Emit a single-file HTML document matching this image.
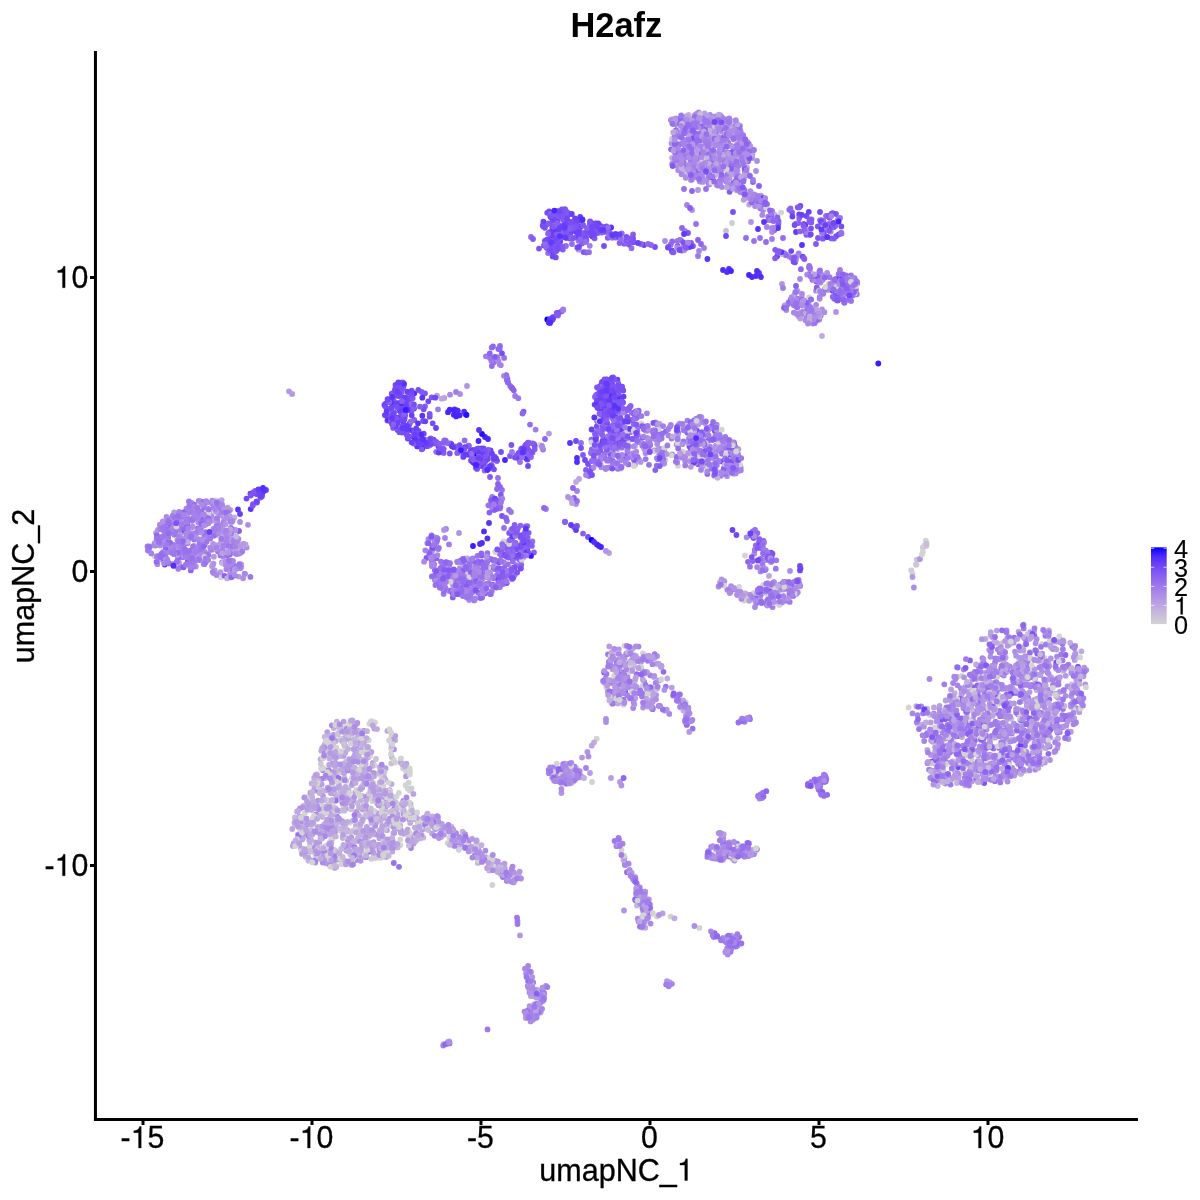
<!DOCTYPE html>
<html><head><meta charset="utf-8"><title>H2afz</title>
<style>
html,body{margin:0;padding:0;background:#fff;}
body{width:1200px;height:1200px;overflow:hidden;font-family:"Liberation Sans",sans-serif;}
svg{display:block;will-change:transform}
text{font-family:"Liberation Sans",sans-serif;fill:#000}
.t text,.t path{stroke:#000;stroke-width:0.3px}
.t path{stroke-width:10px}
.l text{stroke-width:0.12px}
.l path{stroke-width:4px}
</style></head><body>
<svg width="1200" height="1200" viewBox="0 0 1200 1200">
<defs><linearGradient id="cb" x1="0" y1="1" x2="0" y2="0">
<stop offset="0" stop-color="#d3d3d3"/><stop offset="0.125" stop-color="#c8bcda"/><stop offset="0.25" stop-color="#bba5e0"/><stop offset="0.375" stop-color="#ad8ee6"/><stop offset="0.5" stop-color="#9d77ec"/><stop offset="0.625" stop-color="#8a60f1"/><stop offset="0.75" stop-color="#7248f6"/><stop offset="0.875" stop-color="#522dfb"/><stop offset="1" stop-color="#0000ff"/>
</linearGradient></defs>
<rect width="1200" height="1200" fill="#fff"/>
<g fill="none" stroke-width="5.8" stroke-linecap="round">
<path stroke="#d3d3d3" d="M381.2 817.4h0M1049.6 679.9h0M334.7 752.4h0M512.0 559.2h0M327.3 800.1h0M1063.2 671.3h0M1022.6 701.2h0M974.9 724.9h0M628.1 442.6h0M391.8 749.4h0M345.5 727.3h0M574.9 769.7h0M952.2 730.3h0M722.7 135.9h0M966.5 721.4h0M717.3 464.2h0M540.0 445.0h0M343.5 836.4h0M985.7 727.9h0M713.9 427.5h0M395.1 762.5h0M994.6 765.6h0M405.3 831.6h0M452.2 576.7h0M712.3 456.5h0M1036.5 701.9h0M625.2 659.2h0M939.2 721.6h0M760.8 202.0h0M708.0 465.3h0M1080.1 657.4h0M1041.8 644.2h0M1075.2 707.5h0M327.0 830.3h0M626.4 678.4h0M723.4 461.9h0M917.7 724.0h0M534.1 1011.1h0M1008.0 745.9h0M747.7 847.9h0M1029.9 651.8h0M646.4 673.5h0M953.8 777.7h0M778.3 593.9h0M384.4 845.1h0M331.1 834.7h0M366.7 842.4h0M729.1 589.2h0M719.9 583.6h0M606.3 687.2h0M716.2 428.6h0M407.7 770.1h0M665.4 459.9h0M756.8 594.7h0M380.3 858.1h0M333.0 805.6h0M362.4 832.7h0M467.8 572.0h0M308.3 796.9h0M383.8 801.7h0M183.4 555.6h0M1044.4 657.9h0M382.6 789.7h0M391.2 742.6h0M734.7 165.8h0M748.6 594.6h0M703.0 159.6h0M1032.3 700.9h0M318.2 857.8h0M621.0 413.5h0M703.2 160.6h0M686.9 723.0h0M310.8 822.1h0M315.6 856.5h0M1048.9 721.2h0M1027.1 704.1h0M624.4 645.8h0M376.0 791.6h0M341.1 864.2h0M426.6 815.1h0M504.8 867.1h0M371.2 798.4h0M400.7 761.2h0M316.9 801.6h0M312.9 818.2h0M310.9 822.6h0M405.8 770.9h0M680.8 703.6h0M444.3 827.8h0M299.8 828.6h0M382.6 807.8h0"/>
<path stroke="#d0cdd5" d="M369.0 829.4h0M925.2 545.8h0M345.3 729.1h0M371.9 721.3h0M373.9 834.7h0M430.1 826.2h0"/>
<path stroke="#cec7d7" d="M985.3 680.6h0M1079.0 682.3h0M623.9 686.9h0M339.7 779.3h0M407.0 801.3h0"/>
<path stroke="#cbc2d8" d="M391.2 763.4h0M974.5 731.9h0M1001.4 643.3h0M365.0 837.6h0M1005.0 697.5h0M500.9 874.5h0M312.0 783.3h0M302.4 827.7h0M958.4 756.2h0M959.6 721.0h0"/>
<path stroke="#c8bcda" d="M366.2 757.9h0M726.0 231.0h0M365.4 815.9h0M421.8 823.5h0M964.9 702.2h0M934.6 751.9h0M362.4 772.1h0M345.9 761.9h0M737.6 160.3h0"/>
<path stroke="#c5b6dc" d="M417.0 836.6h0M383.5 805.7h0M637.0 905.5h0M414.2 842.3h0M362.4 736.1h0M460.4 566.3h0M733.1 171.1h0M996.9 676.4h0M1025.4 656.2h0M391.7 757.0h0M366.7 797.3h0"/>
<path stroke="#c2b0dd" d="M706.5 138.7h0M338.1 787.4h0M735.9 158.5h0M646.1 908.2h0M1036.1 707.5h0M330.4 777.5h0M328.5 826.7h0M316.0 851.5h0M932.6 774.1h0M329.9 834.7h0M698.8 126.3h0M315.5 842.4h0M409.4 819.2h0M300.0 825.6h0M243.0 545.5h0M711.7 177.8h0M333.7 728.0h0M762.0 593.7h0M1041.1 735.7h0M1060.8 727.1h0M1035.9 732.1h0M312.7 800.7h0M316.8 816.3h0M990.2 701.0h0M954.7 693.1h0M342.7 838.0h0M462.6 831.6h0"/>
<path stroke="#bfabdf" d="M343.3 738.4h0M337.7 820.9h0M1056.8 721.5h0M329.9 741.2h0M392.3 851.7h0M335.5 766.9h0M350.4 845.0h0M324.9 778.1h0M400.1 825.5h0M366.5 754.1h0M1045.7 748.2h0M632.0 697.3h0M966.9 717.0h0M729.6 166.3h0M414.9 813.1h0M989.1 708.3h0M489.2 870.4h0M332.2 781.1h0M391.6 784.1h0M310.6 860.2h0M976.8 780.3h0M1018.8 658.0h0M303.0 838.2h0M381.4 852.2h0M343.5 859.6h0M366.6 810.9h0M354.6 767.6h0M317.7 827.2h0M648.6 912.5h0M324.9 749.0h0M715.1 453.9h0M732.7 858.8h0M796.8 300.1h0M314.0 783.3h0M367.7 740.4h0M1014.8 670.6h0M379.5 789.1h0M332.7 859.3h0M331.4 789.9h0M1024.8 737.5h0M643.3 904.7h0M318.2 856.6h0M385.9 844.8h0M321.3 750.7h0M1049.9 711.9h0M381.8 773.3h0M730.7 126.3h0M921.6 724.7h0M972.5 701.3h0M432.4 816.4h0M402.9 810.2h0M230.6 509.8h0M354.6 854.5h0M302.8 827.7h0M373.0 846.9h0M632.9 648.6h0M530.1 983.9h0M349.2 769.8h0"/>
<path stroke="#bba5e0" d="M747.0 144.3h0M983.5 690.6h0M643.7 658.1h0M377.3 803.4h0M1009.7 740.0h0M411.0 819.8h0M315.4 808.1h0M706.8 172.0h0M343.6 808.2h0M812.0 315.9h0M302.3 839.4h0M635.0 446.0h0M730.8 137.1h0M1030.2 729.7h0M229.1 542.3h0M319.5 851.1h0M989.8 739.2h0M735.0 164.9h0M1076.7 669.7h0M419.1 819.4h0M711.4 151.0h0M342.0 791.8h0M700.0 163.0h0M393.7 846.8h0M1046.8 714.9h0M703.9 154.1h0M644.8 896.6h0M237.7 545.9h0M1018.5 709.1h0M415.8 815.9h0M957.9 777.3h0M412.0 814.4h0M1022.9 752.5h0M342.4 772.2h0M401.0 762.7h0M659.4 423.7h0M966.3 744.6h0M703.1 152.9h0M727.3 168.6h0M365.3 835.3h0M227.5 545.9h0M611.2 683.1h0M1009.4 644.5h0M356.1 841.1h0M1026.5 716.4h0M982.1 663.4h0M347.9 848.9h0M472.0 846.9h0M329.2 832.8h0M941.4 749.6h0M970.2 724.2h0M336.3 828.0h0M334.8 867.9h0"/>
<path stroke="#b89fe2" d="M305.4 827.8h0M329.4 802.0h0M729.6 159.0h0M799.2 584.3h0M716.4 427.3h0M377.3 845.8h0M1021.8 667.5h0M328.6 848.0h0M534.3 1011.8h0M984.8 765.2h0M327.0 832.3h0M377.9 855.6h0M738.5 449.1h0M727.0 170.1h0M1014.4 739.5h0M989.3 756.9h0M967.7 781.4h0M971.2 707.9h0M1041.5 746.2h0M958.8 775.5h0M416.6 819.9h0M958.3 778.9h0M504.0 864.1h0M611.0 682.8h0M410.5 803.8h0M542.5 1001.2h0M935.1 777.6h0M327.7 809.2h0M1041.2 764.0h0M413.9 818.9h0M396.9 817.3h0M611.0 778.0h0M326.2 863.3h0M342.6 794.5h0M994.6 704.0h0M310.4 792.7h0M1002.8 742.9h0M970.3 699.4h0M1042.3 693.4h0M319.5 847.4h0M315.1 804.2h0M302.4 850.6h0M683.9 702.3h0M397.6 804.1h0M956.8 667.1h0M678.2 425.1h0M678.9 123.3h0M693.2 119.8h0M305.8 856.7h0M723.0 836.6h0M738.5 457.4h0M745.2 139.1h0M760.0 197.7h0M609.0 553.0h0M717.5 121.2h0M368.5 757.1h0M952.2 779.0h0M355.9 740.4h0M1005.5 706.9h0M1050.2 737.6h0M356.2 813.5h0M735.9 450.0h0M736.0 849.1h0M1004.7 734.5h0M702.6 149.1h0M747.2 595.7h0"/>
<path stroke="#b599e3" d="M936.9 768.5h0M618.1 690.2h0M368.3 833.1h0M732.7 186.0h0M359.3 850.6h0M700.7 133.5h0M682.2 133.7h0M1009.2 770.6h0M704.5 118.9h0M327.8 800.7h0M174.2 512.3h0M532.1 1013.4h0M696.6 149.8h0M478.1 849.0h0M1009.9 753.3h0M371.3 844.8h0M1039.9 705.4h0M693.9 147.4h0M155.6 545.4h0M241.2 564.5h0M209.3 513.3h0M936.1 752.0h0M955.9 764.8h0M604.6 682.7h0M968.9 776.9h0M1027.4 703.8h0M941.2 728.3h0M313.3 851.7h0M1014.0 703.4h0M681.2 124.0h0M736.2 940.2h0M573.4 767.5h0M722.9 160.6h0M730.4 450.5h0M984.9 711.8h0M609.3 646.4h0M971.8 781.5h0M639.2 659.1h0M461.8 843.9h0M1028.1 638.9h0M737.2 164.9h0M332.9 760.8h0M620.6 468.4h0M728.5 160.4h0M652.7 692.9h0M984.9 714.7h0M736.2 176.4h0M983.1 664.6h0M644.7 922.3h0M992.8 694.0h0M1034.9 718.6h0M645.5 453.3h0M1007.4 637.8h0M956.9 677.0h0M366.7 833.2h0M1018.1 763.4h0M783.4 589.5h0M729.0 166.1h0M177.3 539.8h0M982.8 773.9h0M645.4 671.8h0M762.0 197.5h0M1030.2 632.1h0M217.6 574.5h0M994.9 737.5h0M394.2 832.9h0M1012.8 688.7h0"/>
<path stroke="#b194e5" d="M391.8 847.3h0M1068.1 731.3h0M989.6 779.3h0M544.1 993.1h0M443.4 826.6h0M1019.2 757.3h0M435.4 829.0h0M933.6 729.5h0M728.1 856.3h0M388.2 841.2h0M236.7 544.2h0M224.1 519.1h0M951.9 713.3h0M1023.6 624.6h0M1048.8 732.1h0M735.8 130.7h0M563.7 777.8h0M198.1 522.4h0M1007.1 696.8h0M776.6 589.7h0M635.7 900.4h0M794.2 295.1h0M383.3 812.1h0M705.1 141.4h0M541.8 989.9h0M954.4 750.9h0M712.4 133.9h0M641.3 668.6h0M561.4 793.0h0M667.0 981.1h0M1053.4 727.6h0M960.0 703.5h0M607.4 427.7h0M940.5 721.9h0M992.7 756.4h0M221.9 504.3h0M347.6 830.5h0M705.5 458.0h0M687.4 154.7h0M815.7 313.3h0M735.9 183.9h0M962.2 693.2h0M633.2 665.6h0M446.5 566.9h0M673.4 138.7h0M651.6 702.2h0M304.4 833.7h0M728.2 160.1h0M726.8 165.6h0M306.4 824.5h0M535.7 1007.6h0M1031.8 676.9h0M932.7 741.7h0M686.2 128.9h0M981.7 750.4h0M1083.5 676.3h0M967.5 698.8h0M727.0 476.2h0M240.0 568.3h0M972.6 745.5h0M989.2 649.8h0M1018.5 762.6h0M683.2 428.6h0M626.2 653.6h0M676.6 444.4h0M671.5 143.3h0M394.0 749.3h0M385.6 807.1h0M971.4 751.6h0M1085.3 684.4h0M684.4 166.7h0M731.8 172.4h0M997.8 776.4h0M940.6 726.3h0M941.4 717.1h0M971.3 769.9h0M678.4 162.5h0M345.4 787.6h0M693.0 134.3h0"/>
<path stroke="#ad8ee6" d="M767.8 589.5h0M204.9 552.0h0M1007.0 707.8h0M1080.9 698.1h0M1003.5 716.2h0M1065.6 695.8h0M1033.6 710.2h0M992.0 666.0h0M346.7 863.5h0M990.4 656.8h0M747.5 597.9h0M751.5 533.3h0M793.8 590.5h0M1058.2 707.6h0M323.0 832.1h0M316.3 816.4h0M357.4 852.6h0M947.7 735.2h0M605.6 469.1h0M946.5 736.4h0M967.1 720.3h0M1076.7 708.5h0M979.7 746.4h0M1040.0 741.3h0M779.7 584.7h0M990.8 652.3h0M721.0 131.0h0M968.9 747.2h0M647.6 430.7h0M469.1 600.0h0M750.6 198.4h0M984.7 749.7h0M942.5 736.1h0M637.8 918.6h0M665.0 241.0h0M159.8 524.7h0M688.7 426.3h0M315.3 862.6h0M986.6 729.5h0M827.6 289.9h0M675.7 118.3h0M751.1 597.1h0M996.8 723.2h0M687.0 143.9h0M836.4 291.0h0M707.9 169.3h0M720.2 138.8h0M185.3 552.3h0M822.0 309.4h0M984.9 708.8h0M718.8 859.1h0M476.7 566.1h0M980.0 708.0h0M175.4 519.2h0M1008.9 763.8h0M735.6 133.4h0M768.4 589.6h0M986.2 724.4h0M633.7 446.3h0M701.3 162.2h0M181.3 518.7h0M819.6 298.8h0M689.6 461.1h0M324.8 769.8h0M726.7 127.6h0M683.1 442.6h0M366.2 797.0h0M737.0 149.6h0M680.7 162.1h0M203.7 544.6h0M696.4 437.9h0M502.0 577.1h0M734.5 860.5h0M210.3 521.2h0M789.1 256.6h0M616.4 650.2h0M1075.2 645.8h0M460.0 394.0h0M620.7 663.3h0M311.6 824.0h0M576.0 504.0h0M319.2 815.3h0M718.4 137.0h0M694.3 151.2h0M157.4 564.2h0M643.8 899.4h0M951.5 705.6h0M606.0 719.0h0M1032.3 747.2h0"/>
<path stroke="#a988e8" d="M658.7 706.0h0M701.5 176.6h0M976.1 765.3h0M1003.8 675.5h0M218.2 524.5h0M736.6 165.5h0M995.4 685.8h0M238.4 538.9h0M698.8 112.4h0M695.1 446.4h0M239.4 553.5h0M1031.3 706.8h0M694.8 167.3h0M962.5 688.7h0M747.4 160.1h0M709.3 145.0h0M764.6 560.2h0M798.1 302.8h0M710.8 165.9h0M1082.1 704.4h0M1002.8 778.8h0M204.5 563.8h0M1026.3 752.0h0M444.9 829.6h0M714.1 151.5h0M174.4 534.7h0M681.5 159.3h0M819.4 319.5h0M730.8 855.5h0M565.3 763.6h0M506.8 880.9h0M709.9 449.1h0M314.0 783.8h0M530.9 980.8h0M806.3 311.0h0M715.4 858.7h0M1033.1 724.1h0M979.9 719.5h0M534.2 1014.2h0M712.3 132.8h0M746.7 151.7h0M957.0 723.3h0M474.9 585.3h0M733.8 139.4h0M597.0 420.9h0M739.2 181.2h0M816.1 290.7h0M217.5 501.3h0M208.2 519.6h0M681.0 131.7h0M229.1 510.4h0M529.5 992.4h0M534.1 1008.2h0M685.1 460.8h0M752.0 158.0h0M215.3 529.8h0M531.2 1014.9h0M494.9 866.1h0M181.9 550.1h0M945.5 762.8h0M816.1 304.8h0M609.2 664.9h0M540.8 998.4h0M700.1 453.9h0M216.1 545.7h0M744.7 850.4h0M963.4 708.2h0M1038.8 742.1h0M954.2 676.7h0M1051.5 726.7h0M1001.8 666.1h0M643.0 922.1h0M675.5 152.5h0M939.7 712.8h0M200.3 501.5h0M1028.8 738.5h0M771.0 562.0h0M800.0 279.0h0M727.8 851.1h0M356.0 860.0h0M723.8 849.1h0M677.8 126.6h0M976.1 766.7h0M849.4 290.0h0M994.3 674.6h0M771.9 228.2h0"/>
<path stroke="#a583e9" d="M962.8 704.8h0M638.5 646.6h0M989.9 697.6h0M728.2 142.5h0M206.3 518.4h0M613.1 696.8h0M511.8 547.4h0M930.3 777.9h0M608.8 661.9h0M1003.5 761.8h0M428.5 539.1h0M696.5 144.1h0M477.3 564.2h0M221.9 541.2h0M493.2 584.6h0M460.9 587.6h0M687.4 176.2h0M443.0 573.4h0M724.8 437.9h0M854.9 292.6h0M403.3 801.0h0M960.9 688.5h0M1068.6 732.7h0M996.3 682.0h0M164.3 561.2h0M622.6 411.7h0M334.2 761.5h0M1029.4 721.2h0M730.7 591.8h0M1012.5 678.7h0M713.3 122.8h0M577.0 491.0h0M950.8 741.3h0M570.6 769.5h0M198.2 515.4h0M720.3 438.0h0M308.7 804.5h0M644.7 655.7h0M917.6 715.2h0M703.2 148.7h0M648.9 655.9h0M217.3 520.4h0M981.3 698.9h0M179.6 528.0h0M354.8 778.6h0M216.5 527.0h0M335.2 762.8h0M234.7 536.2h0M738.1 143.4h0M921.2 706.5h0M743.4 158.9h0M977.0 750.8h0M648.4 440.9h0M701.2 153.8h0M707.6 139.5h0M578.9 772.6h0M623.6 673.6h0M470.5 598.8h0M533.2 982.5h0M597.1 460.0h0M692.5 440.8h0M678.3 432.8h0M744.2 849.2h0M165.7 537.8h0M1005.5 747.7h0M952.9 745.5h0M622.6 843.7h0M949.0 751.6h0M315.4 860.4h0M1018.8 772.2h0M700.3 146.1h0M702.5 178.6h0M655.6 682.8h0M689.3 169.2h0M434.3 564.5h0M446.0 529.0h0M747.2 197.5h0M997.8 649.3h0M164.8 550.8h0M312.2 849.1h0M683.6 158.4h0M693.0 441.5h0M801.2 298.8h0M927.1 733.1h0M616.5 846.2h0M639.8 887.4h0M849.6 283.7h0M1047.6 672.5h0M696.8 456.2h0M707.9 125.9h0M1021.2 684.8h0M572.5 777.3h0M731.0 146.1h0M1035.0 703.0h0M935.1 716.3h0M229.8 518.2h0M387.1 843.9h0M230.3 520.0h0M734.1 442.5h0M438.9 823.5h0M196.6 517.2h0M652.6 438.3h0M726.3 138.6h0M734.2 589.0h0M457.2 591.5h0M166.9 558.8h0M1041.4 666.5h0M699.6 180.7h0M729.6 855.0h0M1020.4 770.7h0M622.7 679.6h0M394.1 809.0h0M727.5 458.5h0M446.1 574.6h0M346.6 850.5h0M226.5 553.8h0M957.5 685.3h0M993.6 773.1h0M194.9 518.1h0M808.9 307.6h0M724.5 842.6h0M207.7 533.9h0M671.9 983.8h0M538.1 1012.8h0"/>
<path stroke="#a17dea" d="M1062.5 660.4h0M1026.1 697.8h0M1068.4 664.6h0M710.0 162.1h0M529.6 1017.3h0M681.6 120.7h0M230.6 520.9h0M726.8 165.4h0M1055.8 693.9h0M726.0 181.3h0M446.9 569.7h0M610.2 661.8h0M1028.1 678.5h0M324.3 745.7h0M485.7 571.3h0M199.8 531.0h0M464.6 586.8h0M707.4 856.9h0M172.7 515.9h0M716.5 145.0h0M739.3 937.1h0M785.3 255.0h0M704.0 248.0h0M165.4 523.8h0M1010.2 638.4h0M718.9 125.9h0M1022.8 692.0h0M1051.3 708.6h0M1048.7 737.9h0M655.6 422.5h0M974.8 729.1h0M988.8 698.1h0M173.5 544.9h0M668.7 986.3h0M466.8 597.6h0M589.8 245.8h0M995.3 658.4h0M818.7 779.5h0M974.7 672.0h0M733.8 471.9h0M984.0 731.9h0M485.9 356.3h0M738.7 850.6h0M618.4 440.2h0M721.7 442.9h0M714.8 431.0h0M682.9 143.4h0M845.9 284.3h0M1050.8 728.4h0M217.9 551.4h0M1047.0 720.4h0M474.6 586.8h0M497.0 561.7h0M585.6 242.1h0M196.3 533.3h0M477.8 570.2h0M951.4 740.7h0M629.8 687.1h0M772.0 239.0h0M678.7 694.6h0M1041.1 691.9h0M610.2 442.3h0M633.4 438.7h0M196.8 516.1h0M647.8 660.8h0M795.1 587.8h0M1027.4 694.2h0M623.4 672.2h0M1000.0 723.8h0M625.3 864.9h0M469.6 580.6h0M711.2 157.4h0M991.8 763.3h0M747.5 849.2h0M726.8 122.3h0M1013.6 674.0h0M955.0 702.1h0M1019.8 673.9h0M1011.8 733.6h0M1053.0 684.9h0"/>
<path stroke="#9d77ec" d="M194.3 515.6h0M692.1 429.3h0M182.5 557.2h0M775.8 568.7h0M616.0 670.5h0M1049.8 715.3h0M757.8 560.7h0M463.1 584.5h0M623.7 699.6h0M1000.3 782.4h0M714.1 475.5h0M788.2 304.0h0M591.5 468.8h0M199.5 541.9h0M470.8 571.5h0M835.9 297.3h0M608.0 654.3h0M1059.4 719.0h0M473.3 584.6h0M669.4 984.3h0M965.4 721.6h0M1037.3 757.1h0M808.5 317.3h0M198.2 550.8h0M696.7 158.3h0M1036.6 684.3h0M727.2 175.0h0M715.4 936.3h0M436.5 542.4h0M737.1 855.9h0M701.0 421.6h0M502.9 877.0h0M851.0 275.3h0M184.7 548.8h0M1003.4 730.6h0M763.0 553.1h0M729.6 856.6h0M733.6 473.5h0M512.4 567.9h0M737.0 843.7h0M693.2 436.6h0M967.0 748.1h0M724.4 161.5h0M797.0 313.9h0M1009.0 637.2h0M981.3 702.1h0M678.9 169.3h0M640.1 441.4h0M615.9 237.7h0M981.4 761.8h0M722.1 940.0h0M466.0 580.4h0M564.2 229.2h0M807.2 305.8h0M644.6 914.2h0M674.2 133.1h0M748.8 144.0h0M206.7 541.5h0M712.4 856.9h0M701.2 133.3h0M722.8 938.1h0M441.7 581.0h0M707.9 852.2h0M534.9 1009.9h0M749.6 153.3h0M563.2 764.2h0M1045.4 635.8h0M489.9 357.9h0M187.9 558.8h0M170.2 524.9h0M174.1 534.1h0M758.2 597.6h0M219.1 533.3h0M1062.9 727.0h0M497.0 577.6h0M943.2 729.4h0M510.3 570.0h0"/>
<path stroke="#9871ed" d="M494.6 569.1h0M694.3 145.2h0M973.6 700.6h0M707.0 432.7h0M809.5 318.7h0M657.5 433.6h0M502.0 490.0h0M492.4 585.6h0M946.2 762.1h0M719.9 833.2h0M617.8 235.6h0M731.8 135.2h0M760.0 238.0h0M703.6 438.5h0M166.1 561.4h0M955.3 771.1h0M707.3 463.0h0M513.4 550.9h0M470.6 573.6h0M750.0 566.7h0M992.2 768.2h0M483.5 567.5h0M617.8 468.8h0M174.8 522.1h0M707.1 457.4h0M737.4 153.4h0M191.1 555.0h0M578.5 240.8h0M729.1 170.7h0M621.8 447.7h0M507.9 382.2h0M1027.5 668.9h0M1009.4 706.7h0M201.6 511.4h0M955.4 774.7h0M976.1 765.3h0M690.9 423.4h0M624.7 862.1h0M836.2 222.3h0M179.1 553.1h0M464.7 558.6h0M652.8 707.8h0M435.4 585.1h0M813.7 315.4h0M1027.8 697.5h0M186.8 535.1h0M996.6 712.8h0M627.0 409.5h0M507.9 564.3h0M695.4 150.3h0M627.0 430.8h0M631.7 412.8h0M723.4 138.1h0M767.1 600.7h0M198.4 516.8h0M699.6 124.8h0M733.2 458.2h0M644.5 893.9h0M731.2 121.2h0M856.1 294.4h0M982.5 726.3h0M638.6 693.0h0M1022.5 681.9h0M482.2 597.6h0M479.6 570.1h0M399.0 866.8h0M711.8 426.4h0M433.2 563.2h0M192.4 549.3h0M1030.2 686.3h0M675.3 164.2h0M984.7 693.0h0M807.9 785.6h0"/>
<path stroke="#946cee" d="M760.5 797.5h0M774.3 230.2h0M690.5 447.0h0M497.1 575.0h0M1034.8 679.1h0M691.3 444.7h0M721.4 440.8h0M736.9 452.7h0M621.2 429.4h0M612.2 417.7h0M624.4 411.8h0M493.5 362.5h0M437.5 581.0h0M644.3 905.0h0M663.4 459.7h0M616.8 435.4h0M474.2 598.9h0M753.0 534.3h0M942.5 727.6h0M1029.9 652.8h0M737.7 156.1h0M1062.4 643.8h0M841.8 296.4h0M613.4 703.2h0M603.2 438.8h0M491.7 347.6h0M748.9 195.2h0M691.7 455.3h0M636.7 674.1h0M1048.4 753.8h0M202.2 545.5h0M621.8 233.4h0M530.0 424.6h0M842.7 287.6h0M566.0 246.0h0M820.7 315.6h0M442.1 573.5h0M976.2 778.1h0M690.8 143.7h0M605.7 231.6h0M501.3 500.0h0M762.0 542.0h0M204.4 534.8h0M460.3 587.0h0M1020.4 695.2h0M1002.6 674.4h0M823.5 221.0h0M687.8 711.8h0M190.5 550.7h0M581.0 443.0h0M464.6 440.4h0M727.4 939.8h0M993.5 748.4h0M469.4 563.1h0M657.9 459.2h0M751.3 854.7h0M812.4 279.8h0M436.2 451.8h0M728.2 851.6h0M604.9 458.4h0M723.0 844.5h0M193.8 560.9h0M698.4 136.3h0M953.5 743.8h0M736.0 946.6h0"/>
<path stroke="#8f66f0" d="M500.5 568.6h0M632.4 438.9h0M521.0 554.3h0M504.5 576.1h0M591.5 439.7h0M844.0 292.9h0M475.0 460.7h0M620.5 430.3h0M671.1 149.3h0M500.6 499.7h0M729.2 133.2h0M499.6 349.0h0M821.6 778.4h0M710.0 126.2h0M713.2 134.5h0M561.6 311.4h0M723.8 439.8h0M553.7 255.1h0M551.2 233.1h0M739.3 188.4h0M478.1 592.6h0M504.2 567.9h0M1023.2 673.5h0M708.4 154.5h0M952.2 747.8h0M186.3 542.5h0M978.3 665.9h0M753.0 182.0h0M774.4 216.9h0M492.5 507.8h0M611.8 432.8h0M782.7 253.4h0M654.9 437.1h0M595.0 449.1h0M748.2 161.3h0M793.2 595.9h0M1066.2 666.4h0M594.0 453.7h0M737.9 937.8h0M854.2 290.4h0M501.5 555.7h0M692.0 191.0h0M186.7 542.8h0M755.0 530.0h0M758.4 203.4h0M530.2 451.9h0M573.0 488.0h0M531.0 237.0h0M686.4 116.9h0M621.0 420.0h0"/>
<path stroke="#8a60f1" d="M610.3 431.7h0M394.0 401.5h0M555.9 242.9h0M555.2 221.7h0M617.5 429.6h0M560.6 215.8h0M519.2 459.5h0M588.9 234.9h0M686.9 431.0h0M623.7 422.1h0M600.5 413.0h0M601.5 394.8h0M630.2 406.6h0M519.1 557.6h0M712.7 428.1h0M494.2 510.1h0M337.0 817.0h0M612.8 425.3h0M434.8 569.9h0M644.5 426.4h0M181.0 546.7h0M610.3 441.7h0M619.6 243.0h0M489.3 567.7h0M527.1 549.6h0M604.8 381.6h0M825.6 777.2h0M768.4 219.9h0M492.1 584.7h0M523.1 548.8h0M689.2 128.4h0M995.9 730.9h0M512.1 578.9h0M526.0 535.1h0"/>
<path stroke="#845af2" d="M642.9 437.6h0M386.6 408.3h0M589.4 227.7h0M515.3 543.3h0M798.3 223.1h0M803.7 223.9h0M403.7 385.8h0M755.1 595.4h0M509.9 541.7h0M413.6 442.7h0M939.6 758.4h0M696.2 420.7h0M481.7 555.6h0M1044.6 739.4h0M485.2 593.3h0M566.4 228.8h0M605.7 396.9h0M595.0 397.0h0M750.9 535.5h0M506.2 375.1h0M515.6 542.8h0M500.0 573.4h0M610.0 404.8h0M611.7 402.0h0M766.9 204.2h0M604.3 401.6h0M648.6 445.7h0M607.8 237.8h0M522.8 536.4h0M760.3 541.7h0M534.7 446.3h0M711.3 172.3h0M816.0 244.0h0M1056.5 724.1h0M977.0 726.7h0M698.3 464.3h0M572.5 225.4h0M510.0 456.0h0M729.6 191.8h0M444.3 563.5h0M624.3 243.7h0M599.7 229.3h0"/>
<path stroke="#7e54f3" d="M836.0 214.0h0M697.0 430.7h0M984.2 783.0h0M838.0 300.3h0M555.2 242.4h0M653.4 422.9h0M609.9 396.9h0M640.3 891.5h0M587.8 232.7h0M580.7 226.9h0M607.5 443.7h0M611.7 412.1h0M401.9 418.1h0M1063.8 719.0h0M386.3 415.0h0M618.5 405.2h0M539.0 248.6h0M469.6 455.1h0M728.0 851.5h0M598.3 404.6h0M425.0 393.3h0M561.8 209.4h0M583.6 252.1h0M493.6 578.1h0M406.3 427.8h0M544.0 245.5h0M509.2 532.9h0M542.7 225.4h0M715.0 430.7h0M558.1 232.7h0M617.0 410.6h0"/>
<path stroke="#784ef5" d="M702.4 153.8h0M562.6 218.0h0M423.0 421.0h0M410.2 402.6h0M832.7 213.2h0M612.8 387.4h0M611.7 412.8h0M569.0 235.0h0M434.8 548.1h0M407.0 431.7h0M576.8 236.6h0M564.6 220.3h0M415.6 434.5h0M407.8 428.2h0M526.2 444.3h0M478.6 450.8h0M478.3 452.2h0M496.9 460.7h0M590.2 229.6h0M1038.1 684.5h0M940.6 719.2h0M603.0 227.2h0M811.0 228.5h0M387.4 420.6h0M434.8 443.4h0M958.0 736.0h0M619.4 408.3h0M771.0 552.7h0M836.1 236.2h0M820.0 212.0h0M613.0 378.7h0M597.6 225.7h0M522.7 451.1h0M515.0 457.6h0M606.4 226.5h0M390.2 420.9h0M391.3 408.9h0M581.0 448.0h0M597.0 394.5h0"/>
<path stroke="#7248f6" d="M414.0 432.6h0M597.9 421.2h0M567.7 229.4h0M726.9 162.7h0M565.3 236.3h0M613.9 389.1h0M554.5 228.7h0M400.5 426.9h0M600.2 414.5h0M719.5 120.2h0M433.6 439.7h0M600.9 410.0h0M607.9 387.4h0M606.9 399.8h0M560.3 241.2h0M468.6 445.7h0M624.2 438.9h0M398.4 389.0h0M477.2 449.0h0M686.2 245.4h0M418.6 430.8h0M573.1 229.2h0M613.3 393.3h0M389.6 416.2h0M576.0 441.0h0M647.6 907.6h0M1078.0 667.0h0M553.3 221.9h0M471.0 460.6h0M616.9 389.2h0M627.6 437.5h0M558.4 224.9h0"/>
<path stroke="#6b41f7" d="M403.5 400.9h0M611.0 381.4h0M600.0 409.4h0M568.6 229.7h0M609.1 383.9h0M553.7 250.5h0M487.2 470.0h0M602.5 441.5h0M397.7 430.0h0M618.3 388.9h0M250.4 493.7h0M583.0 235.3h0M799.2 214.4h0M613.3 409.8h0M845.1 293.4h0M615.9 405.6h0M732.5 530.0h0M436.0 428.0h0M603.5 383.3h0M644.0 245.0h0M403.2 422.3h0"/>
<path stroke="#633bf8" d="M809.9 234.8h0M550.0 323.0h0M401.4 413.2h0M479.6 464.5h0M701.1 421.4h0M605.8 398.3h0M613.2 394.9h0M409.5 423.7h0M472.4 451.3h0"/>
<path stroke="#5b34f9" d="M606.8 395.2h0M522.6 543.0h0M397.4 417.6h0M758.0 229.0h0M668.0 247.6h0M601.3 444.7h0M591.0 225.7h0M487.1 455.9h0M422.3 415.7h0M556.3 230.0h0"/>
<path stroke="#522dfb" d="M595.8 231.0h0M480.0 544.0h0M752.0 277.0h0M625.0 691.5h0M454.6 409.5h0M549.8 320.7h0M600.4 391.1h0M579.0 219.9h0"/>
<path stroke="#4725fc" d="M594.3 234.0h0M505.0 460.0h0M601.0 547.0h0M597.0 544.4h0M551.4 320.3h0"/>
<path stroke="#3a1cfd" d="M422.4 448.6h0"/>
<path stroke="#d3d3d3" d="M340.9 739.0h0M677.9 120.7h0M939.9 751.8h0M704.2 440.1h0M739.0 587.0h0M730.8 458.6h0M742.9 593.9h0M979.2 675.5h0M768.1 595.7h0M779.1 222.2h0M789.4 591.9h0M357.0 811.5h0M349.9 822.5h0M417.9 823.2h0M369.3 723.8h0M609.9 696.9h0M740.9 458.5h0M1004.9 778.9h0M966.4 687.3h0M421.9 820.3h0M964.5 766.3h0M1073.6 709.6h0M351.9 865.2h0M738.2 846.4h0M628.2 674.0h0M643.0 653.5h0M391.3 736.9h0M523.6 556.9h0M195.1 538.8h0M739.6 154.3h0M394.0 760.2h0M184.5 514.7h0M818.8 282.6h0M343.4 756.4h0M689.7 124.7h0M616.3 681.0h0M387.3 823.3h0M400.1 807.9h0M375.7 857.8h0M636.4 686.4h0M1044.2 659.4h0M1036.8 638.6h0M642.4 915.9h0M154.6 556.2h0M685.8 702.3h0M1046.4 662.7h0M652.5 913.8h0M447.7 843.1h0M329.8 842.1h0M726.9 847.8h0M990.5 774.6h0M536.8 1008.5h0M679.6 127.9h0M366.6 776.3h0M690.6 160.9h0M225.5 562.4h0M938.5 762.4h0M411.2 807.5h0M596.7 738.7h0M995.4 693.9h0M1026.0 738.1h0M307.4 857.9h0M705.3 456.9h0M390.7 797.2h0M646.3 692.9h0M976.8 685.7h0M370.0 755.7h0M400.3 839.4h0M330.4 753.0h0M991.9 712.7h0M676.9 434.8h0M350.4 809.1h0M735.2 859.1h0M560.2 782.9h0M351.8 854.0h0M973.6 723.9h0M959.8 699.6h0M700.6 438.5h0M535.0 1018.4h0M339.4 793.8h0M215.7 500.4h0M362.7 841.3h0M781.1 212.6h0M1059.9 726.6h0M828.7 283.8h0M736.7 856.9h0M977.9 690.9h0M641.5 423.3h0M356.6 732.1h0M396.5 796.5h0M770.2 598.1h0M371.0 795.9h0M220.6 577.4h0"/>
<path stroke="#d0cdd5" d="M340.4 857.1h0M347.0 848.7h0"/>
<path stroke="#cec7d7" d="M512.5 875.4h0M332.6 738.5h0M329.6 818.8h0M353.5 739.6h0M922.9 547.5h0"/>
<path stroke="#cbc2d8" d="M329.4 819.7h0M384.0 802.2h0M379.2 799.6h0M346.3 780.8h0M949.1 753.2h0M690.4 179.8h0M339.7 811.0h0M694.2 153.6h0"/>
<path stroke="#c8bcda" d="M329.7 774.3h0M338.4 732.9h0M323.9 825.9h0M329.3 825.9h0M408.4 818.0h0M635.0 680.8h0M360.7 737.2h0M364.8 777.2h0M381.7 807.7h0M351.1 740.4h0M1028.0 634.0h0M331.7 850.0h0M355.5 752.4h0M383.9 851.3h0M412.9 815.8h0"/>
<path stroke="#c5b6dc" d="M1018.4 746.7h0M656.9 688.9h0M340.1 859.1h0M338.6 770.8h0M1011.1 718.8h0M345.3 733.3h0M365.6 751.0h0M360.8 849.0h0M362.0 759.7h0M308.6 860.7h0M1016.7 730.5h0M312.4 807.3h0M969.1 749.1h0M947.3 737.7h0M350.4 854.6h0M336.7 775.1h0M718.1 173.9h0M395.2 740.3h0M359.7 826.1h0M322.1 832.4h0M352.8 781.2h0"/>
<path stroke="#c2b0dd" d="M228.0 551.9h0M346.0 768.1h0M338.0 779.7h0M336.0 740.9h0M371.5 722.3h0M347.0 800.6h0M412.2 836.0h0M370.5 788.7h0M334.6 816.4h0M694.5 432.3h0M418.8 834.2h0M624.1 665.4h0M997.3 758.2h0M352.9 820.7h0M358.7 854.0h0M672.0 158.0h0M309.9 845.2h0M539.1 1008.8h0M326.0 776.9h0M357.9 837.8h0M362.2 751.9h0M774.7 214.6h0M394.8 828.5h0M322.1 814.5h0M234.4 517.5h0M336.4 796.1h0M955.6 770.5h0M706.8 124.2h0M347.3 862.1h0"/>
<path stroke="#bfabdf" d="M345.5 848.9h0M369.0 849.4h0M371.0 779.0h0M355.9 825.9h0M1039.8 660.7h0M325.8 846.5h0M747.0 167.4h0M365.6 815.2h0M977.2 751.3h0M1034.5 759.2h0M356.3 724.0h0M237.4 541.6h0M993.0 714.9h0M359.6 774.4h0M417.2 828.3h0M1023.0 648.0h0M458.9 848.9h0M930.7 731.2h0M615.6 678.9h0M594.0 742.4h0M443.6 1044.2h0M1053.2 717.7h0M395.3 824.2h0M996.8 642.8h0M421.8 826.3h0M822.0 336.0h0M999.3 759.5h0M332.1 838.7h0M1032.1 673.3h0M617.5 653.0h0M561.2 773.8h0M368.0 842.0h0M320.6 759.2h0M346.7 795.9h0M976.1 664.5h0M488.4 862.4h0"/>
<path stroke="#bba5e0" d="M308.3 857.2h0M431.8 820.5h0M359.6 773.7h0M646.7 698.6h0M703.4 161.2h0M345.0 740.2h0M307.6 855.1h0M691.8 144.6h0M816.3 309.5h0M368.2 816.5h0M1026.4 694.2h0M343.3 772.0h0M380.3 773.2h0M1063.9 669.9h0M1037.5 708.9h0M1008.5 711.6h0M1048.9 630.3h0M309.3 840.3h0M654.9 658.1h0M1025.6 644.3h0M396.2 810.6h0M345.1 746.2h0M319.2 787.5h0M724.3 126.7h0M1007.2 771.7h0M342.1 740.9h0M635.7 879.6h0M404.0 833.8h0M332.5 771.8h0M1023.4 679.7h0M362.5 854.0h0M320.4 855.6h0M369.4 836.0h0M331.0 746.2h0M931.7 731.9h0M295.4 820.3h0M933.9 707.4h0M989.4 670.5h0M1051.4 677.4h0M348.0 738.7h0M352.6 725.2h0M741.5 178.7h0M927.3 749.8h0M223.8 537.3h0M540.5 1012.5h0M350.4 831.8h0M713.2 136.0h0M987.6 772.6h0M1012.4 732.1h0M961.0 696.7h0M432.1 833.4h0M372.9 762.8h0M332.0 779.2h0M1052.2 720.2h0M1077.2 683.3h0M334.5 852.6h0M403.6 813.2h0M579.0 479.0h0M374.3 728.6h0M700.9 181.6h0"/>
<path stroke="#b89fe2" d="M734.6 135.6h0M331.9 753.4h0M378.3 814.4h0M412.9 838.1h0M1002.5 724.9h0M951.1 689.4h0M345.5 808.7h0M986.1 715.3h0M925.0 712.5h0M1002.2 777.6h0M1014.4 724.9h0M292.9 845.9h0M444.3 398.0h0M637.5 898.6h0M237.9 542.2h0M461.2 570.7h0M968.7 728.2h0M437.0 395.7h0M500.3 872.8h0M363.6 774.7h0M980.2 763.8h0M398.1 827.2h0M959.9 726.0h0M218.6 529.9h0M651.8 708.4h0M978.6 685.8h0M403.2 819.3h0M656.4 663.8h0M364.1 856.6h0M352.3 799.3h0M945.7 700.5h0M368.4 794.8h0M697.7 162.2h0M393.5 832.9h0M942.4 745.8h0M372.5 849.4h0M494.5 868.5h0M688.0 150.9h0M318.7 827.4h0M1021.7 677.0h0M1002.2 752.5h0M765.3 591.0h0M395.3 736.0h0M989.6 737.8h0M717.6 157.3h0M301.0 848.2h0M691.1 180.1h0M1079.3 712.2h0M676.3 165.3h0M184.3 555.4h0M387.1 856.2h0M362.8 819.5h0M212.9 565.0h0M422.1 829.7h0"/>
<path stroke="#b599e3" d="M461.7 838.1h0M680.7 121.9h0M985.6 765.9h0M731.2 935.7h0M610.0 683.2h0M363.7 743.5h0M203.1 523.9h0M692.6 120.5h0M681.6 136.7h0M690.6 426.3h0M384.7 802.8h0M736.8 157.6h0M489.6 866.5h0M676.9 427.3h0M729.7 178.8h0M669.8 982.5h0M1003.9 772.3h0M540.6 1012.0h0M713.3 142.3h0M328.9 854.1h0M963.9 762.9h0M1042.8 722.8h0M558.0 778.1h0M982.8 697.0h0M222.2 554.5h0M525.8 1018.1h0M351.6 844.5h0M220.5 572.1h0M743.7 154.0h0M362.6 809.5h0M1033.2 736.4h0M1005.9 767.4h0M373.6 842.2h0M709.7 169.7h0M298.4 834.4h0M654.4 676.0h0M621.7 701.7h0M1065.7 675.8h0M333.8 772.4h0M607.3 685.5h0M383.6 842.4h0M985.5 721.5h0M1051.3 705.6h0M992.8 688.8h0M960.4 722.4h0M362.6 731.6h0M735.7 459.0h0M681.3 700.7h0M685.6 143.2h0M1019.5 751.7h0M1046.2 727.7h0M971.6 687.6h0M353.5 856.4h0M800.4 314.3h0M351.3 837.4h0M385.6 768.2h0M690.9 149.3h0M688.5 123.3h0M528.2 1013.6h0M515.0 873.8h0M693.2 121.3h0M191.2 518.9h0M339.3 818.6h0M324.3 829.1h0M652.5 694.5h0M520.0 935.4h0M999.6 685.7h0M729.3 591.3h0M996.2 690.7h0M730.2 441.1h0M1037.1 674.4h0M798.8 316.4h0M635.3 678.8h0M227.5 541.0h0M160.6 559.4h0M533.7 996.3h0M413.5 843.6h0M748.7 597.5h0"/>
<path stroke="#b194e5" d="M235.4 548.9h0M1040.6 691.9h0M1044.5 704.1h0M746.8 150.7h0M960.8 761.2h0M459.0 533.0h0M1075.5 653.6h0M643.1 707.5h0M1084.2 667.7h0M738.8 143.9h0M223.4 510.0h0M395.6 826.7h0M1003.7 674.3h0M972.2 747.5h0M427.8 821.7h0M202.5 515.0h0M317.1 777.6h0M729.3 842.3h0M532.5 992.8h0M1007.0 772.5h0M731.9 158.0h0M618.5 675.0h0M936.1 736.5h0M799.5 314.1h0M389.4 824.6h0M770.4 589.5h0M695.2 145.3h0M580.5 775.7h0M817.1 281.6h0M990.9 746.5h0M557.5 773.8h0M1002.4 654.1h0M1033.1 718.1h0M682.2 171.1h0M989.1 743.7h0M578.7 249.7h0M227.1 538.9h0M656.2 695.1h0M208.8 511.1h0M690.6 129.7h0M469.2 579.5h0M990.4 667.6h0M974.1 729.6h0M980.4 781.7h0M380.4 770.6h0M989.7 764.5h0M716.7 430.1h0M720.6 115.5h0M630.1 649.0h0M504.5 870.4h0M478.9 573.5h0M717.8 143.1h0M989.3 772.7h0M684.1 144.6h0M644.4 898.0h0M618.8 649.3h0M1023.9 740.3h0M1006.9 718.7h0M677.1 143.9h0M632.9 659.1h0M360.0 855.3h0M207.3 502.3h0M698.0 190.0h0M686.1 711.7h0M985.9 774.8h0M344.7 790.5h0M1078.6 671.6h0M759.1 544.7h0M232.4 535.6h0M945.6 738.5h0M953.6 717.1h0M991.4 645.6h0M190.9 556.0h0M691.7 170.1h0M677.7 436.5h0M697.0 123.3h0M992.1 683.3h0M724.4 581.2h0M562.7 767.4h0M686.2 152.9h0M171.8 526.6h0M332.7 755.5h0M167.8 539.5h0M681.1 452.4h0M459.8 841.8h0M1030.1 723.8h0M685.0 705.1h0M647.2 915.6h0M1049.1 679.1h0M634.7 685.7h0M366.5 811.0h0M373.9 822.0h0M691.2 118.8h0M403.4 805.1h0M304.3 797.5h0"/>
<path stroke="#ad8ee6" d="M804.7 312.8h0M786.5 588.7h0M389.7 790.1h0M967.4 723.2h0M364.1 730.8h0M366.1 776.0h0M698.4 171.8h0M705.9 132.8h0M771.2 593.1h0M701.4 417.1h0M215.8 534.9h0M331.8 725.3h0M1074.6 656.1h0M616.0 691.7h0M477.3 570.2h0M737.3 124.1h0M1035.2 769.7h0M950.3 733.4h0M688.4 707.6h0M939.4 744.9h0M954.9 764.3h0M360.4 841.5h0M631.5 876.5h0M1086.3 670.1h0M210.9 549.8h0M357.3 738.2h0M987.8 718.8h0M925.7 735.3h0M983.0 740.5h0M570.0 773.8h0M506.9 542.5h0M545.9 986.0h0M695.5 462.7h0M502.1 865.5h0M362.1 787.8h0M628.9 446.8h0M1041.5 685.4h0M341.5 770.5h0M946.9 749.2h0M1028.3 704.9h0M182.1 550.3h0M679.5 132.7h0M689.6 713.3h0M657.1 656.1h0M843.1 295.4h0M328.0 812.4h0M1071.2 696.1h0M154.9 545.6h0M682.5 172.3h0M176.1 519.8h0M353.3 800.8h0M845.8 298.2h0M974.0 773.6h0M1017.4 683.1h0M473.1 850.6h0M191.8 502.9h0M1041.4 726.8h0M1070.9 706.5h0M297.6 819.5h0M1048.8 733.9h0M635.9 646.3h0M718.4 853.7h0M737.8 591.7h0M704.0 445.0h0M334.4 789.5h0M374.0 817.3h0M740.6 591.9h0M935.5 735.9h0M617.7 660.0h0M648.2 917.4h0M661.5 666.0h0M728.0 184.2h0M1041.6 700.9h0M710.0 151.0h0M686.7 176.8h0M827.2 272.9h0M982.3 685.5h0M707.5 441.2h0M1024.6 677.8h0M366.2 782.4h0M853.1 292.6h0M1021.5 671.0h0M706.1 129.9h0M790.0 570.9h0M160.4 545.5h0"/>
<path stroke="#a988e8" d="M705.4 117.3h0M772.0 232.0h0M212.3 549.7h0M1057.0 656.6h0M805.5 320.3h0M434.4 575.8h0M624.8 864.8h0M725.6 166.5h0M624.4 664.2h0M645.9 430.7h0M739.9 133.7h0M801.3 312.4h0M725.4 952.3h0M189.6 556.4h0M449.3 591.0h0M158.0 544.3h0M718.3 161.8h0M733.1 122.2h0M744.6 850.9h0M952.4 719.0h0M942.8 778.3h0M534.6 1017.4h0M1033.0 737.4h0M938.2 769.2h0M932.6 778.6h0M498.5 361.5h0M1007.6 688.1h0M941.5 757.3h0M170.8 551.9h0M563.2 775.2h0M234.4 547.3h0M988.3 757.3h0M998.7 659.4h0M1017.8 693.2h0M642.8 899.7h0M664.7 710.5h0M1068.0 720.0h0M556.9 781.0h0M748.7 175.1h0M640.8 903.9h0M526.1 973.6h0M710.0 114.8h0M510.8 871.5h0M754.7 851.9h0M1040.6 691.7h0M688.5 153.4h0M458.7 842.5h0M635.2 877.1h0M1044.8 683.8h0M745.0 171.6h0M810.2 272.3h0M177.5 527.9h0M711.0 123.5h0M639.7 889.7h0M800.1 317.3h0M532.8 1019.7h0M684.9 705.1h0M302.3 821.3h0M319.2 806.9h0M404.0 814.2h0M772.6 607.2h0M616.7 661.8h0M316.0 814.5h0M503.9 375.8h0M605.5 680.3h0M328.7 770.2h0M691.7 720.7h0M441.9 566.5h0M985.3 775.8h0M493.8 565.9h0M188.4 519.4h0M738.2 454.4h0M213.9 506.6h0M680.0 707.0h0M734.2 163.1h0M701.8 158.1h0M1054.7 648.4h0M691.4 429.4h0M727.4 589.7h0M459.9 568.4h0M824.2 782.0h0M708.5 127.7h0M1005.7 739.8h0M1073.4 712.9h0M747.6 849.7h0M736.4 936.4h0M534.6 1011.5h0M660.1 448.9h0M842.0 281.4h0M462.6 593.5h0M1032.3 728.9h0M725.7 156.2h0M985.6 779.1h0M191.9 533.2h0M734.9 169.8h0M451.4 826.9h0M733.9 454.1h0M810.7 313.8h0"/>
<path stroke="#a583e9" d="M411.0 848.0h0M685.0 231.0h0M740.1 855.1h0M1026.5 741.1h0M1037.2 734.9h0M942.1 731.0h0M528.7 1009.7h0M474.5 852.4h0M1039.4 667.5h0M530.2 1019.3h0M716.7 424.7h0M642.3 445.7h0M679.8 423.6h0M612.8 449.7h0M677.6 439.3h0M737.8 853.8h0M847.4 280.8h0M702.3 160.3h0M332.3 782.7h0M445.8 574.9h0M637.3 427.9h0M613.4 691.9h0M703.4 123.3h0M186.4 508.7h0M544.1 993.3h0M223.2 556.3h0M746.7 160.5h0M1045.2 691.0h0M1006.5 630.3h0M748.5 856.0h0M713.0 137.9h0M941.0 725.4h0M982.0 765.1h0M633.5 688.0h0M202.0 546.5h0M790.8 591.6h0M180.2 532.9h0M700.3 460.3h0M991.8 644.1h0M754.5 531.4h0M642.5 908.6h0M575.5 778.9h0M323.1 770.2h0M432.5 820.1h0M713.0 858.3h0M746.2 848.9h0M1008.3 729.2h0M204.8 516.8h0M1047.5 716.8h0M443.2 1045.6h0M1047.0 702.1h0M960.0 703.3h0M557.6 776.5h0M203.6 563.7h0M627.1 654.2h0M749.5 147.7h0M990.9 651.3h0M643.8 897.6h0M822.7 293.5h0M988.7 693.1h0M712.8 457.9h0M1056.8 725.6h0M1001.0 736.0h0M696.9 113.6h0M1021.0 687.0h0M632.9 453.5h0M734.7 147.2h0M933.9 713.7h0M177.6 552.6h0M691.2 155.2h0M535.8 1009.0h0M740.4 850.8h0M755.9 601.1h0M972.0 674.1h0M765.6 205.2h0M445.0 538.0h0M704.9 145.5h0M982.4 658.1h0M158.9 556.7h0M722.1 154.3h0M812.8 323.5h0M457.0 584.3h0M1047.5 742.4h0M445.6 571.8h0M826.0 237.3h0M187.7 511.9h0M160.7 537.6h0M1008.6 761.3h0M485.8 575.0h0M1025.6 759.4h0"/>
<path stroke="#a17dea" d="M1028.0 668.1h0M211.9 503.2h0M699.4 417.0h0M686.4 166.7h0M164.0 535.9h0M650.3 675.3h0M478.7 586.6h0M939.6 715.8h0M1080.5 671.0h0M660.2 436.8h0M983.8 662.8h0M618.9 671.7h0M743.5 597.9h0M999.4 778.4h0M448.1 1041.8h0M677.6 246.4h0M1018.1 714.4h0M685.8 123.4h0M642.0 696.6h0M640.6 926.5h0M720.8 475.8h0M559.6 769.8h0M995.0 662.5h0M693.2 174.6h0M789.7 601.9h0M996.1 765.7h0M487.4 577.2h0M480.4 584.1h0M1021.7 757.6h0M721.9 130.2h0M171.9 544.5h0M230.5 552.2h0M486.5 576.3h0M1054.8 708.7h0M991.7 736.0h0M697.9 160.5h0M182.8 551.3h0M627.0 645.9h0M798.7 253.3h0M687.4 150.7h0M746.0 149.6h0M760.3 595.8h0M710.7 130.5h0M174.1 521.0h0M682.9 704.0h0M686.8 247.1h0M730.1 589.2h0M517.5 921.0h0M945.2 746.2h0M158.4 540.3h0M186.3 555.3h0M437.6 538.5h0M536.6 1017.5h0M684.3 142.9h0M661.0 666.7h0M721.8 148.2h0M621.9 411.8h0M445.2 562.6h0M740.4 192.0h0M225.2 564.2h0M638.9 459.7h0M196.6 532.4h0M441.4 568.5h0M714.8 449.4h0M609.5 447.7h0M432.6 564.6h0M199.6 546.4h0M997.8 687.8h0M656.8 437.7h0M500.7 560.5h0M613.1 441.0h0M497.6 357.2h0M498.3 871.4h0M472.3 581.2h0M354.6 847.1h0M960.7 757.2h0M1043.3 760.7h0M189.2 534.1h0M185.2 549.6h0M192.9 562.1h0"/>
<path stroke="#9d77ec" d="M923.1 713.3h0M994.6 692.8h0M499.9 508.4h0M702.3 126.2h0M678.5 120.5h0M631.0 873.4h0M686.8 724.9h0M217.9 507.5h0M558.1 315.6h0M500.0 587.1h0M1028.2 698.4h0M740.6 467.2h0M702.1 170.8h0M688.8 157.4h0M616.5 451.0h0M197.6 516.2h0M180.7 524.9h0M843.3 279.1h0M735.2 181.5h0M165.5 544.1h0M1062.3 715.1h0M701.3 174.2h0M706.5 456.2h0M735.6 464.1h0M542.7 989.7h0M1033.8 759.2h0M678.6 136.4h0M739.9 125.9h0M721.2 451.8h0M552.9 767.3h0M436.6 577.5h0M186.8 542.9h0M732.9 945.2h0M480.0 593.7h0M543.8 994.8h0M711.3 846.9h0M744.9 854.4h0M758.8 590.2h0M745.9 174.9h0M183.7 530.1h0M699.7 436.0h0M694.0 420.3h0M754.9 200.5h0M788.4 586.4h0M494.9 499.6h0M192.7 550.7h0M683.8 703.3h0M516.3 565.1h0M199.6 544.5h0M825.0 775.5h0M762.4 564.3h0M731.3 446.3h0M1005.0 766.5h0M159.9 528.8h0M455.0 579.3h0M768.2 216.6h0M695.2 155.6h0M163.8 527.3h0M837.2 298.8h0M792.2 300.4h0M1084.3 671.9h0M508.3 875.5h0M809.8 299.1h0M1046.0 644.5h0M612.3 237.8h0M814.8 323.0h0M725.2 120.6h0M1001.7 776.2h0M730.6 951.8h0M174.0 548.7h0M1067.6 666.4h0M797.6 302.9h0M944.6 757.2h0M1021.8 753.3h0M434.9 580.1h0M752.0 201.0h0M608.9 467.6h0M1027.5 661.6h0M787.7 586.2h0M722.4 118.1h0"/>
<path stroke="#9871ed" d="M1074.7 692.0h0M690.2 126.2h0M168.0 537.6h0M972.3 693.9h0M625.6 241.7h0M701.9 432.1h0M677.5 240.9h0M495.0 861.0h0M643.8 429.3h0M713.2 125.2h0M981.9 700.9h0M671.0 120.1h0M506.8 380.2h0M204.0 509.3h0M842.1 287.9h0M754.0 241.0h0M1074.6 723.1h0M957.3 717.5h0M512.8 542.1h0M988.4 683.4h0M182.8 545.3h0M456.2 588.5h0M855.9 289.7h0M563.0 768.9h0M841.2 293.9h0M731.8 188.7h0M941.9 736.7h0M604.3 454.0h0M487.4 553.1h0M498.0 478.0h0M336.0 800.5h0M640.0 926.6h0M825.0 289.1h0M856.4 281.9h0M467.8 584.9h0M1027.6 702.0h0M696.0 224.0h0M971.2 756.7h0M706.5 449.4h0M618.7 692.8h0M679.2 144.5h0M999.2 747.9h0M993.6 683.3h0M515.9 557.9h0M981.6 737.7h0M616.6 663.5h0M170.3 551.0h0M613.2 444.9h0M745.6 719.2h0M207.1 554.4h0M457.5 562.1h0M194.3 504.7h0M630.5 432.0h0M789.5 594.1h0M477.5 555.9h0M820.5 792.4h0M735.6 459.2h0M679.8 239.8h0M933.8 780.2h0M717.4 440.1h0M1002.3 699.9h0"/>
<path stroke="#946cee" d="M460.5 560.6h0M835.7 293.5h0M974.9 740.5h0M506.4 548.4h0M633.6 412.9h0M623.6 412.0h0M149.7 546.9h0M713.6 117.4h0M450.2 573.6h0M760.5 558.9h0M508.6 575.7h0M187.3 539.7h0M459.8 588.7h0M657.1 424.5h0M826.0 216.0h0M695.7 116.5h0M222.7 544.8h0M686.6 724.4h0M452.4 582.7h0M700.1 140.4h0M163.0 530.0h0M747.2 844.8h0M507.0 521.0h0M450.9 590.5h0M457.6 448.0h0M710.8 139.1h0M670.8 244.4h0M725.9 123.8h0M1006.1 732.1h0M596.1 463.6h0M814.6 779.4h0M673.2 695.6h0M715.9 446.0h0M952.3 721.8h0M736.4 188.5h0M433.1 546.8h0M507.5 549.0h0M506.6 555.5h0M957.7 667.5h0M715.1 118.6h0M992.5 701.8h0M706.3 121.3h0"/>
<path stroke="#8f66f0" d="M612.9 460.8h0M754.3 534.7h0M839.6 299.2h0M183.1 512.5h0M807.9 784.0h0M980.5 766.4h0M1034.3 635.3h0M616.9 422.1h0M624.2 444.5h0M1014.6 692.9h0M441.8 568.0h0M486.4 584.0h0M789.3 209.8h0M829.7 216.7h0M170.6 525.2h0M368.8 851.7h0M816.3 281.4h0M500.0 487.0h0M507.6 550.9h0M493.0 346.5h0M561.7 217.8h0M835.6 225.6h0M468.6 596.4h0M515.4 548.9h0M687.9 243.5h0M820.4 783.3h0M603.5 231.0h0M733.2 151.4h0M521.3 564.6h0M635.2 417.3h0M730.5 941.3h0M520.5 525.6h0M676.7 456.9h0M407.7 397.6h0M968.3 706.8h0M829.0 224.0h0M834.0 226.7h0M529.6 542.7h0M627.0 872.2h0M188.9 538.4h0M969.4 699.0h0M571.1 228.9h0M757.4 533.1h0M700.5 124.5h0M470.1 569.3h0M178.0 558.5h0M465.9 590.5h0M403.1 427.5h0M680.7 118.1h0M723.5 129.5h0M485.1 569.4h0M469.4 589.5h0M679.4 123.4h0M482.0 591.9h0M956.6 754.0h0"/>
<path stroke="#8a60f1" d="M400.0 404.1h0M430.8 438.4h0M400.8 392.6h0M842.5 294.0h0M713.1 163.2h0M725.6 471.1h0M1021.7 733.3h0M522.0 450.8h0M445.8 440.7h0M468.8 446.0h0M525.0 532.0h0M165.5 542.3h0M733.2 183.3h0M734.4 445.1h0M570.6 232.0h0M526.1 541.4h0M414.3 420.0h0M409.3 392.4h0M774.9 228.7h0M462.8 570.8h0M400.5 412.0h0M178.6 534.6h0M187.8 561.4h0M847.0 284.4h0M730.5 172.3h0M842.9 287.0h0M586.1 252.5h0M391.9 397.6h0M165.9 548.2h0M501.7 553.9h0M454.1 569.9h0M411.5 411.2h0M583.0 533.6h0M655.3 470.1h0M443.7 442.9h0M487.9 455.9h0M821.5 222.3h0M749.4 195.0h0M452.8 597.4h0M857.0 283.5h0M799.2 218.2h0M760.6 208.3h0M608.8 231.5h0M612.1 407.3h0M708.7 183.4h0M534.0 552.4h0M396.6 428.0h0M436.4 558.2h0M1003.9 663.6h0M618.2 446.4h0M717.8 183.0h0M476.1 463.8h0"/>
<path stroke="#845af2" d="M828.4 215.8h0M969.4 734.7h0M691.2 244.6h0M570.3 238.7h0M508.9 573.0h0M474.7 569.9h0M972.4 687.2h0M806.4 234.8h0M551.9 235.3h0M239.0 531.0h0M675.0 152.4h0M523.6 411.6h0M426.5 558.0h0M556.7 312.9h0M581.6 236.9h0M558.5 227.0h0M693.0 246.0h0M392.5 412.5h0M770.0 218.8h0M740.4 469.7h0M551.8 249.2h0M520.7 545.1h0M391.4 408.6h0M562.9 230.9h0M438.6 444.3h0M452.6 593.3h0M497.9 569.8h0M752.1 534.9h0M431.0 551.1h0M1009.0 749.0h0M836.4 292.4h0M685.9 244.4h0M443.6 452.9h0M406.9 404.9h0M496.8 460.8h0M627.8 239.3h0M610.1 454.1h0M562.8 249.6h0M262.1 489.9h0"/>
<path stroke="#7e54f3" d="M842.2 295.5h0M261.9 496.4h0M772.5 553.7h0M418.6 436.2h0M548.6 233.0h0M731.1 462.0h0M259.4 490.7h0M481.5 466.1h0M521.5 548.8h0M818.0 238.0h0M511.4 576.8h0M603.3 415.5h0M584.0 234.8h0M969.0 724.1h0M480.8 456.1h0M574.0 527.0h0M407.7 403.7h0M255.2 490.9h0M529.0 554.2h0M395.2 426.2h0M502.0 516.0h0M626.8 240.8h0M613.1 377.5h0M611.5 449.8h0M395.5 394.4h0M483.8 448.3h0M823.9 232.7h0M677.6 246.2h0M516.7 455.4h0M485.7 458.4h0M809.1 267.6h0M817.8 226.4h0M477.1 468.9h0M396.6 395.9h0"/>
<path stroke="#784ef5" d="M613.4 402.2h0M579.8 226.2h0M681.9 250.6h0M597.8 232.9h0M698.8 159.4h0M491.1 465.2h0M408.7 425.4h0M485.9 460.5h0M405.6 431.7h0M622.1 386.6h0M601.4 226.4h0M598.2 407.8h0M394.3 422.9h0M621.7 389.7h0M429.7 416.7h0M733.0 212.0h0M401.9 405.5h0M480.6 452.2h0M620.1 406.1h0M610.3 379.6h0M804.8 231.1h0M593.2 224.3h0M699.6 433.1h0M436.2 441.8h0M494.0 469.3h0M838.8 234.3h0M604.0 246.0h0M558.8 245.5h0M400.3 396.4h0M401.9 414.5h0M612.1 409.3h0M546.9 224.3h0M534.2 444.4h0M547.2 212.8h0M429.5 443.9h0M845.7 290.3h0M490.9 466.4h0M599.1 402.7h0M560.9 214.4h0M689.5 446.5h0M793.2 259.0h0M552.3 223.6h0M262.1 494.5h0M432.7 423.3h0M588.0 464.0h0M603.5 232.0h0M501.0 452.0h0M555.9 244.8h0M588.0 537.0h0"/>
<path stroke="#7248f6" d="M687.1 247.6h0M800.0 570.4h0M407.2 398.6h0M404.7 417.8h0M507.3 555.1h0M414.7 441.1h0M397.3 420.7h0M474.5 458.2h0M554.9 250.9h0M474.0 451.8h0M408.5 399.5h0M405.1 415.5h0M406.0 406.0h0M549.2 211.3h0M566.0 221.8h0M395.5 385.0h0M602.6 423.6h0M606.7 380.3h0M620.5 440.5h0M557.6 235.4h0M549.8 244.5h0M958.5 767.0h0M602.2 392.1h0M806.5 216.0h0M616.6 390.1h0M606.6 439.0h0M261.8 494.8h0M800.3 206.0h0M606.1 393.9h0M614.3 430.2h0M839.0 274.3h0M613.3 403.5h0M419.7 440.5h0M398.1 389.9h0M590.2 221.8h0M226.0 513.0h0M602.9 420.1h0M631.7 241.5h0M604.2 672.4h0M476.4 462.0h0M570.5 233.5h0"/>
<path stroke="#6b41f7" d="M575.0 218.3h0M602.3 390.0h0M578.0 220.4h0M404.9 397.5h0M620.4 429.7h0M620.9 401.9h0M438.5 446.5h0M483.0 450.1h0M490.6 450.5h0M402.8 427.7h0M384.4 404.9h0M560.4 230.5h0M614.9 411.0h0M607.1 379.7h0M620.4 397.5h0M800.5 568.5h0M523.3 552.1h0M552.6 219.8h0M399.0 391.2h0M617.6 236.6h0"/>
<path stroke="#633bf8" d="M529.9 542.8h0M391.2 418.7h0M266.0 490.0h0M438.8 452.5h0M558.3 242.8h0M575.9 231.5h0M568.7 222.8h0M592.4 236.5h0M603.4 412.4h0M580.2 216.8h0"/>
<path stroke="#5b34f9" d="M250.7 509.1h0M417.2 446.4h0M633.5 242.1h0M582.5 219.5h0M611.1 227.5h0M601.2 397.6h0M238.0 509.5h0M618.4 411.2h0"/>
<path stroke="#522dfb" d="M756.0 276.0h0M457.2 410.5h0M723.0 270.0h0M567.7 214.4h0M388.1 419.5h0M482.0 543.0h0M632.0 239.2h0M453.8 414.8h0M508.5 555.4h0M164.8 564.5h0M600.8 412.7h0M558.6 236.8h0"/>
<path stroke="#4725fc" d="M478.5 441.0h0M749.0 275.0h0M485.0 437.0h0M599.0 546.0h0"/>
<path stroke="#3a1cfd" d="M473.0 546.0h0"/>
<path stroke="#d3d3d3" d="M658.8 429.0h0M487.9 868.7h0M1024.7 771.2h0M339.9 781.5h0M348.2 729.5h0M825.5 287.0h0M514.6 874.5h0M692.3 428.3h0M550.5 772.1h0M373.7 854.4h0M390.8 796.9h0M446.3 827.8h0M354.2 857.3h0M415.9 836.8h0M724.0 855.9h0M309.1 852.2h0M736.5 182.9h0M458.7 849.8h0M529.8 976.4h0M331.2 839.4h0M683.9 125.5h0M531.3 984.6h0M577.0 768.4h0M753.6 593.2h0M763.1 585.1h0M688.6 437.4h0M918.5 559.5h0M731.0 855.5h0M759.5 602.5h0M345.2 830.7h0M713.2 151.1h0M721.7 429.7h0M384.8 812.0h0M741.4 845.9h0M706.0 460.3h0M1034.4 715.5h0M1055.6 739.9h0M961.6 676.0h0M790.6 591.7h0M487.0 859.8h0M375.7 797.4h0M965.3 748.8h0M376.7 787.4h0M614.2 676.0h0M985.3 708.4h0M963.5 772.0h0M181.3 533.0h0M707.5 468.3h0M1085.9 687.2h0M610.5 656.2h0M968.0 686.2h0M390.9 754.0h0M972.6 736.7h0M986.1 734.8h0M177.7 528.4h0M618.7 653.4h0M331.2 805.8h0M375.0 722.5h0M940.5 737.7h0M560.5 775.7h0M403.0 768.5h0M334.6 849.8h0M314.0 815.9h0M358.0 776.9h0M986.7 759.3h0M363.1 783.9h0M322.3 806.0h0M938.6 748.5h0M345.8 749.3h0M744.3 847.2h0M599.7 457.9h0M468.7 577.4h0M1015.9 710.7h0M677.9 465.8h0M488.2 567.8h0M1019.8 719.9h0M697.9 459.8h0M360.6 737.8h0M623.5 704.7h0M739.0 135.7h0M312.3 862.3h0M1006.3 744.1h0M449.4 837.7h0M386.3 853.4h0M422.3 826.5h0M1037.5 763.5h0M400.4 845.1h0M391.1 748.6h0M617.1 453.9h0M1058.0 718.5h0M926.5 543.9h0M649.1 693.4h0M744.3 600.5h0"/>
<path stroke="#d0cdd5" d="M472.2 850.5h0M1007.8 690.8h0"/>
<path stroke="#cec7d7" d="M375.6 857.8h0M332.4 758.5h0M322.9 828.1h0M369.1 794.1h0"/>
<path stroke="#cbc2d8" d="M1021.8 733.9h0M381.4 770.1h0M704.4 136.7h0M321.0 809.6h0M421.8 834.9h0"/>
<path stroke="#c8bcda" d="M396.5 809.6h0M295.3 824.8h0M311.4 829.8h0M672.1 138.9h0M383.4 856.6h0M633.8 664.3h0M450.7 826.6h0M390.5 800.5h0M1071.9 684.5h0M340.8 791.0h0M506.8 873.1h0M340.8 822.0h0M993.0 701.4h0M364.3 834.4h0M344.6 745.1h0"/>
<path stroke="#c5b6dc" d="M706.6 157.2h0M410.2 819.2h0M423.3 837.7h0M1070.9 669.2h0M1016.4 760.6h0M973.8 774.9h0M404.9 766.2h0M360.2 762.5h0M927.2 708.7h0M627.8 652.0h0M1025.4 713.0h0M344.3 777.3h0M346.3 731.8h0M526.3 969.1h0M378.1 818.0h0M353.4 830.7h0"/>
<path stroke="#c2b0dd" d="M1011.4 642.2h0M495.9 868.8h0M709.4 130.6h0M362.3 844.0h0M305.7 850.3h0M1044.6 740.0h0M351.6 785.4h0M371.9 790.9h0M554.8 778.4h0M360.6 800.6h0M1013.6 724.0h0M409.5 813.1h0M713.3 173.1h0M336.3 866.9h0M526.5 969.1h0M344.0 822.6h0M352.0 733.8h0M359.0 754.3h0M965.3 776.8h0M331.5 785.3h0M353.2 743.0h0M336.1 830.5h0M345.7 846.8h0M354.5 768.3h0M976.8 679.1h0M379.6 854.8h0M329.3 852.7h0M945.1 754.7h0M324.6 824.2h0M675.3 147.9h0M330.9 817.3h0M353.2 798.0h0M384.0 776.4h0M416.2 840.0h0M332.2 800.0h0M642.9 901.1h0M477.9 862.9h0M299.2 816.4h0M317.5 787.1h0"/>
<path stroke="#bfabdf" d="M731.0 121.8h0M1021.4 671.6h0M698.7 117.7h0M623.5 859.9h0M386.3 857.0h0M311.6 810.1h0M675.9 146.4h0M362.3 844.0h0M652.1 687.9h0M738.9 140.7h0M782.7 601.1h0M347.4 821.8h0M1014.4 771.2h0M631.9 668.3h0M326.4 823.0h0M331.9 823.1h0M611.6 652.4h0M311.0 840.1h0M975.6 697.1h0M623.7 691.2h0M693.4 150.8h0M297.1 811.4h0M372.8 844.4h0M297.9 835.2h0M414.9 827.7h0M990.7 755.6h0M374.4 811.4h0M1073.1 647.1h0M977.9 782.0h0M965.8 685.9h0M562.4 776.0h0M306.3 820.9h0M618.2 679.1h0M995.1 737.4h0M302.5 830.5h0M977.2 752.4h0M390.0 846.8h0M453.9 837.3h0M310.3 838.8h0M567.1 764.2h0"/>
<path stroke="#bba5e0" d="M756.8 593.2h0M477.4 849.5h0M376.0 823.1h0M382.5 803.0h0M819.5 312.2h0M518.5 874.7h0M338.3 829.7h0M1021.2 751.9h0M390.5 818.3h0M328.7 834.0h0M333.8 829.7h0M952.5 761.3h0M412.3 812.1h0M647.6 706.5h0M649.3 688.9h0M749.2 204.5h0M992.3 715.9h0M367.1 751.5h0M1026.7 683.2h0M335.6 762.9h0M348.6 764.2h0M330.7 846.3h0M536.6 989.6h0M373.6 817.9h0M630.6 650.7h0M326.3 822.2h0M194.3 545.9h0M571.4 783.0h0M363.3 809.2h0M975.7 763.9h0M1058.0 738.5h0M780.3 603.6h0M322.2 838.3h0M537.1 1009.9h0M308.9 835.3h0M1005.4 707.4h0M1026.1 736.8h0M426.3 828.7h0M358.2 732.6h0M387.0 830.2h0M990.8 632.2h0M329.1 811.8h0M1048.6 661.1h0M230.9 564.7h0M1006.2 777.2h0M441.7 398.7h0M371.9 848.4h0M352.4 720.5h0M680.2 156.5h0M329.9 764.8h0M1005.6 657.7h0M1023.0 676.1h0M352.2 784.4h0M467.4 558.3h0M337.0 859.6h0M314.7 790.5h0M342.8 798.0h0M364.6 844.4h0M381.5 781.2h0M409.2 838.3h0M533.5 990.7h0M393.9 820.3h0M387.4 730.8h0M638.3 891.8h0M990.6 634.7h0M397.5 828.7h0M1034.6 699.7h0M503.0 874.9h0M1037.2 698.7h0M355.3 792.4h0M332.7 857.7h0"/>
<path stroke="#b89fe2" d="M977.2 776.6h0M614.3 683.9h0M992.7 746.9h0M697.2 452.3h0M1022.6 668.1h0M231.5 529.2h0M329.3 824.2h0M343.6 755.7h0M457.8 584.8h0M459.5 840.9h0M627.3 685.0h0M371.3 751.9h0M686.4 131.5h0M156.0 532.8h0M674.3 144.9h0M312.2 834.5h0M714.8 143.7h0M407.7 829.7h0M331.9 815.4h0M343.7 721.6h0M720.9 149.3h0M379.4 838.2h0M984.2 678.5h0M455.5 840.6h0M1018.5 631.8h0M1074.2 718.1h0M658.6 663.6h0M1015.7 691.2h0M373.6 852.7h0M409.4 819.5h0M334.1 739.9h0M333.3 820.1h0M356.0 724.0h0M378.6 813.4h0M333.4 861.0h0M774.3 586.9h0M784.7 305.3h0M1010.1 703.2h0M327.3 732.1h0M166.6 528.8h0M1034.1 631.5h0M335.6 851.4h0M310.2 805.3h0M978.3 699.0h0M1025.0 673.9h0M704.6 113.5h0M709.9 139.0h0M365.5 761.2h0M618.7 669.6h0M971.7 762.7h0"/>
<path stroke="#b599e3" d="M658.0 424.2h0M356.4 811.9h0M558.6 779.0h0M735.4 855.2h0M493.1 866.7h0M320.6 833.0h0M156.5 543.0h0M1078.2 668.7h0M1059.3 642.0h0M236.2 540.0h0M477.8 850.6h0M647.8 428.1h0M465.3 848.2h0M333.3 735.0h0M180.3 533.7h0M539.5 1009.5h0M986.1 716.3h0M432.2 825.3h0M992.7 769.9h0M451.9 840.2h0M307.7 851.3h0M647.1 672.1h0M227.6 507.6h0M479.3 851.4h0M714.6 856.8h0M709.8 137.0h0M1058.1 697.8h0M727.7 143.5h0M1030.0 763.1h0M511.1 544.3h0M289.0 391.3h0M992.2 637.1h0M729.6 850.6h0M640.9 662.3h0M971.9 703.5h0M641.1 443.1h0M293.8 843.4h0M1029.6 692.1h0M721.3 835.8h0M1034.1 702.9h0M397.8 816.8h0M319.3 843.0h0M332.8 793.3h0M954.0 777.1h0M792.2 297.5h0M943.4 778.6h0M1070.8 731.7h0M1073.4 700.5h0M986.4 672.3h0M216.2 531.6h0M415.4 840.0h0M672.1 119.4h0"/>
<path stroke="#b194e5" d="M318.1 800.7h0M468.4 843.8h0M1026.7 705.5h0M508.1 879.2h0M1077.2 689.5h0M465.0 834.1h0M791.8 303.3h0M728.2 168.5h0M304.1 851.8h0M738.7 471.1h0M628.7 454.2h0M479.8 857.5h0M760.9 195.6h0M360.6 860.8h0M654.0 676.9h0M1042.1 712.8h0M392.8 826.2h0M195.9 566.5h0M1067.6 721.4h0M391.8 800.1h0M447.4 829.5h0M1022.3 691.2h0M528.6 988.0h0M1003.2 761.8h0M635.1 452.9h0M965.6 762.6h0M325.0 748.2h0M744.2 160.7h0M677.2 153.4h0M958.5 761.9h0M718.9 849.3h0M654.4 450.3h0M190.5 536.6h0M631.0 661.0h0M336.8 817.8h0M744.7 198.5h0M1055.8 662.6h0M389.8 839.8h0M736.5 186.3h0M364.7 830.8h0M340.9 755.6h0M447.6 1043.5h0M388.4 795.8h0M982.3 702.0h0M345.0 787.9h0M334.7 831.7h0M220.6 515.4h0M377.0 834.6h0M410.7 813.9h0M1044.8 762.4h0M624.0 910.5h0M947.3 725.3h0M157.9 529.8h0M347.8 840.0h0M640.7 461.9h0M931.0 754.9h0M307.7 834.1h0M587.4 752.0h0M614.9 463.1h0M645.1 912.8h0M375.1 825.9h0M994.4 666.0h0M1044.0 734.1h0M648.9 899.4h0M454.2 839.4h0M400.7 830.0h0M946.2 708.0h0M738.0 458.0h0M1055.5 704.3h0M716.6 169.4h0M702.9 181.9h0M663.3 463.5h0M432.2 550.8h0M931.1 740.3h0M443.8 832.8h0M342.2 829.6h0M972.4 679.6h0M409.8 817.4h0M467.0 386.0h0M727.7 153.2h0M742.3 139.5h0M632.7 878.4h0M644.4 895.0h0M243.2 544.4h0M443.8 834.7h0"/>
<path stroke="#ad8ee6" d="M333.8 861.2h0M435.1 578.5h0M826.6 275.3h0M767.8 555.7h0M977.1 764.5h0M715.1 450.7h0M760.5 571.6h0M990.3 725.3h0M1036.1 651.0h0M722.9 856.6h0M1012.2 767.9h0M984.4 776.9h0M205.7 524.6h0M708.9 850.8h0M1004.9 770.5h0M743.9 146.1h0M727.8 159.3h0M651.3 659.1h0M567.6 773.7h0M790.0 302.2h0M983.4 659.1h0M647.4 438.0h0M633.7 878.3h0M211.5 516.0h0M431.2 821.9h0M714.3 144.2h0M754.3 553.7h0M466.1 580.9h0M482.7 578.8h0M246.7 547.6h0M633.4 879.8h0M731.1 586.1h0M742.4 143.2h0M966.9 699.1h0M459.5 836.9h0M984.0 767.6h0M1071.5 719.1h0M1011.1 741.2h0M691.7 121.6h0M438.4 825.6h0M1039.0 740.4h0M565.7 783.5h0M529.7 1006.2h0M720.5 150.5h0M664.2 463.5h0M735.5 129.5h0M191.9 559.9h0M721.0 852.3h0M300.1 808.5h0M605.3 678.7h0M314.5 788.4h0M188.0 517.7h0M991.5 694.4h0M451.7 844.4h0M939.3 708.6h0M984.2 756.4h0M766.2 603.2h0M699.4 120.6h0M712.7 846.2h0M379.4 850.1h0M513.5 882.4h0M700.0 459.7h0M610.4 449.7h0M629.7 869.8h0M730.2 443.8h0M955.3 763.9h0M365.3 837.1h0M379.3 854.8h0M709.4 184.5h0M741.4 598.9h0M704.8 423.1h0M357.4 749.0h0M664.4 449.4h0M225.4 561.6h0M736.2 848.8h0M700.2 434.2h0M841.1 281.0h0M698.2 164.6h0M1071.4 673.0h0M230.1 573.8h0M182.8 544.6h0M962.2 728.9h0M1005.8 737.7h0M727.3 124.9h0M721.8 130.0h0M715.9 132.1h0M178.0 546.4h0"/>
<path stroke="#a988e8" d="M154.4 543.7h0M1005.3 688.2h0M456.1 833.2h0M1003.7 651.1h0M626.3 669.3h0M431.1 551.8h0M711.7 457.7h0M708.4 162.5h0M1042.1 653.7h0M1068.8 715.2h0M723.2 838.1h0M696.7 161.6h0M726.7 167.9h0M206.8 536.3h0M472.0 569.0h0M808.6 307.3h0M560.6 769.0h0M709.9 446.6h0M1002.9 702.2h0M436.7 537.9h0M669.3 713.9h0M1007.4 767.3h0M570.9 767.6h0M927.5 763.2h0M489.0 576.2h0M822.5 280.0h0M627.3 677.5h0M605.8 468.0h0M779.4 604.4h0M753.9 854.2h0M318.5 809.1h0M739.3 136.4h0M693.2 437.1h0M655.7 439.5h0M722.4 127.1h0M821.3 794.3h0M430.0 554.7h0M1018.9 752.4h0M601.4 467.2h0M147.4 546.5h0M733.4 443.8h0M759.5 798.6h0M728.7 165.5h0M719.0 145.4h0M233.7 564.8h0M685.3 140.3h0M740.9 136.8h0M640.1 691.5h0M945.4 783.5h0M720.6 127.4h0M642.7 927.4h0M321.6 815.4h0M355.0 820.0h0M512.6 866.6h0M844.0 301.8h0M744.9 171.9h0M160.4 541.9h0M978.2 691.6h0M700.3 422.2h0M357.0 758.6h0M308.7 822.9h0M963.4 733.3h0M718.5 450.7h0M634.8 687.1h0M820.5 282.6h0M693.3 139.3h0M814.4 279.8h0M765.8 569.3h0M212.3 500.7h0M639.8 897.2h0M221.9 526.3h0M732.7 942.0h0M1048.7 690.0h0M686.3 146.1h0M704.1 149.4h0M570.5 766.4h0M717.5 142.3h0M727.4 852.1h0M786.3 310.1h0M394.0 847.6h0M949.2 709.7h0M490.1 573.0h0M650.6 923.6h0M501.3 870.9h0M744.8 153.5h0M837.8 219.6h0M1064.6 668.1h0M364.8 845.4h0M721.9 187.1h0"/>
<path stroke="#a583e9" d="M206.8 558.0h0M500.5 573.5h0M1050.4 725.5h0M842.2 277.6h0M806.8 300.7h0M763.1 210.1h0M480.4 583.7h0M986.6 674.5h0M168.2 518.9h0M453.6 569.9h0M632.5 877.1h0M645.2 704.8h0M987.8 744.9h0M622.8 459.3h0M803.0 311.8h0M981.0 671.8h0M728.7 844.5h0M977.3 704.9h0M929.0 769.6h0M713.4 180.4h0M147.8 550.5h0M574.7 766.7h0M201.4 556.1h0M179.2 537.1h0M1048.3 644.4h0M217.9 527.8h0M334.5 856.6h0M1057.5 678.3h0M968.6 763.8h0M454.6 845.9h0M983.9 714.2h0M223.4 522.6h0M676.7 153.6h0M708.0 178.5h0M638.0 442.1h0M953.1 683.1h0M1009.7 693.8h0M781.2 602.5h0M637.8 661.1h0M954.0 746.9h0M1026.5 717.0h0M702.6 462.6h0M734.7 173.4h0M1022.5 661.4h0M683.0 122.7h0M718.7 442.4h0M1034.4 752.1h0M623.6 693.0h0M819.9 787.5h0M638.7 892.2h0M644.3 682.0h0M308.6 836.1h0M163.1 551.8h0M643.3 911.2h0M528.1 966.0h0M933.7 771.1h0M686.3 120.1h0M563.1 309.3h0M643.6 656.8h0M618.6 677.7h0M586.0 768.0h0M1046.3 661.3h0M796.2 581.2h0M1075.9 685.2h0M606.8 450.4h0M701.2 451.1h0M975.4 674.2h0M616.7 845.5h0M927.9 752.4h0M347.0 728.9h0M980.3 724.8h0M686.3 132.4h0M1072.2 693.2h0M694.5 461.1h0M682.4 249.7h0M952.7 719.6h0M1077.6 701.2h0M820.3 273.6h0M999.6 652.6h0M199.4 539.4h0M321.8 778.8h0M652.5 664.2h0M998.8 684.3h0M650.3 912.1h0M1018.3 763.5h0M720.6 158.5h0M582.1 777.2h0M735.3 183.8h0"/>
<path stroke="#a17dea" d="M950.2 752.2h0M543.1 998.1h0M220.4 503.6h0M672.0 252.0h0M1062.8 666.9h0M695.4 134.8h0M942.0 761.2h0M781.4 585.3h0M474.2 600.4h0M1048.9 632.7h0M218.3 512.5h0M452.8 829.5h0M944.3 684.3h0M753.0 180.0h0M222.8 554.1h0M968.9 785.6h0M811.2 781.9h0M566.2 778.3h0M456.0 392.0h0M337.4 778.0h0M797.4 298.7h0M982.4 747.9h0M706.5 434.4h0M180.6 529.6h0M934.4 760.5h0M663.1 426.1h0M199.4 560.1h0M979.6 730.7h0M729.5 163.2h0M973.7 710.9h0M600.8 458.0h0M958.0 763.7h0M623.9 658.4h0M548.7 770.0h0M425.1 824.6h0M1007.4 727.2h0M453.2 835.4h0M969.5 771.5h0M453.0 590.6h0M818.0 314.3h0M612.3 703.8h0M221.9 504.7h0M705.3 137.9h0M714.1 117.7h0M164.1 558.4h0M714.8 467.3h0M770.8 591.6h0M672.2 164.0h0M164.7 531.2h0M763.0 792.7h0M724.4 178.8h0M477.7 564.1h0M501.6 572.2h0M1005.0 766.7h0M702.6 151.8h0M671.6 438.6h0M627.4 449.7h0M224.5 512.3h0M1025.2 639.1h0M731.4 948.5h0M692.7 425.6h0M179.8 524.6h0M524.6 1011.6h0M459.3 582.5h0M730.8 945.1h0M543.6 999.9h0M699.4 172.0h0M220.4 511.3h0M506.5 556.4h0M819.3 271.7h0M773.3 600.0h0M556.8 769.1h0M482.4 586.5h0M633.7 438.7h0M977.7 761.3h0M682.7 424.0h0M485.8 572.4h0M477.9 576.6h0M174.2 525.5h0M748.5 853.6h0M689.7 172.3h0M738.2 182.6h0M643.7 902.1h0M627.4 451.8h0M679.7 160.0h0M953.2 702.6h0"/>
<path stroke="#9d77ec" d="M618.5 442.0h0M829.6 277.2h0M665.8 686.6h0M725.5 447.9h0M685.0 710.4h0M830.4 284.5h0M727.4 848.5h0M209.1 519.3h0M461.3 593.9h0M787.8 585.4h0M767.6 605.0h0M703.9 119.4h0M987.7 713.7h0M1049.6 746.5h0M999.4 728.9h0M851.1 301.0h0M698.0 256.0h0M235.9 566.7h0M454.2 593.5h0M648.6 449.1h0M735.6 447.5h0M691.7 149.9h0M432.8 558.1h0M1018.2 759.4h0M819.6 781.2h0M468.0 590.5h0M789.4 586.1h0M492.2 496.8h0M652.7 709.2h0M435.7 570.9h0M854.6 278.1h0M744.5 721.8h0M834.3 298.7h0M614.6 840.9h0M718.7 850.4h0M786.1 600.7h0M182.4 516.3h0M443.6 593.9h0M188.9 551.3h0M1012.9 757.7h0M707.8 460.4h0M595.2 432.7h0M637.9 435.0h0M836.7 282.1h0M683.8 161.9h0M854.9 281.8h0M849.6 299.1h0M1017.1 668.0h0M684.8 157.3h0M372.6 811.9h0M984.0 665.7h0M216.6 525.7h0M622.2 424.1h0M763.7 591.1h0M766.9 604.7h0M1062.9 709.1h0M856.8 294.2h0M1028.0 762.4h0M193.5 518.7h0M193.6 566.6h0M999.8 710.8h0M515.1 396.0h0M194.1 539.5h0M681.1 240.5h0M180.5 566.7h0M537.2 1007.5h0M445.5 588.0h0M727.3 936.7h0M758.5 197.8h0M736.6 851.5h0M1024.7 743.1h0M491.8 591.2h0M440.9 574.7h0M683.7 247.4h0M836.1 298.4h0M926.5 735.0h0M231.9 568.9h0M470.5 596.3h0M665.0 454.0h0M167.9 543.7h0M964.7 728.7h0M204.7 544.9h0M725.3 436.9h0M798.6 579.9h0M692.0 131.4h0M461.9 575.6h0M230.2 560.4h0M693.7 462.5h0M700.3 441.8h0M201.1 509.0h0M964.4 754.6h0M643.9 443.8h0M683.5 441.3h0M448.9 577.9h0M725.0 153.6h0M595.8 440.8h0M675.6 120.5h0M473.8 570.4h0"/>
<path stroke="#9871ed" d="M840.3 298.2h0M577.0 501.0h0M1024.9 745.8h0M787.3 588.4h0M512.1 537.8h0M1079.3 679.8h0M543.0 449.5h0M496.6 505.0h0M706.0 189.0h0M735.3 165.4h0M1039.3 685.2h0M752.1 194.3h0M1040.2 713.0h0M453.3 584.7h0M996.7 691.5h0M607.7 436.3h0M298.5 835.5h0M560.4 772.2h0M755.6 534.9h0M453.8 569.4h0M649.0 464.8h0M771.0 220.1h0M985.9 735.6h0M681.8 154.1h0M565.5 215.0h0M848.1 289.1h0M692.6 728.7h0M722.0 453.7h0M610.1 458.6h0M187.6 542.9h0M185.4 555.0h0M738.5 135.6h0M475.9 576.1h0M767.8 601.4h0M837.1 283.5h0M611.1 447.0h0M637.6 456.8h0M741.4 133.7h0M699.4 116.4h0M1007.1 707.2h0M724.1 130.9h0M820.2 786.1h0M791.6 257.7h0M681.6 160.8h0M788.7 302.3h0M713.1 422.0h0M431.6 560.9h0M730.3 165.8h0M729.0 937.7h0M756.5 603.0h0M431.6 535.3h0M449.6 1043.4h0M801.4 305.3h0M736.7 150.3h0M1006.3 671.9h0M687.6 177.1h0M814.0 318.9h0M738.8 175.8h0M842.8 294.8h0M730.4 937.8h0M649.8 912.5h0M393.8 863.0h0M567.5 767.0h0"/>
<path stroke="#946cee" d="M485.4 568.9h0M726.4 854.1h0M818.6 789.4h0M480.7 562.9h0M1000.3 688.6h0M460.9 562.0h0M1049.3 699.3h0M947.7 730.7h0M728.6 942.6h0M499.7 553.7h0M567.0 783.6h0M1045.6 720.8h0M663.5 671.8h0M766.0 242.0h0M620.9 238.6h0M609.1 412.5h0M166.7 529.2h0M491.8 366.1h0M752.9 531.4h0M737.9 127.6h0M644.8 891.6h0M701.1 117.5h0M755.8 545.5h0M510.2 385.9h0M963.8 750.5h0M847.1 292.7h0M636.7 440.3h0M844.4 302.8h0M650.2 445.1h0M701.0 133.1h0M674.5 124.0h0M675.9 130.5h0M473.5 575.1h0M750.4 597.1h0M683.0 143.1h0M930.9 770.4h0M690.3 451.7h0M772.9 596.6h0M1000.1 716.2h0M658.6 452.5h0M749.3 717.5h0M959.7 752.0h0M788.8 581.9h0M964.7 778.3h0M500.0 346.0h0M496.5 587.6h0M746.0 238.0h0M203.0 502.0h0"/>
<path stroke="#8f66f0" d="M824.9 781.7h0M633.6 424.1h0M665.8 431.3h0M844.7 277.0h0M463.2 587.8h0M507.3 548.2h0M840.5 292.0h0M654.9 430.4h0M472.4 449.9h0M480.5 598.1h0M748.0 561.8h0M617.6 426.9h0M398.7 427.2h0M516.9 531.4h0M627.6 433.6h0M725.9 854.5h0M622.0 439.7h0M567.5 230.6h0M684.1 133.3h0M961.6 718.5h0M450.5 443.4h0M474.3 563.0h0M599.2 431.5h0M190.8 570.4h0M608.8 429.2h0M709.3 173.2h0M493.7 459.9h0M508.9 547.3h0M609.1 234.4h0M849.0 283.8h0M556.2 242.5h0M708.6 440.2h0M615.1 408.0h0M816.6 782.7h0M960.5 698.8h0M567.5 212.9h0M800.9 269.2h0M960.9 752.1h0M847.4 293.7h0M507.5 378.8h0M525.3 450.1h0M1033.6 719.6h0M591.6 461.1h0M189.6 536.3h0M715.5 132.6h0M766.3 791.2h0M676.8 431.0h0M600.5 406.1h0M156.9 535.4h0M435.3 574.9h0M600.2 422.4h0M849.2 295.4h0M763.6 540.9h0M714.6 933.1h0M445.3 1044.3h0M791.3 584.5h0M591.8 449.4h0M711.8 426.1h0M707.4 473.9h0M672.2 241.4h0M491.1 504.2h0"/>
<path stroke="#8a60f1" d="M826.1 227.3h0M519.7 559.8h0M846.2 294.2h0M677.0 152.2h0M558.5 229.4h0M224.5 575.8h0M945.0 717.7h0M673.7 693.5h0M851.9 278.3h0M972.1 749.7h0M446.2 562.1h0M483.9 573.2h0M569.6 227.8h0M711.4 150.8h0M1021.0 685.1h0M613.3 426.1h0M754.6 535.6h0M758.5 592.2h0M841.5 233.6h0M838.5 281.8h0M595.0 233.9h0M636.5 436.6h0M165.3 542.6h0M532.5 452.5h0M682.5 157.6h0M841.1 281.5h0M506.0 518.0h0M574.0 498.0h0M627.9 428.8h0M472.2 572.0h0M686.8 718.4h0M732.9 456.5h0M724.1 136.7h0M765.6 207.0h0M691.1 243.0h0M981.0 700.6h0M1037.4 653.7h0M474.1 456.3h0M442.3 576.8h0M967.0 776.8h0M625.8 445.3h0M698.0 240.0h0M521.6 535.2h0M449.9 563.1h0M511.9 545.9h0M702.2 432.7h0"/>
<path stroke="#845af2" d="M500.8 494.7h0M464.2 454.8h0M494.8 357.0h0M983.7 723.4h0M568.9 213.3h0M543.9 222.6h0M421.7 392.0h0M565.1 209.1h0M600.4 450.3h0M992.0 647.0h0M615.4 402.6h0M642.1 426.2h0M520.9 568.1h0M600.8 431.0h0M486.0 571.4h0M404.4 406.5h0M760.6 591.1h0M841.1 275.2h0M690.9 450.3h0M547.4 248.4h0M681.0 250.2h0M729.3 447.4h0M516.4 557.3h0M520.6 537.2h0M222.1 562.4h0M603.6 429.1h0M557.1 216.4h0M412.7 398.2h0M606.8 449.5h0M475.8 563.5h0M491.0 500.2h0M614.1 387.1h0M615.9 442.4h0M966.1 711.8h0M231.0 528.7h0M524.1 539.2h0M504.9 547.0h0M614.2 417.8h0M845.4 285.5h0M736.8 188.1h0"/>
<path stroke="#7e54f3" d="M402.7 402.4h0M429.1 440.5h0M550.3 240.2h0M689.6 247.1h0M410.6 403.8h0M831.6 213.7h0M577.3 231.6h0M390.5 409.0h0M612.4 402.1h0M550.0 247.9h0M618.5 424.6h0M440.0 448.0h0M399.2 402.8h0M583.7 239.2h0M708.6 136.5h0M594.0 224.1h0M621.2 400.0h0M601.8 382.2h0M629.1 408.2h0M565.6 215.8h0M554.0 220.5h0M524.9 534.7h0M1032.4 634.0h0M550.6 249.0h0M592.0 468.0h0M555.2 215.2h0M514.8 567.4h0M565.0 522.0h0M496.8 508.8h0M810.9 222.4h0M566.6 237.9h0M558.9 312.6h0M527.0 446.4h0M562.2 236.6h0M778.2 224.6h0"/>
<path stroke="#784ef5" d="M519.8 535.7h0M609.4 390.9h0M608.3 460.3h0M599.6 445.6h0M505.3 554.5h0M485.1 461.4h0M581.4 235.2h0M494.7 456.6h0M638.1 414.1h0M599.0 224.6h0M608.6 415.0h0M401.1 390.1h0M618.0 390.9h0M614.1 406.4h0M414.4 443.2h0M520.9 548.5h0M577.3 247.5h0M611.8 390.7h0M609.9 385.7h0M613.5 446.2h0M623.8 439.4h0M525.1 547.5h0M570.6 213.8h0M613.1 413.1h0M398.3 420.3h0M601.1 385.2h0M429.0 444.6h0M604.6 390.9h0M621.3 402.9h0M841.4 226.4h0M568.3 237.6h0M464.8 447.5h0M401.6 389.0h0"/>
<path stroke="#7248f6" d="M810.7 274.9h0M671.9 250.4h0M475.1 456.6h0M598.3 400.0h0M605.2 382.8h0M612.1 383.4h0M932.0 761.7h0M486.4 458.3h0M394.2 404.1h0M260.1 489.9h0M416.5 433.6h0M427.3 442.6h0M553.3 317.7h0M577.0 226.3h0M410.5 407.7h0M575.9 227.6h0M611.6 405.6h0M184.7 530.8h0M576.3 222.4h0M528.7 454.4h0M554.8 218.3h0M802.8 256.7h0M568.7 233.1h0M406.1 410.9h0M605.2 403.8h0M528.0 466.0h0M423.8 433.7h0M800.0 566.0h0M554.0 241.2h0M477.1 455.0h0M578.6 226.5h0M617.8 403.4h0M791.2 251.1h0M795.0 262.3h0M400.5 430.5h0M475.9 467.8h0M429.1 442.9h0M692.0 450.7h0M613.2 402.1h0M613.3 403.5h0M427.3 446.2h0"/>
<path stroke="#6b41f7" d="M451.4 444.2h0M620.5 404.4h0M571.8 214.0h0M590.0 224.3h0M569.2 237.3h0M617.4 379.7h0M495.1 498.7h0M595.7 223.5h0M832.7 290.7h0M393.1 424.6h0M463.3 456.9h0M1020.4 745.3h0M552.7 319.5h0M610.9 405.5h0M592.6 223.5h0M420.5 443.8h0M513.5 556.0h0M481.3 448.4h0M564.3 224.1h0M614.2 389.4h0M405.9 404.5h0M519.2 459.0h0M423.6 443.3h0M603.7 404.0h0M559.7 227.6h0M769.2 589.1h0M556.1 250.4h0M777.1 256.3h0M578.9 237.1h0M527.3 459.6h0M801.8 215.0h0"/>
<path stroke="#633bf8" d="M576.0 530.0h0M603.0 227.8h0M399.0 388.8h0M627.9 421.7h0M483.8 466.3h0M830.9 227.7h0M597.2 226.1h0M805.3 224.9h0M407.4 391.7h0M616.3 413.3h0M475.8 458.4h0M478.2 462.0h0M385.9 415.6h0M566.8 229.1h0M564.4 233.7h0M551.3 214.8h0"/>
<path stroke="#5b34f9" d="M411.9 430.3h0M407.5 409.9h0M615.5 395.8h0M422.3 397.7h0M606.3 389.2h0M523.8 544.3h0M465.3 414.0h0M592.5 225.1h0"/>
<path stroke="#522dfb" d="M464.1 411.6h0M617.6 398.1h0M729.0 269.0h0M557.0 211.1h0M399.4 407.9h0M414.3 393.3h0M549.5 252.4h0M727.0 272.0h0"/>
<path stroke="#4725fc" d="M449.8 409.7h0M448.0 412.2h0M456.1 411.7h0M731.0 271.0h0"/>
<path stroke="#2811fe" d="M466.5 415.0h0"/>
<path stroke="#0000ff" d="M547.3 319.5h0M474.1 453.3h0"/>
<path stroke="#d3d3d3" d="M409.8 812.0h0M740.2 464.8h0M492.9 860.0h0M705.8 443.2h0M398.9 792.9h0M657.0 916.6h0M964.7 754.5h0M989.1 705.7h0M389.4 729.4h0M1004.0 755.7h0M995.1 700.5h0M301.5 851.0h0M916.5 564.7h0M756.2 848.4h0M684.3 452.8h0M1019.4 752.7h0M776.8 218.3h0M856.1 286.1h0M368.7 740.1h0M208.5 513.4h0M438.6 825.4h0M963.9 751.9h0M372.5 801.2h0M757.0 849.8h0M336.3 747.6h0M185.9 528.5h0M495.2 552.0h0M1009.1 764.9h0M792.4 297.2h0M1000.2 754.6h0M942.7 782.3h0M380.0 774.9h0M321.5 814.5h0M327.3 772.2h0M718.2 444.2h0M566.9 768.5h0M943.7 748.6h0M366.9 842.1h0M467.1 843.8h0M366.1 814.1h0M642.6 685.7h0M404.9 767.9h0M354.3 741.4h0M478.3 860.7h0M998.5 703.9h0M631.9 691.5h0M739.0 848.6h0M697.0 457.4h0M329.8 774.7h0M997.7 746.2h0M732.7 445.3h0M216.2 548.3h0M343.0 805.0h0M409.7 790.6h0M942.9 770.1h0M207.0 511.8h0M383.1 854.7h0M948.3 737.2h0M939.0 728.8h0M364.8 854.9h0M1035.8 701.9h0M396.6 802.8h0M486.7 857.2h0M1018.8 714.1h0M373.9 811.5h0M670.6 916.6h0M952.3 762.3h0M682.4 451.6h0M934.3 763.5h0M341.4 771.7h0M746.4 843.5h0M974.3 723.7h0M316.4 848.0h0M748.0 595.8h0M957.2 699.1h0M379.8 845.1h0M460.5 563.3h0M1023.6 751.1h0M655.4 451.4h0M352.4 861.6h0M167.0 536.8h0M321.1 846.9h0M382.3 808.2h0M349.5 729.0h0M854.8 293.5h0M351.8 778.0h0M386.7 796.5h0M700.3 162.0h0M503.6 541.4h0M924.6 545.4h0M686.6 456.0h0M388.9 812.2h0M384.2 848.6h0M1028.1 758.6h0M492.4 885.0h0M304.9 813.0h0"/>
<path stroke="#d0cdd5" d="M911.2 570.3h0M732.0 223.0h0"/>
<path stroke="#cec7d7" d="M334.2 850.3h0M383.2 840.3h0M355.8 739.1h0M915.9 564.5h0"/>
<path stroke="#cbc2d8" d="M376.0 759.0h0M932.0 763.2h0M337.7 734.6h0M940.6 749.7h0M333.7 742.8h0M916.8 559.6h0M384.5 829.6h0M302.0 817.9h0M384.6 828.5h0M444.6 830.7h0M926.4 545.8h0"/>
<path stroke="#c8bcda" d="M1009.9 739.4h0M328.8 804.4h0M324.9 853.3h0M378.7 773.1h0"/>
<path stroke="#c5b6dc" d="M388.3 802.2h0M647.0 703.8h0M334.5 791.7h0M688.7 115.0h0M294.9 817.5h0M348.0 793.8h0M683.2 171.3h0M300.8 816.8h0M394.8 845.5h0M222.3 562.9h0M366.1 815.3h0M739.1 159.8h0M406.1 800.0h0M1064.5 705.9h0M681.2 161.3h0M357.5 803.1h0M323.9 790.5h0M388.6 793.1h0M397.7 847.6h0M303.5 818.8h0M340.4 726.8h0M1036.1 766.1h0M327.1 846.6h0M743.5 159.5h0M386.0 812.2h0"/>
<path stroke="#c2b0dd" d="M688.2 176.6h0M957.0 783.1h0M359.3 749.9h0M1007.7 670.8h0M1023.0 730.9h0M984.4 773.4h0M353.2 740.7h0M700.5 121.1h0M717.5 477.8h0M323.8 860.1h0M1056.2 696.3h0M971.0 703.7h0M336.8 721.7h0M345.3 804.9h0M373.5 831.8h0M363.3 805.8h0M368.2 751.9h0M365.7 763.8h0M395.4 811.8h0M313.9 831.9h0M324.9 744.2h0M318.6 783.1h0M973.4 719.3h0M309.6 850.6h0M725.2 133.1h0M476.4 842.2h0M343.3 740.7h0M953.9 749.5h0M335.8 836.4h0M698.4 163.2h0M412.2 810.6h0M402.4 764.3h0M349.6 802.6h0"/>
<path stroke="#bfabdf" d="M314.2 778.0h0M985.6 639.0h0M342.3 793.4h0M1036.5 743.7h0M351.9 725.6h0M326.8 790.3h0M379.5 830.7h0M334.1 810.2h0M352.2 762.5h0M341.5 769.7h0M320.7 826.9h0M187.4 541.9h0M716.3 426.7h0M348.5 790.3h0M1039.8 749.9h0M737.6 595.3h0M933.2 740.9h0M222.6 534.2h0M419.3 827.1h0M645.4 927.7h0M736.9 190.4h0M358.1 733.8h0M1036.7 690.1h0M742.5 155.8h0M695.6 160.7h0M415.8 839.8h0M377.6 844.8h0M674.5 918.3h0M340.9 754.8h0M935.9 776.1h0M215.1 510.8h0M727.3 122.4h0M306.9 820.8h0M361.6 834.4h0M366.1 800.7h0M1044.7 665.0h0M743.2 135.1h0M313.7 802.3h0M364.8 807.9h0M339.4 853.1h0M345.4 752.8h0M954.3 743.9h0"/>
<path stroke="#bba5e0" d="M406.4 763.7h0M936.5 721.5h0M397.6 814.1h0M476.5 857.4h0M297.6 821.6h0M683.2 700.4h0M752.4 154.5h0M1038.3 767.9h0M715.6 469.6h0M745.2 593.5h0M358.6 730.9h0M950.3 700.2h0M944.5 781.4h0M1003.5 743.6h0M612.0 658.6h0M608.1 691.0h0M321.6 833.3h0M294.5 822.8h0M739.4 136.1h0M329.1 764.8h0M317.2 818.8h0M952.7 717.3h0M292.2 829.0h0M1038.5 713.3h0M737.1 450.3h0M220.4 505.8h0M226.8 512.2h0M979.6 761.1h0M642.9 671.6h0M1023.7 754.2h0M1047.2 710.3h0M1037.9 686.8h0M419.1 826.9h0M344.0 773.0h0M1004.6 755.9h0M716.5 184.7h0M335.4 751.9h0M380.8 829.9h0M314.7 786.6h0M591.7 745.7h0M346.7 846.0h0M350.3 727.4h0M1016.0 725.9h0M949.6 715.2h0"/>
<path stroke="#b89fe2" d="M1034.5 723.7h0M302.0 853.9h0M485.3 857.3h0M1034.7 728.9h0M635.8 677.5h0M487.1 867.9h0M971.6 696.0h0M504.6 863.6h0M800.3 318.6h0M1026.5 699.6h0M621.8 684.9h0M646.7 910.8h0M346.4 830.7h0M226.9 541.5h0M636.2 894.4h0M797.6 291.0h0M1050.9 707.7h0M403.0 803.9h0M392.6 840.4h0M635.3 698.3h0M404.4 804.5h0M1001.1 698.2h0M939.5 715.6h0M723.7 834.2h0M235.0 569.4h0M476.7 840.5h0M177.3 555.0h0M365.8 830.6h0M630.1 682.0h0M368.2 747.2h0M939.6 705.8h0M970.4 767.3h0M964.7 722.2h0M307.6 809.7h0M195.0 512.2h0M931.4 736.8h0M996.8 630.6h0M393.5 739.4h0M794.3 300.2h0M504.8 869.1h0M662.6 913.4h0M946.9 752.7h0M362.0 750.2h0M383.7 813.1h0M434.5 827.6h0M1032.4 752.8h0M358.8 778.5h0M378.9 789.9h0M530.4 980.4h0M215.9 545.3h0M495.9 864.1h0M625.7 664.9h0M1027.0 706.0h0M345.8 864.4h0M1044.5 730.9h0M744.4 158.2h0M423.6 818.0h0M196.8 559.8h0M955.6 725.8h0M1020.8 749.8h0M749.2 600.8h0M1028.1 658.6h0M362.2 844.9h0M375.6 795.9h0M1003.7 733.3h0M400.8 832.8h0M468.7 847.6h0M688.8 136.0h0M930.7 722.4h0M381.7 799.2h0M323.0 758.1h0M344.6 766.4h0M713.6 468.4h0M530.8 980.0h0M390.7 794.7h0M337.0 725.9h0"/>
<path stroke="#b599e3" d="M634.8 880.9h0M623.6 660.3h0M632.3 670.9h0M716.0 136.6h0M698.3 424.6h0M449.3 1041.5h0M1035.2 674.3h0M292.1 394.0h0M232.7 537.5h0M707.9 151.2h0M156.7 539.1h0M702.3 466.8h0M795.4 305.9h0M610.4 660.0h0M744.9 850.9h0M742.7 595.7h0M384.1 793.6h0M744.5 162.1h0M425.4 817.5h0M651.1 707.3h0M983.1 705.2h0M1024.5 723.0h0M1005.0 641.1h0M933.4 771.2h0M1079.0 669.9h0M844.9 282.4h0M722.9 859.8h0M240.3 547.5h0M213.9 556.7h0M940.5 748.3h0M430.6 819.9h0M750.6 854.6h0M682.7 155.3h0M985.7 727.8h0M534.3 1004.5h0M323.0 795.8h0M701.8 136.2h0M812.7 310.2h0M322.5 826.4h0M225.1 532.0h0M482.5 593.2h0M1004.1 731.6h0M571.0 499.0h0M174.8 517.2h0M317.4 842.6h0M1070.8 704.3h0M612.5 669.3h0M378.7 805.4h0M767.9 583.1h0M359.6 743.3h0M737.5 170.5h0M322.7 856.8h0M345.7 803.3h0M426.2 821.4h0M620.0 782.0h0M1011.1 775.5h0M1074.7 659.9h0M853.3 291.4h0M1058.3 707.6h0M928.0 761.9h0M994.2 693.1h0M438.9 835.1h0M1015.9 665.5h0M722.8 124.2h0M215.1 520.7h0M1031.6 636.6h0M941.7 741.6h0M298.0 826.4h0M406.0 776.3h0M324.7 859.9h0M609.1 680.5h0M1063.4 726.4h0"/>
<path stroke="#b194e5" d="M735.8 125.9h0M722.8 147.6h0M226.1 514.3h0M1075.3 722.9h0M225.6 554.5h0M680.4 453.3h0M978.5 712.3h0M352.9 783.1h0M745.3 156.0h0M366.2 805.8h0M657.4 449.9h0M799.7 584.7h0M954.9 728.5h0M968.6 752.5h0M370.7 850.0h0M644.1 448.5h0M751.0 222.0h0M1052.2 717.1h0M362.3 796.1h0M554.0 780.4h0M351.8 864.7h0M735.8 169.9h0M342.1 821.2h0M967.2 689.8h0M715.1 446.6h0M1036.6 759.8h0M721.3 839.7h0M213.7 502.0h0M369.5 776.5h0M1049.0 665.4h0M617.7 689.5h0M571.4 778.2h0M1066.3 725.4h0M814.0 317.8h0M355.3 754.0h0M1025.0 656.5h0M481.8 854.5h0M213.4 563.6h0M1024.1 664.4h0M695.0 114.8h0M225.4 561.9h0M444.0 530.0h0M394.1 845.7h0M155.9 542.1h0M780.2 589.7h0M982.5 689.8h0M619.6 694.9h0M1042.3 656.4h0M923.9 726.7h0M532.3 977.2h0M672.5 119.9h0M789.0 586.3h0M948.7 745.0h0M195.6 557.9h0M726.8 179.3h0M720.1 180.1h0M920.0 559.0h0M737.8 145.8h0M732.8 154.0h0M658.9 680.5h0M950.6 707.0h0M721.6 579.3h0M427.3 543.2h0M513.8 872.5h0M331.3 823.7h0M529.9 1014.7h0M746.4 846.4h0M1012.8 771.4h0M570.4 764.1h0M836.0 312.0h0M983.3 765.7h0M675.5 131.8h0M979.0 765.3h0M998.1 723.0h0M222.7 529.3h0M606.0 551.0h0M343.9 824.1h0M1020.2 650.6h0M621.4 785.5h0M571.4 762.9h0M1016.1 655.7h0M982.8 700.7h0M1044.4 688.0h0M1023.6 698.6h0M354.5 797.0h0M719.6 120.0h0M972.6 720.0h0M320.2 834.6h0M666.8 709.7h0M622.3 656.9h0M776.1 587.0h0M222.9 507.3h0M808.0 307.6h0"/>
<path stroke="#ad8ee6" d="M980.9 698.2h0M747.9 845.4h0M700.8 174.7h0M342.3 802.8h0M1048.7 673.8h0M706.7 431.5h0M678.2 170.2h0M791.5 297.5h0M756.0 171.0h0M737.0 594.6h0M1005.8 714.4h0M978.1 750.7h0M715.1 116.4h0M999.2 696.2h0M636.5 890.8h0M1040.1 689.5h0M989.8 704.1h0M711.6 858.1h0M713.7 153.4h0M717.5 140.3h0M711.7 137.1h0M957.7 773.1h0M641.2 897.3h0M329.8 864.9h0M1027.5 675.6h0M1017.5 674.6h0M995.3 778.1h0M240.0 522.0h0M729.0 947.9h0M753.2 195.6h0M712.9 178.5h0M1018.6 771.7h0M236.8 541.4h0M692.0 210.0h0M331.6 826.6h0M629.9 698.4h0M325.7 827.8h0M983.6 720.5h0M687.7 150.6h0M614.2 648.8h0M698.9 153.7h0M571.0 769.5h0M733.9 842.0h0M938.2 780.8h0M808.5 304.1h0M996.9 673.8h0M617.6 466.7h0M937.2 720.7h0M1052.6 649.0h0M234.0 549.9h0M202.2 560.1h0M627.2 687.4h0M324.1 747.7h0M389.8 818.7h0M674.4 124.0h0M1067.5 686.3h0M936.2 754.7h0M172.8 520.3h0M678.5 167.6h0M703.5 441.7h0M621.8 680.1h0M1010.1 731.5h0M718.7 833.1h0M704.9 445.6h0M1025.4 695.7h0M671.9 120.4h0M693.5 160.2h0M724.5 939.6h0M734.8 939.0h0M657.2 444.0h0M1022.4 692.5h0M554.5 770.4h0M989.4 754.7h0M738.4 154.4h0M989.3 669.1h0M1010.2 716.6h0M996.3 687.6h0M1027.8 678.1h0M572.1 779.6h0M1048.8 666.6h0M682.9 128.2h0M750.1 594.8h0M327.8 754.9h0M166.5 516.8h0M956.9 701.6h0M345.9 846.5h0M913.9 587.5h0M248.0 524.8h0M690.8 721.0h0M983.5 778.4h0M481.1 580.8h0M1041.8 728.8h0M708.0 427.6h0M530.6 1021.4h0M608.1 691.9h0M234.2 530.5h0M448.9 1042.4h0M1043.6 728.1h0M948.9 749.9h0M796.5 593.8h0M315.7 831.9h0"/>
<path stroke="#a988e8" d="M755.0 607.0h0M961.7 726.4h0M756.5 195.6h0M633.2 708.0h0M973.2 737.3h0M793.8 312.6h0M798.2 314.3h0M1010.2 689.1h0M826.1 227.1h0M1018.0 663.9h0M740.2 852.8h0M530.4 1017.8h0M344.6 780.2h0M940.9 742.9h0M708.6 139.1h0M992.4 696.8h0M488.8 582.8h0M945.6 780.0h0M449.2 566.9h0M233.0 560.8h0M347.9 770.4h0M1037.4 713.3h0M1006.0 736.9h0M797.8 592.2h0M172.5 528.1h0M469.2 840.3h0M741.3 847.2h0M177.1 516.9h0M695.1 135.0h0M720.7 447.1h0M485.9 575.9h0M491.1 577.7h0M511.8 868.8h0M724.1 857.6h0M722.6 473.8h0M957.1 745.4h0M744.7 856.7h0M732.9 852.0h0M213.5 573.0h0M746.6 537.3h0M566.2 772.6h0M802.0 294.0h0M329.4 829.0h0M406.5 797.4h0M1021.7 740.9h0M626.9 430.4h0M366.3 857.2h0M416.1 833.3h0M1009.4 733.2h0M628.8 871.6h0M735.7 473.4h0M192.3 555.1h0M734.3 470.5h0M527.2 1011.9h0M755.0 206.1h0M830.4 288.0h0M734.4 941.5h0M791.4 596.1h0M807.5 313.4h0M223.2 556.2h0M315.3 847.4h0M675.3 144.8h0M822.2 275.1h0M554.7 779.1h0M329.4 845.1h0M612.8 656.4h0M593.6 467.5h0M677.4 247.5h0M171.4 545.9h0M719.0 165.2h0M472.4 857.6h0M454.6 572.2h0M437.4 555.2h0M230.8 548.3h0M1050.4 691.3h0M744.3 166.3h0M450.0 394.7h0M984.4 712.8h0M1035.6 731.6h0M446.2 580.5h0M1007.3 703.5h0M1037.0 717.9h0"/>
<path stroke="#a583e9" d="M454.2 594.5h0M983.5 716.2h0M183.7 515.0h0M776.3 227.7h0M1077.8 693.2h0M624.1 674.3h0M325.6 775.7h0M773.3 591.8h0M985.5 744.8h0M924.2 741.0h0M668.4 435.4h0M699.0 251.0h0M324.1 850.9h0M627.3 678.2h0M1009.1 747.8h0M245.0 573.8h0M606.4 468.3h0M962.5 745.8h0M646.1 452.1h0M452.6 571.0h0M805.9 315.5h0M817.4 786.6h0M680.6 161.2h0M203.0 552.2h0M856.9 281.8h0M707.5 134.5h0M710.6 137.2h0M715.5 167.5h0M728.3 441.3h0M595.0 446.9h0M1057.1 710.0h0M195.9 547.9h0M695.6 435.8h0M686.2 124.5h0M993.9 763.4h0M166.4 553.1h0M569.0 768.0h0M1055.1 742.3h0M758.5 599.8h0M1046.5 722.6h0M318.4 790.9h0M180.2 547.6h0M833.5 282.3h0M662.2 461.5h0M953.3 705.7h0M531.6 987.5h0M731.4 186.1h0M194.9 550.7h0M696.0 172.6h0M940.2 738.6h0M485.7 565.4h0M819.7 296.8h0M646.9 413.3h0M994.6 695.7h0M737.2 132.7h0M794.9 304.3h0M1058.7 727.0h0M353.0 864.3h0M632.3 431.3h0M226.4 569.2h0M330.7 848.0h0M474.7 569.8h0M809.7 308.7h0M991.6 779.9h0M471.3 590.0h0M1004.7 763.9h0M491.8 506.9h0M459.0 572.3h0M721.8 117.4h0M674.4 134.0h0M656.8 458.1h0M696.5 457.6h0M192.6 526.6h0M160.1 528.8h0M1007.8 775.7h0M193.9 510.6h0M730.5 469.7h0M740.8 470.3h0M685.9 139.8h0M434.6 835.8h0M1056.0 684.7h0M634.9 464.4h0M324.8 753.3h0M1000.8 647.3h0M856.6 282.0h0M474.7 576.5h0M193.3 512.1h0M464.2 592.1h0M1058.5 680.8h0M579.0 777.4h0M1019.4 682.1h0M431.9 563.1h0M199.7 557.5h0M1017.9 772.4h0M738.6 851.2h0M627.2 695.2h0"/>
<path stroke="#a17dea" d="M197.2 509.7h0M193.2 564.9h0M183.0 540.0h0M210.7 549.3h0M502.2 498.6h0M540.3 1002.9h0M649.7 443.1h0M1061.1 654.5h0M472.3 566.6h0M719.3 181.5h0M691.1 429.6h0M675.1 136.7h0M743.9 179.3h0M738.2 165.9h0M688.9 439.2h0M730.1 941.0h0M823.9 774.7h0M602.2 456.3h0M708.2 167.5h0M722.1 852.8h0M806.8 232.2h0M968.5 741.3h0M433.5 556.4h0M839.4 281.1h0M723.8 178.3h0M528.2 1017.3h0M498.2 581.3h0M965.9 762.3h0M701.5 435.5h0M647.2 901.3h0M668.5 429.0h0M732.0 853.4h0M190.7 558.8h0M1037.3 741.9h0M189.9 512.2h0M204.3 504.1h0M923.9 710.4h0M989.5 684.0h0M670.0 426.6h0M685.3 721.9h0M800.1 586.1h0M930.4 729.9h0M618.7 684.1h0M696.5 418.6h0M449.0 544.4h0M942.1 771.9h0M702.5 131.3h0M847.3 287.2h0M1023.7 628.4h0M997.2 725.3h0M995.4 689.7h0M208.2 508.9h0M618.9 457.2h0M734.2 850.5h0M738.7 855.0h0M472.9 558.3h0M1028.7 666.3h0M461.5 562.4h0M193.5 536.1h0M654.6 654.2h0M795.9 259.8h0M687.4 420.6h0M729.1 118.8h0M840.0 270.0h0M690.9 160.6h0M978.0 730.3h0M162.3 541.3h0M393.2 813.7h0M773.4 582.4h0M680.6 152.7h0M737.8 941.0h0M507.1 875.2h0M713.7 937.1h0M484.5 860.2h0M618.9 843.3h0M717.2 935.9h0M688.2 710.0h0M642.7 926.3h0M546.0 509.0h0M159.5 540.1h0M1006.9 669.6h0M842.9 298.3h0M983.0 710.2h0M490.9 594.2h0M463.9 576.2h0M457.3 561.7h0M493.6 577.0h0M1000.6 715.4h0M711.4 134.8h0M499.0 569.8h0"/>
<path stroke="#9d77ec" d="M511.0 512.0h0M990.3 683.8h0M757.7 589.8h0M493.7 585.8h0M465.6 836.7h0M165.1 556.5h0M1028.2 763.0h0M222.6 539.0h0M487.5 1029.4h0M984.3 744.5h0M765.0 570.1h0M216.3 529.5h0M461.9 574.8h0M771.3 214.3h0M518.3 398.2h0M1036.1 718.0h0M728.0 121.4h0M793.7 305.1h0M799.2 583.3h0M606.5 674.0h0M843.0 298.2h0M814.1 319.6h0M754.5 537.2h0M189.6 563.1h0M206.5 521.6h0M725.7 474.1h0M1059.8 731.9h0M821.0 779.9h0M148.7 550.1h0M201.9 525.4h0M737.5 944.7h0M727.8 142.6h0M1001.8 672.6h0M738.4 459.4h0M837.0 288.0h0M1044.8 664.8h0M492.6 585.9h0M970.8 675.2h0M491.5 360.9h0M220.4 555.4h0M969.8 674.6h0M750.0 719.2h0M190.6 566.6h0M158.4 556.1h0M696.7 159.0h0M711.5 134.4h0M182.3 543.1h0M675.4 160.0h0M1072.2 646.1h0M1023.0 761.1h0M517.5 924.0h0M161.4 554.5h0M661.7 438.3h0M636.8 883.3h0M728.9 445.2h0M645.7 685.1h0M841.7 296.7h0M227.5 545.4h0M634.8 878.8h0M764.5 198.9h0M971.8 737.3h0M1006.4 632.3h0M649.9 904.3h0M680.1 454.4h0"/>
<path stroke="#9871ed" d="M609.8 691.4h0M797.2 307.6h0M1013.5 753.1h0M1058.3 704.1h0M964.5 699.8h0M949.1 718.6h0M200.6 522.3h0M846.0 275.3h0M440.9 561.6h0M756.8 849.1h0M715.9 463.0h0M963.1 702.4h0M506.6 376.1h0M936.8 740.8h0M741.4 943.5h0M764.7 551.9h0M1028.6 755.9h0M610.1 236.0h0M759.4 588.3h0M591.8 226.8h0M436.4 822.2h0M227.2 555.3h0M735.7 469.6h0M185.5 553.8h0M732.1 849.3h0M852.5 295.4h0M969.3 779.6h0M623.8 421.2h0M809.2 265.9h0M617.1 463.1h0M994.9 781.2h0M1016.2 712.5h0M488.4 505.3h0M729.4 852.7h0M675.7 151.6h0M835.6 285.1h0M626.5 437.5h0M662.8 709.4h0M629.6 663.4h0M1032.7 762.7h0M512.6 531.2h0M449.5 563.5h0M1034.1 685.6h0M752.6 534.2h0M169.4 563.4h0M504.1 357.9h0M1044.8 735.8h0M504.0 528.0h0M509.0 510.0h0M849.2 290.7h0M619.0 442.2h0M768.3 599.5h0M983.6 738.5h0M460.6 578.3h0M205.6 532.2h0M695.6 124.8h0M441.4 581.8h0M1033.9 732.8h0M677.7 699.0h0M974.6 678.4h0M499.0 561.2h0M695.0 116.7h0M784.3 253.2h0M482.0 576.8h0"/>
<path stroke="#946cee" d="M790.3 583.1h0M636.7 418.0h0M967.1 711.9h0M596.2 438.1h0M467.2 568.9h0M768.8 560.0h0M444.1 590.9h0M1006.5 694.7h0M485.5 570.7h0M226.2 512.6h0M528.2 981.2h0M934.7 782.3h0M434.0 545.5h0M761.0 589.0h0M200.2 507.6h0M170.1 542.6h0M455.4 446.4h0M715.7 471.9h0M609.3 459.1h0M541.1 1009.1h0M1002.0 630.3h0M790.7 593.1h0M411.7 404.2h0M202.8 504.1h0M721.9 150.0h0M589.0 252.2h0M726.5 134.2h0M653.9 436.1h0M721.6 472.1h0M1001.2 667.9h0M795.9 223.6h0M750.0 150.5h0M650.5 687.1h0M684.5 132.4h0M681.2 137.6h0M849.2 285.6h0M557.1 220.1h0M1008.0 710.1h0M765.6 590.0h0M593.3 459.5h0M189.4 520.4h0M783.0 238.0h0M715.6 464.2h0M845.2 290.1h0M606.1 424.3h0M492.4 560.0h0M230.0 554.2h0M648.0 244.0h0M678.2 448.4h0M769.0 219.2h0M572.0 244.0h0M203.3 522.2h0M817.1 320.1h0M708.3 172.4h0"/>
<path stroke="#8f66f0" d="M752.6 561.0h0M759.4 203.0h0M849.0 276.9h0M977.5 685.5h0M796.8 580.4h0M593.1 451.6h0M708.1 149.8h0M432.6 548.1h0M609.8 411.7h0M690.8 422.2h0M824.8 277.6h0M777.8 252.5h0M847.3 286.2h0M609.2 399.9h0M990.1 684.0h0M1017.0 730.4h0M1033.7 713.0h0M986.8 747.7h0M1023.0 625.3h0M1065.5 655.0h0M527.3 526.1h0M429.3 445.4h0M1003.4 701.3h0M804.8 228.8h0M741.0 721.0h0M751.6 202.2h0M685.0 128.3h0M733.5 944.6h0M682.0 228.0h0M1026.1 644.0h0M970.3 731.7h0M558.6 771.2h0M808.8 785.6h0M491.1 559.2h0M391.1 420.4h0M695.7 133.4h0M500.4 506.9h0M510.4 573.8h0M184.4 528.7h0M758.8 547.5h0M201.8 517.8h0M736.5 145.7h0M761.1 548.1h0M544.0 508.0h0M512.0 572.6h0M675.1 144.1h0M1021.3 720.6h0M460.0 588.9h0"/>
<path stroke="#8a60f1" d="M970.0 660.4h0M489.4 512.6h0M943.6 750.8h0M602.9 427.7h0M401.0 382.6h0M595.8 395.5h0M936.0 760.2h0M501.6 550.2h0M571.1 237.7h0M582.0 243.4h0M627.4 239.2h0M981.2 710.1h0M507.5 557.1h0M777.5 217.5h0M509.4 573.7h0M565.5 234.9h0M409.2 436.4h0M821.3 220.1h0M514.6 524.9h0M835.8 278.8h0M968.0 733.7h0M790.9 299.6h0M759.0 186.0h0M778.3 221.0h0M410.5 422.1h0M937.5 776.1h0M516.9 530.5h0M633.1 234.3h0M613.5 447.4h0M991.7 747.2h0M473.2 564.6h0M601.8 232.6h0M437.2 539.9h0M404.2 415.4h0M981.0 739.7h0M817.7 276.7h0M832.8 225.1h0M759.0 541.9h0M957.0 714.3h0M687.3 432.5h0M439.9 586.5h0M759.5 539.1h0M1029.7 718.5h0M512.8 546.6h0M767.4 557.7h0M733.3 450.8h0M601.8 393.4h0M522.9 557.5h0M806.7 302.9h0M822.4 791.8h0"/>
<path stroke="#845af2" d="M784.0 307.8h0M835.7 298.9h0M572.1 777.0h0M495.8 508.4h0M633.9 459.8h0M632.6 439.0h0M490.0 477.0h0M552.1 249.0h0M704.2 451.4h0M803.4 225.7h0M698.0 153.4h0M601.9 228.7h0M614.1 236.8h0M753.6 538.1h0M611.8 401.6h0M704.9 129.9h0M744.6 168.6h0M771.6 556.7h0M498.3 568.1h0M812.2 275.7h0M413.6 443.6h0M550.3 216.3h0M401.8 392.1h0M611.5 437.7h0M636.3 424.5h0M532.9 443.3h0M557.5 314.4h0M260.5 497.5h0M601.1 413.3h0M672.7 166.0h0M625.1 456.4h0M425.0 406.3h0M614.2 378.9h0M584.0 233.0h0M729.2 938.0h0M560.2 211.0h0M792.1 212.3h0M615.4 404.7h0M550.5 213.9h0"/>
<path stroke="#7e54f3" d="M495.1 502.7h0M599.3 395.6h0M749.3 158.0h0M567.2 234.2h0M252.8 505.6h0M600.5 227.9h0M409.7 436.7h0M469.9 452.5h0M554.0 237.6h0M485.6 459.2h0M594.6 238.3h0M397.4 407.2h0M482.2 462.1h0M995.3 697.2h0M497.3 549.5h0M553.5 248.0h0M683.3 242.4h0M566.7 211.8h0M394.1 412.4h0M575.9 226.1h0M612.2 415.4h0M612.3 468.6h0M510.3 552.5h0M506.8 583.1h0M688.0 233.0h0M782.9 583.3h0M586.4 240.5h0M601.6 414.6h0M571.3 223.7h0M618.5 393.6h0M607.1 397.1h0M595.9 436.5h0M496.5 501.5h0M693.1 138.4h0"/>
<path stroke="#784ef5" d="M557.8 243.3h0M513.2 577.7h0M391.7 399.5h0M603.6 397.1h0M470.8 450.6h0M992.4 674.4h0M769.9 556.2h0M615.3 408.6h0M569.8 231.1h0M596.4 223.6h0M552.9 232.6h0M528.0 442.7h0M517.3 549.2h0M478.3 448.4h0M829.8 230.8h0M549.8 246.2h0M553.7 250.4h0M633.0 238.1h0M398.2 386.7h0M399.5 432.2h0M611.5 381.6h0M1056.9 662.1h0M611.6 234.1h0M599.7 386.3h0M793.6 261.7h0M499.2 562.3h0M163.8 558.5h0M477.5 449.8h0M619.8 406.5h0M606.6 379.4h0M616.8 388.8h0M423.7 409.3h0M385.3 406.3h0M607.8 413.9h0M583.0 224.8h0M586.1 232.4h0M596.8 426.5h0M393.5 392.9h0M457.3 452.9h0M655.0 247.0h0M560.8 216.0h0"/>
<path stroke="#7248f6" d="M256.4 494.0h0M554.5 220.2h0M601.4 397.9h0M603.5 406.6h0M551.6 232.0h0M596.8 401.1h0M610.9 394.3h0M579.2 230.3h0M566.7 230.1h0M612.2 407.8h0M465.2 447.1h0M522.7 549.9h0M522.8 552.0h0M246.5 498.6h0M550.3 231.9h0M759.4 545.3h0M591.0 231.3h0M486.4 451.3h0M1010.8 693.9h0M391.3 407.6h0M487.9 459.0h0M722.1 461.4h0M254.2 493.2h0M606.6 410.0h0M810.8 234.3h0M558.6 237.4h0M498.5 579.4h0M429.8 439.1h0M395.5 419.1h0M694.8 138.5h0M579.0 232.9h0M401.4 403.8h0"/>
<path stroke="#6b41f7" d="M606.8 389.2h0M553.2 229.9h0M808.8 211.8h0M810.6 222.0h0M602.9 425.0h0M543.4 221.7h0M391.9 417.6h0M564.3 235.3h0M552.9 317.2h0M260.4 496.2h0M619.5 234.4h0M256.4 501.6h0M554.8 234.0h0M384.9 415.1h0M496.1 458.4h0M727.6 454.7h0M600.4 400.2h0M407.8 438.5h0M598.2 223.3h0M572.4 230.4h0M453.7 447.3h0M608.7 400.8h0M407.9 391.8h0"/>
<path stroke="#633bf8" d="M1008.0 768.0h0M550.8 217.1h0M796.0 232.0h0M396.3 419.7h0M690.8 246.3h0M549.9 319.2h0M623.6 396.6h0M612.3 235.3h0M474.6 463.4h0M568.7 229.5h0M557.4 221.6h0M613.1 408.7h0M258.4 489.3h0M622.2 427.9h0"/>
<path stroke="#5b34f9" d="M802.0 245.0h0M556.2 230.2h0M418.0 423.3h0M417.9 440.7h0M264.0 491.0h0M764.0 222.0h0M570.0 443.0h0M556.7 232.6h0M390.9 402.4h0M707.4 259.0h0"/>
<path stroke="#522dfb" d="M414.0 408.4h0M610.5 397.5h0M557.1 238.2h0M550.0 322.5h0M577.0 462.0h0M473.1 462.3h0"/>
<path stroke="#4725fc" d="M400.9 404.1h0M456.3 414.6h0M459.6 415.3h0M527.4 551.1h0"/>
<path stroke="#3a1cfd" d="M531.0 555.9h0"/>
<path stroke="#2811fe" d="M482.0 434.0h0"/>
<path stroke="#0000ff" d="M591.6 540.0h0"/>
<path stroke="#d3d3d3" d="M930.0 715.0h0M409.4 802.5h0M410.5 818.1h0M986.9 684.7h0M521.8 559.7h0M410.0 771.5h0M699.0 457.7h0M199.1 506.4h0M571.8 775.6h0M493.5 866.3h0M616.0 698.6h0M1058.8 661.5h0M509.1 543.9h0M356.5 790.0h0M385.1 814.1h0M982.4 712.2h0M355.2 829.5h0M677.7 442.8h0M232.2 533.7h0M405.3 815.4h0M966.7 683.3h0M326.4 813.4h0M327.6 855.4h0M711.5 182.6h0M921.9 554.6h0M334.5 779.5h0M969.0 686.8h0M398.4 822.1h0M368.6 771.2h0M383.4 785.8h0M766.0 207.6h0M335.3 725.0h0M847.1 296.2h0M358.1 792.2h0M414.1 817.7h0M760.9 601.0h0M960.5 762.6h0M340.3 858.7h0M713.9 472.8h0M417.1 812.5h0M997.1 676.6h0M1052.9 687.9h0M1003.2 699.5h0M370.9 721.5h0M361.1 752.5h0M981.9 737.2h0M627.2 430.9h0M388.6 824.9h0M630.3 664.5h0M702.5 158.3h0M374.6 765.3h0M408.6 782.7h0M367.3 850.0h0M405.6 785.2h0M395.0 823.7h0M340.3 830.7h0M970.8 721.1h0M699.4 927.9h0M664.1 448.3h0M553.1 772.0h0M330.6 866.8h0M329.1 755.8h0M634.6 654.9h0M556.8 763.6h0M591.6 442.3h0M724.0 585.6h0M393.4 813.5h0M1034.2 678.5h0M621.5 850.0h0M661.2 679.5h0M922.9 552.0h0M407.6 788.6h0M779.4 604.8h0M616.0 424.1h0M1032.5 667.9h0M366.0 750.0h0M745.0 555.5h0M400.9 758.3h0M360.5 795.9h0M1049.7 640.6h0M399.2 827.0h0M427.8 828.6h0M1045.4 684.6h0M712.9 132.5h0M381.7 813.1h0M641.0 666.7h0M436.0 827.3h0M561.1 774.8h0M845.2 291.9h0M912.5 573.6h0M389.1 740.4h0M318.3 856.4h0M934.7 727.4h0M925.9 540.6h0M967.9 755.5h0"/>
<path stroke="#d0cdd5" d="M411.5 788.3h0M971.5 759.5h0"/>
<path stroke="#cec7d7" d="M408.4 835.9h0M318.7 787.6h0M371.4 858.8h0"/>
<path stroke="#cbc2d8" d="M348.6 735.6h0M384.4 771.9h0M303.5 805.7h0M351.4 809.2h0M1075.8 657.7h0"/>
<path stroke="#c8bcda" d="M438.7 823.9h0M329.0 750.7h0M391.7 811.0h0M997.6 687.7h0M737.0 140.3h0M367.8 747.3h0M713.1 170.1h0M351.5 831.6h0M373.0 782.8h0M500.9 867.5h0M995.3 710.0h0M359.2 759.9h0"/>
<path stroke="#c5b6dc" d="M972.0 710.0h0M344.2 810.7h0M356.9 755.7h0M360.1 829.7h0M998.1 699.2h0M322.3 817.1h0M379.6 782.7h0M313.5 823.9h0M341.2 848.9h0M359.9 769.3h0M384.7 818.1h0M449.8 844.8h0M365.0 767.3h0M343.2 831.3h0M324.7 736.8h0M370.4 790.8h0M1051.7 713.4h0M403.4 802.6h0M361.1 731.3h0M1003.1 668.2h0M939.2 742.6h0M782.4 254.2h0M318.4 780.7h0"/>
<path stroke="#c2b0dd" d="M705.8 148.2h0M372.1 766.0h0M319.8 816.2h0M305.4 824.4h0M353.5 841.0h0M445.0 827.9h0M971.5 767.6h0M367.0 731.2h0M340.8 797.5h0M329.8 735.7h0M930.7 771.1h0M359.0 807.4h0M358.9 852.6h0M497.8 868.4h0M343.3 789.2h0M942.6 781.7h0M371.6 822.9h0M311.6 783.5h0M345.2 825.3h0M375.8 787.3h0M366.2 855.6h0M348.1 748.9h0M370.2 812.6h0M709.4 164.2h0M317.5 847.9h0M490.5 864.3h0M312.3 792.0h0M391.7 745.6h0M374.8 799.6h0M616.7 680.6h0M937.7 786.1h0M392.1 837.8h0M353.6 749.3h0"/>
<path stroke="#bfabdf" d="M667.3 678.5h0M340.8 799.0h0M576.0 482.0h0M415.5 841.0h0M351.4 732.3h0M410.2 822.9h0M994.1 686.3h0M361.2 787.2h0M925.9 722.4h0M365.5 772.6h0M366.5 738.1h0M345.7 787.0h0M359.0 815.4h0M806.0 313.1h0M497.5 872.0h0M683.5 710.4h0M353.2 853.7h0M388.2 847.9h0M1044.9 758.8h0M916.3 706.2h0M343.2 763.9h0M330.7 816.6h0M1081.4 651.3h0M1033.5 727.9h0M326.6 806.5h0M1055.4 717.6h0M1014.9 676.5h0M502.6 870.0h0M320.7 859.1h0M384.0 792.8h0M1030.3 765.6h0M227.1 578.4h0M959.2 733.6h0M377.0 729.1h0M1047.4 723.5h0M723.5 154.6h0M317.0 774.5h0M1048.5 703.0h0M239.4 551.4h0M385.4 779.6h0M1046.3 693.0h0M618.0 703.5h0M298.1 811.0h0M994.6 641.1h0M1000.1 755.6h0M394.3 844.5h0M600.6 464.1h0"/>
<path stroke="#bba5e0" d="M696.2 154.3h0M634.0 692.9h0M355.0 849.2h0M1023.1 636.9h0M983.5 687.2h0M342.9 823.0h0M337.4 756.0h0M703.9 131.4h0M322.1 748.2h0M980.0 687.1h0M992.3 708.0h0M993.8 778.9h0M362.7 768.3h0M299.5 816.7h0M653.2 694.6h0M374.0 776.2h0M1037.9 735.8h0M737.6 131.0h0M381.4 831.4h0M752.3 849.8h0M1058.8 731.6h0M644.7 905.3h0M361.9 821.7h0M687.1 116.0h0M339.0 785.7h0M726.8 187.3h0M338.0 787.7h0M355.9 750.9h0M1017.0 681.1h0M1049.9 693.9h0M729.3 171.6h0M953.5 696.0h0M642.8 679.5h0M1000.4 672.9h0M356.0 832.4h0M673.2 132.3h0M381.6 780.5h0M222.4 537.7h0M769.0 575.9h0M347.7 851.0h0M413.4 794.0h0M355.1 723.7h0M235.4 551.1h0M990.1 682.2h0M1045.7 685.4h0M245.6 544.5h0M441.2 836.9h0M969.9 707.0h0M685.9 715.9h0M1013.0 681.0h0M382.2 826.0h0M1003.6 660.5h0M938.1 749.5h0"/>
<path stroke="#b89fe2" d="M321.6 837.7h0M1031.6 721.3h0M590.0 773.0h0M745.0 174.7h0M378.9 844.9h0M932.6 714.4h0M315.6 775.1h0M530.8 996.1h0M572.0 775.0h0M712.2 136.7h0M488.4 862.3h0M704.5 162.8h0M487.2 576.7h0M640.6 895.8h0M648.6 656.3h0M1030.3 638.6h0M1030.3 701.3h0M935.1 747.2h0M936.1 750.6h0M770.4 586.3h0M441.9 824.0h0M321.7 784.3h0M638.3 668.0h0M453.3 830.1h0M334.2 822.2h0M768.4 603.9h0M360.8 849.9h0M315.1 807.4h0M1050.8 645.7h0M608.1 695.1h0M671.8 687.6h0M240.0 564.6h0M234.2 543.8h0M975.3 735.5h0M692.2 120.9h0M1076.2 679.6h0M731.5 174.3h0M954.3 776.3h0M739.0 143.5h0M1022.7 666.2h0M324.1 848.3h0M986.4 675.6h0M1054.0 719.2h0M1050.9 646.9h0M629.9 873.4h0M354.0 748.9h0M1030.1 730.1h0M993.9 693.1h0M389.3 840.9h0M360.4 789.5h0M327.7 787.6h0M981.4 684.3h0M379.7 795.7h0"/>
<path stroke="#b599e3" d="M720.0 149.6h0M1040.1 715.0h0M689.2 731.9h0M940.7 754.4h0M1059.7 691.9h0M619.3 668.4h0M988.2 717.7h0M365.2 838.8h0M330.8 853.6h0M1034.5 742.7h0M695.5 169.3h0M624.4 857.5h0M296.3 821.9h0M1013.3 667.8h0M634.3 704.4h0M514.4 881.0h0M238.8 576.6h0M1033.5 734.4h0M970.1 684.6h0M949.6 698.9h0M615.0 692.9h0M333.2 756.2h0M243.3 543.8h0M580.1 776.7h0M214.7 570.4h0M1001.1 649.2h0M982.0 769.8h0M387.5 839.4h0M570.0 769.5h0M993.9 763.4h0M965.7 718.0h0M679.7 156.4h0M474.2 849.3h0M652.1 700.0h0M615.0 686.9h0M675.3 119.9h0M1007.6 645.8h0M961.6 692.8h0M635.9 656.2h0M552.2 777.7h0M618.6 843.7h0M1055.7 641.7h0M618.4 844.5h0M973.6 703.3h0M497.9 861.5h0M1021.1 662.2h0M549.0 433.6h0M912.5 577.0h0M514.3 879.9h0M1031.5 701.5h0M735.9 120.2h0M631.7 872.8h0M476.6 584.7h0M349.2 759.1h0M220.9 543.0h0M716.0 849.2h0M1060.0 677.1h0M958.2 760.2h0M333.5 789.4h0M1057.4 748.1h0M673.5 150.8h0M729.2 852.8h0M697.0 150.6h0M367.7 754.5h0M811.6 310.6h0"/>
<path stroke="#b194e5" d="M967.1 709.2h0M812.4 309.3h0M542.4 987.7h0M342.1 731.4h0M162.8 521.3h0M532.4 986.6h0M688.3 442.8h0M1014.0 723.6h0M1036.0 764.1h0M809.1 313.4h0M373.6 772.8h0M347.1 799.2h0M647.9 704.9h0M381.1 771.3h0M849.5 278.2h0M978.1 696.6h0M1033.2 704.5h0M801.0 299.6h0M963.6 688.4h0M625.6 678.1h0M681.0 166.4h0M702.3 176.9h0M383.5 817.1h0M981.9 639.2h0M174.0 565.9h0M987.7 720.6h0M1014.3 775.5h0M384.5 844.7h0M624.1 703.1h0M632.2 655.2h0M1013.7 642.7h0M173.6 531.1h0M787.5 598.4h0M646.6 688.2h0M758.7 206.7h0M762.0 569.4h0M231.9 547.1h0M206.6 518.0h0M1001.7 731.1h0M1056.0 668.5h0M1045.5 680.8h0M537.7 1006.6h0M636.6 687.1h0M793.1 301.2h0M701.6 119.5h0M978.5 708.1h0M530.0 1007.6h0M1034.6 669.3h0M713.3 118.0h0M691.9 165.3h0M235.4 530.0h0M617.3 664.8h0M956.2 730.0h0M382.6 836.0h0M596.6 440.9h0M357.4 723.0h0M978.2 755.6h0M225.7 524.1h0M943.8 754.8h0M652.6 702.1h0M471.9 566.1h0M1045.5 696.8h0M179.1 562.7h0M664.3 689.9h0M767.3 605.5h0M939.3 771.1h0M645.3 891.7h0M408.0 840.5h0M982.6 774.3h0M944.7 760.5h0M240.3 568.2h0M710.3 168.2h0M798.5 302.7h0M983.1 734.0h0M990.1 742.2h0M977.7 713.0h0M782.0 284.0h0M1068.4 739.0h0M200.6 552.7h0M748.1 196.3h0M1020.8 657.8h0M948.3 775.5h0M565.8 772.6h0M979.0 710.5h0M645.0 449.9h0"/>
<path stroke="#ad8ee6" d="M713.1 126.1h0M1003.9 712.0h0M739.4 151.4h0M940.0 725.9h0M730.6 465.7h0M691.6 155.1h0M755.1 600.7h0M534.2 990.5h0M1053.6 640.6h0M482.8 592.8h0M561.4 789.0h0M982.7 685.8h0M981.6 709.0h0M715.2 158.3h0M226.1 564.9h0M219.3 531.6h0M1005.1 699.7h0M726.7 180.0h0M836.7 293.9h0M741.6 153.6h0M163.6 542.1h0M1016.2 708.9h0M420.9 835.5h0M449.0 831.5h0M702.5 172.2h0M200.7 553.7h0M791.8 298.6h0M672.2 454.5h0M533.0 1012.1h0M184.2 538.5h0M392.7 816.7h0M952.3 725.4h0M1014.0 770.5h0M744.1 847.3h0M694.4 926.0h0M975.7 768.7h0M747.0 154.4h0M195.7 536.5h0M1036.5 639.5h0M688.0 709.4h0M1027.3 731.9h0M527.6 986.0h0M235.4 553.4h0M1004.5 698.9h0M307.7 849.2h0M195.5 507.9h0M613.4 658.8h0M192.7 527.1h0M487.1 560.3h0M686.6 149.7h0M533.0 1016.7h0M525.9 1014.4h0M1045.4 717.1h0M739.3 179.8h0M588.5 756.5h0M606.0 722.0h0M720.1 851.0h0M316.5 853.6h0M624.4 702.3h0M685.7 177.8h0M720.0 169.1h0M354.6 727.2h0M1034.5 660.1h0M492.7 870.2h0M705.0 180.4h0M725.7 951.5h0M1044.5 707.2h0M438.0 816.9h0M569.3 783.4h0M704.9 163.4h0M701.6 157.2h0M619.3 676.6h0M165.1 559.1h0M1005.6 688.5h0M731.0 131.2h0M521.0 878.5h0M213.3 528.9h0M189.0 535.6h0M1002.7 747.7h0M1007.6 781.6h0M243.1 578.3h0M226.9 552.2h0M801.8 297.7h0M322.7 862.6h0M956.9 749.1h0M1031.4 707.9h0M958.6 723.8h0M1018.4 760.4h0M1042.1 671.3h0M694.9 447.8h0M931.5 732.3h0M686.8 119.9h0M687.9 715.3h0M723.7 443.4h0M754.2 536.1h0"/>
<path stroke="#a988e8" d="M630.3 653.3h0M798.9 300.2h0M1044.1 740.7h0M726.0 471.2h0M677.2 462.5h0M566.4 767.7h0M678.0 147.8h0M1009.2 696.3h0M739.4 190.0h0M985.0 684.3h0M842.0 292.2h0M737.3 146.7h0M371.1 819.8h0M564.3 765.7h0M738.0 457.2h0M712.2 855.1h0M1002.6 688.8h0M631.9 457.3h0M732.0 453.4h0M638.7 901.7h0M952.5 708.9h0M946.1 735.0h0M1081.8 702.2h0M776.7 594.0h0M424.1 561.7h0M961.6 726.7h0M427.4 818.7h0M532.6 989.0h0M237.0 540.9h0M509.6 875.1h0M550.1 767.3h0M199.3 515.1h0M736.9 183.5h0M1004.6 749.0h0M774.1 582.1h0M783.6 583.0h0M1009.7 666.3h0M699.8 181.4h0M723.8 938.7h0M692.8 424.5h0M747.8 718.0h0M929.5 679.0h0M973.9 744.3h0M704.1 138.9h0M618.8 653.9h0M204.7 503.9h0M452.4 577.9h0M643.0 444.7h0M695.2 159.2h0M192.8 564.8h0M991.5 685.9h0M736.3 464.7h0M685.1 456.7h0M542.0 446.0h0M754.3 194.4h0M727.7 954.4h0M707.2 471.6h0M723.3 122.5h0M479.1 572.2h0M844.1 294.1h0M1058.3 670.2h0M991.7 767.3h0M999.5 736.2h0M684.4 250.0h0M438.2 549.2h0M807.1 274.6h0M567.6 772.0h0M434.1 540.2h0M708.4 136.5h0M811.7 319.8h0M525.0 968.7h0M216.4 575.1h0M324.9 836.2h0M731.9 941.1h0M342.2 797.5h0M210.2 547.6h0M681.1 457.5h0M947.7 755.6h0M736.7 170.8h0M852.4 278.5h0M830.8 231.6h0M1021.4 676.8h0M726.4 942.6h0M813.5 319.4h0M852.1 286.8h0M1074.5 648.2h0M721.7 143.0h0M795.2 301.3h0M718.6 586.5h0M973.8 692.5h0M963.7 669.6h0M974.1 715.0h0M579.7 771.1h0M930.2 729.4h0M707.4 119.3h0"/>
<path stroke="#a583e9" d="M643.6 436.6h0M719.5 153.0h0M199.9 550.6h0M630.6 875.7h0M710.0 152.6h0M819.1 784.8h0M1015.6 760.0h0M634.5 693.3h0M189.5 535.7h0M770.9 603.6h0M516.8 878.5h0M529.9 1012.4h0M500.8 365.2h0M737.6 945.6h0M793.1 301.0h0M548.8 773.2h0M1034.9 687.0h0M193.1 506.6h0M719.0 858.4h0M611.5 666.4h0M226.9 536.6h0M657.7 686.7h0M534.5 1010.9h0M765.7 591.5h0M1083.4 698.2h0M469.6 594.4h0M695.1 167.7h0M783.3 596.1h0M981.3 678.2h0M617.9 678.5h0M1042.1 732.0h0M648.3 906.5h0M994.6 757.9h0M453.7 585.4h0M670.8 424.9h0M644.2 673.3h0M1039.3 753.3h0M717.9 140.2h0M1076.0 722.5h0M1073.5 724.3h0M998.1 659.0h0M577.8 776.7h0M1061.3 704.5h0M1061.1 719.4h0M222.5 549.3h0M714.3 164.5h0M810.6 316.6h0M1016.6 755.2h0M197.8 518.8h0M1015.7 757.9h0M799.8 302.7h0M686.8 716.8h0M733.7 456.9h0M683.8 144.8h0M729.0 144.8h0M1037.6 764.6h0M1055.3 712.6h0M533.9 1016.7h0M735.7 855.5h0M499.7 364.6h0M502.3 583.0h0M532.1 1013.5h0M170.9 550.1h0M532.5 1013.9h0M743.8 191.3h0M916.7 722.3h0M1052.9 679.9h0M770.8 603.1h0M617.3 666.2h0M683.3 155.0h0M701.0 469.9h0M236.9 554.1h0M621.2 460.0h0M1080.0 701.5h0M434.9 537.4h0M841.0 280.4h0M1024.4 730.7h0M638.5 921.6h0M955.6 736.5h0M922.6 735.3h0M1017.2 726.0h0M1018.9 674.0h0M484.1 592.0h0M482.6 588.0h0M1002.6 742.3h0M725.2 941.4h0M692.6 158.5h0M674.6 158.2h0M600.2 460.1h0M752.5 597.6h0M970.7 737.4h0M212.8 572.0h0M233.2 540.8h0M967.8 685.0h0M747.6 142.2h0"/>
<path stroke="#a17dea" d="M166.3 544.6h0M685.2 465.4h0M946.6 707.4h0M1010.8 752.7h0M819.0 281.2h0M178.2 568.8h0M186.1 557.0h0M720.8 857.1h0M204.3 564.2h0M1055.1 708.2h0M694.5 165.3h0M731.5 944.8h0M688.2 243.1h0M723.1 441.3h0M943.0 772.6h0M618.8 695.7h0M731.7 943.1h0M729.5 845.2h0M1034.5 628.3h0M735.6 153.5h0M736.0 149.8h0M717.7 185.6h0M215.3 528.3h0M720.0 140.6h0M746.5 170.1h0M1044.2 679.5h0M1001.3 742.1h0M626.1 683.8h0M168.2 537.5h0M727.3 947.8h0M739.7 139.0h0M231.2 533.4h0M476.9 585.0h0M362.0 733.4h0M611.5 681.7h0M737.3 934.1h0M158.6 556.5h0M726.2 119.3h0M618.5 838.0h0M938.8 737.5h0M996.6 671.9h0M1030.4 677.3h0M719.7 435.0h0M1035.1 727.8h0M530.6 981.3h0M188.7 509.7h0M504.0 562.3h0M668.4 985.1h0M727.4 152.5h0M195.4 552.7h0M640.4 891.3h0M471.2 559.7h0M993.2 676.1h0M737.5 145.0h0M762.9 547.1h0M1071.1 715.1h0M647.2 902.3h0M1079.6 692.8h0M795.3 292.1h0M198.0 512.7h0M766.0 550.6h0M465.6 586.2h0M231.4 521.9h0M734.0 137.8h0M718.8 461.0h0M439.6 575.9h0M620.0 665.5h0M780.8 586.8h0M976.6 733.6h0M1014.8 672.9h0M506.2 872.6h0M574.0 780.7h0M713.8 166.2h0M694.4 452.6h0M1015.7 756.3h0M965.5 700.4h0M966.2 744.5h0M995.7 687.8h0M688.4 170.1h0M701.8 462.8h0M699.6 450.5h0M644.2 894.3h0M438.0 409.3h0M203.2 505.0h0M743.7 846.9h0M729.6 467.6h0M715.4 435.8h0M735.6 941.7h0M708.7 435.5h0M1057.6 732.7h0M1076.8 674.5h0M563.3 309.9h0M667.4 445.4h0M988.5 695.5h0M965.9 659.1h0M608.1 666.6h0M847.1 293.7h0M733.3 123.1h0M740.4 130.5h0"/>
<path stroke="#9d77ec" d="M712.7 121.1h0M472.4 592.3h0M1019.8 702.1h0M770.8 599.2h0M823.1 779.9h0M188.9 501.4h0M506.9 571.0h0M441.0 583.4h0M232.4 546.2h0M696.9 122.6h0M634.5 454.9h0M200.8 549.0h0M1055.1 751.2h0M197.4 507.8h0M979.0 770.6h0M162.8 527.8h0M942.4 776.0h0M1063.0 699.5h0M742.1 161.3h0M950.6 784.6h0M503.1 581.3h0M433.0 563.5h0M969.4 726.1h0M845.1 277.8h0M721.0 940.3h0M200.9 528.4h0M1012.4 672.2h0M842.0 286.3h0M771.8 605.4h0M685.0 704.1h0M999.5 762.3h0M616.8 429.7h0M332.0 738.0h0M175.5 530.5h0M1013.7 682.8h0M527.3 1011.0h0M644.1 672.3h0M856.7 281.5h0M163.2 536.5h0M647.6 906.7h0M354.0 855.4h0M476.4 566.4h0M685.5 156.8h0M943.5 762.0h0M517.0 917.6h0M707.5 854.6h0M767.4 552.7h0M620.7 466.3h0M700.0 166.1h0M705.8 118.5h0M485.8 571.4h0M459.9 590.2h0M693.5 123.4h0M526.5 976.9h0M645.7 459.1h0M826.3 779.0h0M734.8 458.8h0M953.8 735.2h0M948.3 707.5h0M681.2 115.5h0M161.1 537.2h0M618.9 839.4h0M848.1 280.1h0M693.3 441.7h0M1031.9 685.0h0M208.4 555.0h0M218.1 509.4h0M808.8 315.2h0M550.5 771.1h0M209.0 509.3h0M627.5 458.1h0M662.8 452.6h0M743.3 164.1h0M766.3 583.7h0M500.9 502.6h0M796.0 292.0h0M250.4 576.9h0M193.0 546.3h0M639.2 889.9h0M703.1 440.9h0M852.6 284.8h0M647.7 425.9h0M192.5 562.4h0M463.9 593.0h0M685.1 720.2h0"/>
<path stroke="#9871ed" d="M940.0 753.0h0M228.7 560.3h0M824.0 795.9h0M821.4 794.7h0M733.8 943.1h0M494.9 560.0h0M520.0 462.0h0M705.9 421.4h0M712.4 440.1h0M743.1 846.5h0M536.6 1004.0h0M733.2 939.1h0M1058.7 707.2h0M179.0 522.2h0M715.8 456.5h0M488.0 557.6h0M1040.6 657.0h0M338.5 778.1h0M629.5 646.8h0M848.7 299.9h0M962.9 768.2h0M733.9 138.5h0M820.0 220.3h0M716.5 170.5h0M161.6 553.7h0M227.6 512.5h0M501.2 561.3h0M841.2 232.7h0M738.6 127.5h0M438.9 547.8h0M659.7 438.9h0M1065.1 738.0h0M184.4 548.9h0M728.4 935.6h0M487.1 562.6h0M730.8 946.1h0M503.3 584.1h0M213.8 535.7h0M538.5 1012.1h0M614.1 447.1h0M720.6 859.9h0M203.5 522.1h0M736.4 161.4h0M1014.3 637.6h0M230.9 527.9h0M763.1 796.7h0M942.3 746.4h0M1055.5 666.5h0M1033.1 763.3h0M744.6 190.2h0M514.7 575.1h0M511.2 529.7h0M807.5 308.8h0M691.3 163.1h0M977.4 671.6h0M749.0 843.5h0M216.7 506.5h0M1020.2 739.9h0M716.9 846.9h0M684.0 189.0h0M455.6 576.1h0M619.0 408.2h0M965.0 781.5h0M469.2 566.1h0M840.0 218.0h0M205.8 562.1h0M943.3 713.7h0M234.7 575.5h0M643.7 444.9h0"/>
<path stroke="#946cee" d="M488.5 584.1h0M981.0 666.3h0M422.8 442.2h0M425.6 440.0h0M742.6 148.5h0M457.8 577.8h0M801.8 299.7h0M714.5 138.6h0M489.9 593.8h0M691.8 153.9h0M498.9 582.5h0M745.2 194.3h0M695.0 143.1h0M991.6 771.3h0M688.2 124.6h0M621.5 467.3h0M758.1 796.0h0M177.8 552.7h0M691.3 148.4h0M696.4 444.2h0M713.1 150.0h0M713.8 427.2h0M463.7 579.3h0M182.8 541.3h0M653.1 432.5h0M742.3 852.0h0M589.0 476.0h0M1019.8 634.5h0M637.4 430.7h0M761.8 603.1h0M662.4 433.6h0M207.4 517.8h0M608.0 227.3h0M786.2 254.9h0M183.2 526.9h0M520.6 552.2h0M982.8 729.4h0M834.1 280.0h0M707.6 173.1h0M553.8 777.5h0M628.5 464.4h0M988.0 687.9h0M440.3 568.5h0M971.4 698.9h0M706.8 152.7h0M512.7 552.1h0M766.4 204.1h0M485.6 567.2h0M784.8 581.8h0M597.0 451.7h0M156.5 561.8h0M650.1 907.9h0M737.0 178.5h0M849.9 297.7h0M977.9 695.7h0M714.2 181.4h0M695.2 460.5h0M532.4 541.5h0M622.5 409.7h0"/>
<path stroke="#8f66f0" d="M578.1 774.2h0M825.7 781.2h0M445.5 562.6h0M545.0 439.0h0M635.3 881.8h0M645.3 446.2h0M484.6 470.5h0M736.4 943.9h0M694.2 456.2h0M602.6 386.4h0M1063.7 690.2h0M747.7 843.0h0M231.4 577.3h0M1002.5 760.1h0M481.4 553.4h0M1081.2 693.7h0M512.0 539.3h0M725.7 852.9h0M764.5 204.2h0M187.3 524.8h0M638.7 410.7h0M522.5 413.5h0M700.3 461.6h0M1001.7 752.8h0M468.5 582.7h0M478.1 561.6h0M558.6 769.2h0M709.0 450.1h0M843.4 299.4h0M674.8 144.0h0M855.0 283.9h0M635.1 899.5h0M603.0 423.7h0M598.0 461.7h0M985.3 758.1h0M201.9 524.1h0M696.1 461.1h0M638.2 415.7h0M1013.0 678.1h0M766.8 589.9h0M617.4 672.3h0M509.6 540.2h0M778.4 596.5h0M1020.6 766.0h0M462.9 558.8h0M623.6 778.0h0M513.3 554.9h0M511.7 387.7h0M800.1 231.3h0M704.3 444.2h0M698.4 169.9h0M497.0 489.0h0M839.9 290.5h0"/>
<path stroke="#8a60f1" d="M918.2 706.8h0M737.7 182.1h0M1028.1 736.5h0M598.2 452.8h0M413.3 408.0h0M702.4 434.7h0M473.2 459.8h0M522.3 540.7h0M796.0 286.0h0M447.8 576.1h0M602.1 434.6h0M626.8 410.3h0M527.5 546.9h0M972.4 723.6h0M723.8 468.5h0M565.2 212.8h0M794.6 592.1h0M599.5 413.6h0M709.3 449.3h0M429.2 553.2h0M731.0 168.7h0M481.9 562.0h0M634.3 414.1h0M816.8 287.4h0M476.1 581.1h0M458.1 452.1h0M837.1 295.8h0M831.4 238.4h0M854.1 292.1h0M1050.3 729.7h0M811.5 219.3h0M506.2 582.0h0M504.4 577.5h0M641.0 244.0h0M1008.0 755.6h0M509.8 550.5h0M529.4 442.9h0"/>
<path stroke="#845af2" d="M562.2 246.3h0M811.3 222.2h0M527.6 537.5h0M964.8 749.2h0M621.7 409.9h0M615.3 387.0h0M621.5 425.3h0M583.0 455.0h0M488.4 452.8h0M183.5 567.3h0M616.8 418.6h0M771.1 216.7h0M731.8 152.4h0M992.8 706.9h0M453.7 569.9h0M986.2 665.3h0M965.6 668.0h0M944.8 719.3h0M511.6 569.7h0M393.2 427.9h0M599.5 464.6h0M473.1 458.2h0M528.7 532.8h0M590.5 224.5h0M466.2 584.5h0M198.2 528.5h0M488.3 449.8h0M822.8 238.7h0M673.5 252.3h0M565.9 219.8h0M829.6 217.8h0M533.0 239.0h0M548.5 223.3h0M833.8 226.9h0M534.7 449.3h0M558.5 238.9h0M1054.2 639.9h0M416.2 438.7h0M512.6 528.7h0M515.2 535.6h0M768.0 556.4h0M586.0 470.0h0"/>
<path stroke="#7e54f3" d="M525.1 446.0h0M616.0 423.6h0M529.4 544.0h0M544.8 240.8h0M478.8 450.7h0M403.1 388.3h0M528.3 449.6h0M626.4 236.8h0M619.6 402.0h0M601.2 403.3h0M475.7 590.2h0M387.6 399.2h0M631.8 241.4h0M480.5 458.6h0M596.3 231.4h0M253.3 492.4h0M528.3 552.6h0M597.0 387.3h0M619.1 434.1h0M607.4 402.8h0M429.7 414.0h0M829.1 230.6h0M627.1 436.3h0M602.8 388.8h0M432.3 547.5h0M573.5 238.1h0M559.8 214.2h0M550.5 238.1h0M605.3 444.7h0M511.4 445.0h0M573.4 228.0h0M250.8 495.5h0M594.7 444.8h0M714.9 473.9h0M402.7 382.3h0M563.1 209.7h0M417.2 435.7h0M443.7 448.9h0M585.0 236.6h0M556.2 250.9h0M797.7 207.3h0M599.1 389.3h0"/>
<path stroke="#784ef5" d="M599.3 393.4h0M668.3 246.9h0M484.7 450.7h0M256.8 502.5h0M530.3 453.2h0M422.4 434.3h0M502.0 353.3h0M555.8 257.4h0M394.3 422.5h0M701.8 461.4h0M487.6 467.2h0M635.7 411.4h0M607.4 423.4h0M604.5 404.5h0M604.5 379.4h0M613.9 397.9h0M835.2 296.0h0M407.9 437.4h0M585.8 238.3h0M400.8 387.3h0M557.9 247.3h0M402.1 432.6h0M623.3 390.5h0M738.3 459.9h0"/>
<path stroke="#7248f6" d="M606.8 400.7h0M597.3 225.4h0M401.5 408.3h0M603.5 395.2h0M611.9 377.9h0M607.4 387.7h0M710.5 454.4h0M547.0 239.6h0M463.4 454.7h0M604.7 390.8h0M552.7 256.4h0M815.0 275.4h0M821.0 221.4h0M585.0 460.0h0M605.2 382.3h0M430.6 440.3h0M489.2 468.5h0M579.0 247.0h0M594.6 404.6h0M549.5 242.0h0M426.7 445.3h0M578.9 230.2h0M385.6 403.7h0M527.7 459.0h0M726.0 236.0h0M607.6 406.0h0M632.3 419.6h0M605.6 390.4h0"/>
<path stroke="#6b41f7" d="M425.3 421.3h0M792.4 216.5h0M399.5 410.6h0M563.9 232.8h0M603.4 381.3h0M839.4 277.8h0M395.6 426.3h0M552.4 227.5h0M595.6 439.6h0M693.8 462.5h0M551.2 235.4h0M608.4 407.3h0M619.5 442.5h0M396.7 403.5h0M397.7 422.5h0M924.5 709.5h0M591.6 429.5h0M480.3 458.5h0M605.0 414.1h0"/>
<path stroke="#633bf8" d="M571.0 525.0h0M402.4 428.1h0M512.4 536.3h0M629.9 428.9h0M423.3 443.3h0M606.7 409.3h0M483.2 455.5h0M510.6 557.2h0M478.0 452.4h0M406.9 425.9h0M466.0 454.7h0M611.1 404.6h0M608.8 399.5h0M396.8 394.8h0M472.0 450.8h0M551.2 242.5h0M595.9 404.7h0M418.4 441.4h0"/>
<path stroke="#5b34f9" d="M778.0 228.0h0M763.0 198.1h0M612.4 393.1h0M479.0 430.0h0M392.1 424.1h0M526.2 458.2h0M614.4 405.7h0M781.4 252.1h0M489.0 523.0h0M404.1 383.8h0M711.8 177.1h0M414.6 438.1h0"/>
<path stroke="#522dfb" d="M577.0 458.0h0M487.4 538.4h0M484.0 531.4h0M582.3 220.0h0M525.9 554.4h0M457.9 410.9h0"/>
<path stroke="#4725fc" d="M838.6 221.5h0M453.8 410.3h0"/>
<path stroke="#3a1cfd" d="M878.3 363.5h0"/>
<path stroke="#d3d3d3" d="M619.6 699.8h0M450.7 581.9h0M1059.3 636.3h0M381.6 802.2h0M382.5 780.3h0M336.6 781.6h0M1010.9 641.5h0M1031.7 665.1h0M349.3 724.3h0M698.7 444.7h0M333.8 819.6h0M1080.5 708.4h0M350.7 743.4h0M725.9 454.5h0M1003.0 700.6h0M976.1 754.4h0M690.2 431.4h0M383.4 855.7h0M634.0 466.0h0M597.0 418.8h0M476.5 847.5h0M794.6 593.2h0M1000.5 696.6h0M405.7 815.1h0M652.8 912.9h0M295.2 846.0h0M204.5 556.9h0M315.1 851.7h0M322.6 757.9h0M317.7 782.9h0M409.6 768.4h0M361.5 764.7h0M330.0 859.4h0M1030.6 658.2h0M358.3 793.8h0M813.1 274.4h0M998.7 755.5h0M908.6 707.4h0M340.8 751.4h0M844.3 287.8h0M359.2 770.2h0M176.4 526.5h0M946.1 763.9h0M599.0 421.8h0M489.8 857.6h0M321.2 768.7h0M571.2 766.1h0M391.2 732.8h0M388.5 782.6h0M691.8 456.6h0M409.7 774.4h0M809.0 297.5h0M633.7 430.7h0M302.0 832.6h0M756.1 848.4h0M713.8 131.5h0M409.8 832.7h0M989.4 692.6h0M726.7 169.1h0M390.8 800.9h0M643.6 915.2h0M326.3 799.8h0M332.6 783.7h0M1048.0 740.1h0M731.2 122.1h0M393.6 820.1h0M592.0 782.0h0M1027.7 677.0h0M326.3 846.9h0M309.4 847.5h0M624.0 855.7h0M973.4 690.6h0M345.7 836.5h0M637.5 900.6h0M715.2 126.6h0M784.2 586.9h0M1037.2 706.2h0M773.3 602.9h0M836.2 286.6h0M736.1 451.5h0M389.7 791.0h0M973.2 692.3h0M850.9 281.8h0M741.8 137.8h0M712.7 464.3h0M696.6 420.8h0M323.3 768.0h0M819.0 291.0h0M392.3 744.1h0M984.5 726.6h0M1055.7 694.7h0M325.9 740.9h0M328.2 742.4h0M998.9 702.7h0M300.9 817.6h0M671.3 455.3h0M775.1 588.3h0M349.1 792.8h0M316.4 850.3h0"/>
<path stroke="#d0cdd5" d="M335.0 811.2h0"/>
<path stroke="#cec7d7" d="M320.9 764.1h0M297.1 839.1h0M323.7 800.1h0M681.8 124.1h0M1021.1 718.6h0"/>
<path stroke="#cbc2d8" d="M343.8 743.9h0M943.2 770.3h0M389.5 792.7h0M388.7 843.5h0M327.6 752.1h0"/>
<path stroke="#c8bcda" d="M700.2 113.9h0M926.4 543.7h0M370.8 808.3h0M376.3 818.9h0M359.3 823.8h0M394.8 801.9h0M391.8 841.8h0M310.3 851.0h0M1042.2 761.8h0M339.0 727.2h0M428.2 830.0h0M408.9 845.6h0"/>
<path stroke="#c5b6dc" d="M335.8 808.4h0M966.7 703.8h0M310.4 835.6h0M1020.8 773.9h0M724.8 464.3h0M1000.9 702.1h0M324.3 799.8h0M1040.2 654.3h0M334.9 865.3h0M346.0 830.9h0M236.5 536.7h0M630.8 662.7h0M339.7 828.4h0M352.2 857.9h0M388.7 855.7h0M714.8 175.7h0M403.9 810.5h0M338.1 756.4h0M384.4 816.1h0M974.7 693.7h0M342.7 856.8h0M365.5 842.9h0M988.4 767.6h0M314.6 783.0h0M354.5 739.4h0"/>
<path stroke="#c2b0dd" d="M320.4 838.5h0M365.9 845.8h0M381.2 848.8h0M356.3 773.8h0M379.6 803.3h0M312.2 796.7h0M371.2 776.5h0M681.5 167.7h0M362.2 745.1h0M1079.5 684.1h0M362.7 743.2h0M336.7 823.2h0M332.9 777.3h0M359.7 835.2h0M1071.8 668.1h0M388.4 805.0h0M609.4 700.5h0M967.0 682.0h0M1080.7 676.4h0M944.1 710.5h0M481.5 845.2h0M584.0 778.0h0M306.6 824.0h0M227.9 552.4h0M710.9 118.6h0M986.9 681.6h0M353.7 774.1h0M419.9 838.4h0M319.6 793.1h0M303.9 849.0h0M989.4 746.7h0"/>
<path stroke="#bfabdf" d="M1021.5 773.1h0M1070.8 688.2h0M672.8 436.3h0M329.4 758.5h0M355.6 782.9h0M308.5 823.8h0M427.5 813.6h0M332.6 831.3h0M1002.1 768.6h0M967.0 700.7h0M710.8 132.3h0M947.6 781.2h0M819.3 316.5h0M379.8 767.1h0M358.6 756.4h0M639.5 921.2h0M405.4 803.4h0M380.7 820.8h0M1001.4 745.0h0M308.2 824.4h0M809.8 316.3h0M295.4 840.6h0M323.2 848.4h0M404.7 766.3h0M320.7 858.5h0M355.6 743.1h0M1029.8 726.3h0M778.1 585.9h0M1070.2 642.8h0M343.8 791.3h0M343.5 845.0h0M809.4 319.9h0M384.1 843.6h0M980.1 769.2h0M619.5 662.2h0"/>
<path stroke="#bba5e0" d="M1002.1 665.5h0M390.4 795.7h0M366.7 826.9h0M535.9 1012.0h0M940.7 715.9h0M221.7 500.1h0M305.0 849.9h0M360.4 824.2h0M980.8 731.4h0M975.6 697.6h0M321.4 800.6h0M991.3 755.2h0M350.8 720.7h0M349.2 850.5h0M962.0 737.1h0M358.4 850.2h0M616.5 672.2h0M737.6 124.3h0M397.2 843.9h0M373.3 786.2h0M1042.5 698.2h0M306.2 830.2h0M310.2 834.3h0M406.8 832.1h0M371.0 830.5h0M1005.6 669.1h0M820.1 314.4h0M572.0 503.0h0M740.9 176.9h0M373.2 833.5h0M716.3 163.9h0M381.5 782.1h0M385.1 790.7h0M418.1 835.3h0M230.1 529.3h0M953.8 720.2h0M965.2 785.3h0M411.8 841.7h0M331.3 843.0h0M330.9 822.8h0M334.4 765.5h0M1005.8 721.8h0M718.9 114.7h0M372.8 725.4h0M367.5 747.1h0M330.7 793.1h0M386.8 824.2h0"/>
<path stroke="#b89fe2" d="M984.3 734.7h0M728.2 153.7h0M1022.4 725.7h0M652.4 657.0h0M331.6 832.5h0M314.6 806.7h0M646.0 907.6h0M369.4 778.0h0M679.9 453.4h0M702.8 444.0h0M707.8 116.5h0M373.5 786.2h0M1012.1 754.8h0M1004.5 734.0h0M349.1 838.6h0M538.7 995.8h0M431.7 823.8h0M1056.2 711.5h0M331.2 860.3h0M1023.4 650.6h0M327.2 819.7h0M720.1 582.3h0M951.4 762.1h0M814.4 274.4h0M963.8 700.1h0M343.0 835.0h0M299.2 843.5h0M536.3 1008.4h0M995.0 708.7h0M313.0 822.7h0M1002.9 696.9h0M229.4 563.8h0M733.1 188.4h0M631.1 684.5h0M222.1 553.2h0M1040.5 675.2h0M364.4 782.2h0M1074.0 686.1h0M609.5 680.2h0M367.1 828.3h0M743.7 199.8h0M441.2 831.1h0M353.8 756.9h0M307.0 801.4h0M615.2 668.6h0M942.5 763.5h0M1048.3 745.4h0M372.4 784.3h0M369.2 843.4h0M661.3 666.7h0M1056.5 649.6h0M1037.6 750.9h0M1017.3 639.1h0"/>
<path stroke="#b599e3" d="M347.0 731.5h0M803.1 300.8h0M690.8 466.8h0M347.9 768.2h0M371.9 787.6h0M472.1 838.9h0M353.8 778.1h0M352.8 772.5h0M307.2 824.2h0M945.5 711.8h0M964.8 700.4h0M1075.2 653.8h0M330.3 753.1h0M329.1 844.0h0M487.7 572.4h0M692.6 144.0h0M363.2 830.8h0M455.5 575.8h0M352.0 806.1h0M717.1 139.6h0M337.5 810.4h0M361.4 778.1h0M396.6 818.9h0M389.5 843.5h0M666.8 454.1h0M636.1 888.4h0M441.4 830.3h0M215.2 502.4h0M569.7 781.1h0M373.8 791.6h0M349.5 765.2h0M543.4 994.9h0M229.7 516.2h0M572.1 775.5h0M330.5 747.2h0M1057.0 731.0h0M698.6 166.5h0M688.1 169.1h0M519.7 871.6h0M582.0 757.6h0M223.0 540.2h0M354.9 732.3h0M706.4 149.6h0M958.1 704.3h0M217.9 545.4h0M335.9 757.3h0M229.5 532.8h0M315.8 851.1h0M536.7 997.7h0M216.6 512.0h0M760.3 795.5h0M1004.3 654.0h0M332.1 782.2h0M688.2 453.2h0M985.4 699.0h0M724.2 853.2h0M391.3 845.2h0M746.0 141.5h0M955.5 775.0h0M623.4 685.9h0M385.2 793.4h0"/>
<path stroke="#b194e5" d="M986.0 678.1h0M538.6 1003.9h0M392.1 847.9h0M714.7 131.5h0M1021.4 727.5h0M963.6 763.4h0M725.5 143.3h0M303.1 807.1h0M212.0 566.3h0M711.8 855.7h0M736.3 182.6h0M340.0 764.5h0M372.1 830.1h0M326.5 808.6h0M614.1 681.1h0M969.0 695.0h0M749.8 852.2h0M936.4 748.1h0M1073.7 657.2h0M306.5 818.7h0M727.5 951.2h0M337.7 819.2h0M993.9 709.6h0M530.6 992.9h0M964.7 780.5h0M402.8 819.6h0M438.9 838.1h0M699.1 118.0h0M774.1 601.9h0M799.2 585.5h0M486.5 556.7h0M802.5 301.6h0M241.2 552.6h0M733.9 588.0h0M725.4 851.7h0M566.4 771.0h0M213.1 543.8h0M726.0 163.2h0M604.3 670.8h0M988.5 718.5h0M995.1 734.8h0M699.8 168.7h0M392.9 842.6h0M445.2 827.3h0M1078.9 698.6h0M992.5 697.7h0M832.1 282.9h0M978.9 751.8h0M1063.5 641.8h0M933.5 784.6h0M329.5 807.1h0M989.6 694.2h0M438.4 821.4h0M750.4 146.3h0M468.6 851.4h0M682.4 444.3h0M971.4 743.2h0M727.7 940.1h0M454.2 587.7h0M174.2 554.1h0M818.5 313.6h0M220.9 503.4h0M964.1 677.3h0M707.7 171.1h0M659.0 915.0h0M731.8 146.1h0M317.7 853.1h0M555.3 780.6h0M1003.9 704.1h0M1050.0 760.0h0M993.9 757.1h0M1063.0 640.3h0M1008.9 726.3h0M388.4 821.4h0M1006.5 664.7h0M568.0 497.0h0M331.4 820.4h0M1042.9 739.9h0M647.1 703.0h0M1050.8 658.5h0M228.4 552.6h0"/>
<path stroke="#ad8ee6" d="M1032.3 674.3h0M485.4 850.7h0M475.4 849.2h0M482.1 859.1h0M824.3 780.6h0M770.4 558.2h0M478.8 852.8h0M743.0 192.7h0M1010.3 741.4h0M990.2 668.3h0M1010.4 728.7h0M628.0 684.7h0M685.9 149.4h0M802.5 305.5h0M1022.3 718.9h0M795.8 587.6h0M692.4 449.4h0M339.7 724.3h0M622.7 691.2h0M972.4 744.4h0M1034.3 659.7h0M977.3 722.8h0M237.2 568.6h0M234.5 574.6h0M964.2 691.3h0M1045.2 632.5h0M729.8 593.1h0M682.0 159.1h0M939.3 743.2h0M369.3 768.9h0M432.8 564.9h0M1041.7 729.0h0M1029.5 770.4h0M492.8 855.0h0M947.0 716.2h0M734.4 130.1h0M674.9 139.8h0M740.6 185.2h0M717.3 126.3h0M201.2 532.4h0M689.0 164.7h0M738.5 189.6h0M230.2 563.7h0M689.8 436.4h0M984.5 714.8h0M952.0 763.0h0M1037.9 660.7h0M511.0 881.6h0M204.0 525.4h0M656.0 699.3h0M363.7 761.4h0M1015.0 651.6h0M644.2 896.9h0M1054.4 726.5h0M743.4 853.5h0M750.4 191.1h0M353.5 761.4h0M934.3 715.9h0M990.4 707.1h0M719.8 149.5h0M815.8 316.7h0M713.9 167.8h0M314.6 831.3h0M330.0 778.5h0M1035.6 643.3h0M636.4 411.9h0M368.1 776.0h0M839.2 284.2h0M202.0 539.5h0M181.7 522.7h0M690.6 435.2h0M1015.9 672.7h0M565.1 775.1h0M559.5 778.7h0M226.8 518.1h0M720.4 833.2h0M1047.6 668.1h0M740.2 138.9h0M735.6 153.1h0M824.4 312.2h0M699.9 443.5h0M688.5 157.5h0M698.4 127.5h0M357.7 761.8h0M348.0 861.3h0M633.6 702.5h0M757.0 161.0h0M569.9 777.8h0M526.0 1012.7h0M783.3 582.0h0M201.8 504.8h0M710.7 119.3h0M733.7 854.9h0M695.3 158.0h0"/>
<path stroke="#a988e8" d="M1023.4 713.0h0M542.4 448.0h0M1004.1 774.6h0M912.5 713.4h0M719.0 128.3h0M719.7 852.4h0M723.5 846.5h0M431.0 557.7h0M198.7 500.8h0M437.2 816.1h0M1021.2 764.1h0M700.3 438.1h0M381.7 764.7h0M231.5 563.2h0M577.1 775.0h0M681.1 125.8h0M962.5 759.0h0M782.6 602.1h0M938.6 763.9h0M1058.0 744.4h0M963.4 705.5h0M721.9 472.6h0M164.1 563.4h0M568.3 781.4h0M955.4 679.1h0M1074.3 686.3h0M709.3 429.0h0M1026.4 670.8h0M1010.5 687.0h0M1047.9 713.7h0M987.8 757.1h0M1014.1 740.6h0M1037.2 724.3h0M946.3 756.5h0M453.9 590.5h0M563.2 776.1h0M735.5 120.6h0M1023.8 769.9h0M465.9 591.2h0M636.2 451.6h0M1007.0 773.9h0M734.4 942.7h0M613.8 454.9h0M535.1 1016.0h0M969.5 772.1h0M1054.5 751.9h0M680.4 156.2h0M328.8 789.1h0M244.6 573.7h0M710.9 931.3h0M555.0 781.0h0M206.3 501.1h0M530.9 972.0h0M475.6 568.9h0M448.4 824.9h0M692.4 719.8h0M208.4 523.3h0M227.9 565.1h0M542.1 1008.8h0M681.5 174.2h0M204.0 514.7h0M762.3 214.9h0M807.9 323.5h0M763.7 568.0h0M232.6 520.9h0M647.1 918.7h0M717.6 169.5h0M728.8 134.4h0M999.2 736.1h0M694.0 162.4h0M660.1 705.9h0M810.8 308.2h0M241.0 567.4h0M977.3 723.7h0M208.5 521.1h0M841.5 281.4h0M962.7 759.1h0M797.1 256.2h0M701.8 175.8h0M324.1 755.5h0M701.8 164.9h0M186.3 533.6h0M628.7 863.7h0M622.1 455.0h0M225.6 533.1h0M392.8 803.6h0M982.4 733.5h0M961.3 734.3h0M765.2 198.2h0M1002.8 722.8h0M680.8 164.1h0M970.4 756.0h0"/>
<path stroke="#a583e9" d="M774.9 592.7h0M792.7 590.8h0M737.8 132.6h0M1018.6 738.4h0M216.4 547.9h0M440.8 834.0h0M425.3 550.3h0M720.1 182.7h0M540.6 994.9h0M463.4 840.2h0M792.4 595.1h0M961.9 783.0h0M179.4 512.7h0M179.1 512.0h0M1029.5 685.3h0M198.9 529.2h0M683.1 142.5h0M622.7 412.7h0M378.2 800.5h0M482.0 861.9h0M474.2 573.4h0M757.1 567.1h0M940.3 716.5h0M213.8 507.4h0M684.2 706.7h0M729.2 118.5h0M942.9 767.1h0M1025.5 684.9h0M760.7 200.7h0M431.9 566.2h0M171.7 531.1h0M956.4 710.4h0M226.2 530.3h0M427.5 818.9h0M226.4 541.0h0M766.9 227.0h0M830.9 284.0h0M190.3 567.2h0M700.2 435.9h0M220.8 504.9h0M737.4 189.8h0M731.4 472.0h0M820.0 291.2h0M850.6 291.2h0M688.0 242.6h0M235.2 546.4h0M208.2 537.1h0M669.7 984.3h0M993.1 673.7h0M481.4 583.8h0M457.0 593.5h0M215.3 509.1h0M586.0 475.0h0M383.9 847.7h0M961.5 724.5h0M172.2 550.9h0M223.5 546.0h0M1048.6 635.8h0M696.0 177.1h0M703.4 152.7h0M536.6 1015.7h0M939.1 741.0h0M995.2 670.7h0M840.0 280.7h0M188.2 528.5h0M965.6 774.1h0M625.8 462.9h0M726.9 464.7h0M208.2 559.9h0M167.6 561.0h0M218.3 528.5h0M194.3 515.5h0M713.9 469.0h0M935.3 756.8h0M486.6 585.1h0M751.0 199.3h0M721.0 170.6h0M831.2 216.2h0M810.8 299.4h0M475.5 598.3h0M1083.0 705.4h0M687.0 205.0h0M151.3 553.4h0M773.2 228.0h0M570.0 763.3h0M366.8 783.9h0M1022.4 710.3h0M186.7 521.8h0M1001.9 684.9h0"/>
<path stroke="#a17dea" d="M823.2 293.7h0M216.9 518.2h0M927.3 712.8h0M621.4 855.0h0M770.6 219.8h0M560.9 782.2h0M186.9 519.5h0M239.7 566.0h0M442.3 588.6h0M677.6 439.2h0M439.2 574.5h0M156.9 556.4h0M691.8 179.4h0M638.0 891.6h0M194.5 561.5h0M951.7 768.4h0M205.7 558.4h0M990.3 685.8h0M790.0 591.2h0M761.9 798.0h0M354.4 815.1h0M993.4 756.9h0M173.1 564.1h0M702.5 168.0h0M724.0 140.3h0M242.3 551.3h0M643.0 702.7h0M535.6 429.6h0M712.7 935.3h0M779.5 601.6h0M708.6 142.7h0M1005.1 652.2h0M214.4 530.2h0M547.3 987.1h0M494.0 504.5h0M996.7 701.4h0M1058.5 684.5h0M666.1 984.6h0M470.0 596.8h0M635.7 412.9h0M625.0 427.3h0M529.4 971.5h0M771.1 213.6h0M741.8 136.7h0M1044.1 720.1h0M772.1 210.8h0M771.2 593.5h0M995.0 755.6h0M445.9 581.9h0M1063.5 690.9h0M636.2 892.9h0M658.9 439.8h0M1062.9 649.2h0M1038.6 746.4h0M1043.2 630.0h0M809.2 309.5h0M619.7 845.9h0M181.7 524.4h0M742.0 718.6h0M992.1 724.4h0M479.2 582.9h0M720.7 178.4h0M728.4 843.6h0M719.8 840.3h0M676.7 430.6h0M758.2 196.5h0M709.6 854.1h0M996.6 770.2h0M642.7 659.5h0M1072.3 704.1h0M783.0 288.0h0M738.5 137.4h0M202.4 545.7h0M705.6 140.8h0M743.9 855.9h0M678.4 700.9h0M716.7 465.3h0M987.4 696.3h0M444.3 585.1h0M1042.0 727.5h0M844.4 289.0h0M159.8 542.5h0M944.5 758.7h0M1047.9 732.2h0M995.5 721.6h0M707.4 121.5h0M741.7 157.7h0M970.8 774.7h0M526.1 555.4h0M603.1 680.9h0M728.1 943.1h0M984.5 754.1h0"/>
<path stroke="#9d77ec" d="M433.4 545.1h0M794.2 581.8h0M524.0 555.3h0M178.1 541.5h0M1040.9 699.9h0M167.6 531.4h0M696.6 136.9h0M760.5 794.3h0M210.3 538.6h0M1021.7 733.2h0M729.4 122.2h0M728.5 942.7h0M707.6 145.7h0M748.2 847.9h0M764.0 542.8h0M1029.2 758.8h0M456.5 591.2h0M754.0 150.0h0M694.6 427.8h0M1037.1 735.0h0M741.4 854.6h0M725.1 458.5h0M1034.2 674.4h0M696.8 445.7h0M185.7 564.7h0M683.8 430.3h0M462.8 596.1h0M189.3 505.7h0M221.2 538.7h0M499.0 585.9h0M711.5 468.7h0M776.3 560.3h0M709.6 176.6h0M607.1 460.7h0M172.2 553.0h0M465.9 566.6h0M1041.0 646.8h0M950.0 695.8h0M641.4 416.1h0M754.7 550.0h0M847.9 287.7h0M198.6 559.6h0M456.1 585.1h0M689.3 139.6h0M229.4 561.1h0M967.6 741.2h0M709.3 464.4h0M720.8 584.6h0M576.0 770.3h0M631.1 698.2h0M1040.5 695.4h0M561.5 782.5h0M544.0 998.2h0M642.0 693.2h0M966.5 783.8h0M811.3 310.5h0M741.2 458.1h0M743.0 135.4h0M617.2 437.9h0M1057.1 719.6h0M515.3 535.7h0M468.9 596.0h0M810.4 307.2h0M168.1 520.8h0M1019.9 737.8h0M640.2 690.5h0M174.3 534.3h0M653.0 430.3h0M465.1 847.6h0M960.1 728.6h0M712.4 176.6h0M534.4 1006.7h0M810.5 276.3h0M704.9 120.4h0M1010.6 776.1h0M695.7 126.9h0M984.0 757.0h0M506.2 581.2h0M498.8 586.5h0M239.4 564.1h0M1040.0 758.1h0M1073.7 675.9h0M708.1 122.8h0M173.8 554.1h0M512.0 452.0h0M676.8 700.5h0M966.9 780.4h0M771.3 584.2h0M919.0 729.1h0M1002.0 665.9h0M174.8 517.6h0M675.8 461.6h0M822.0 233.1h0M612.4 463.3h0M192.2 520.8h0M528.9 1017.0h0"/>
<path stroke="#9871ed" d="M947.8 725.0h0M995.0 732.5h0M786.1 307.5h0M769.4 603.6h0M511.3 556.2h0M605.2 446.7h0M810.1 267.9h0M762.5 570.3h0M771.2 595.4h0M633.7 419.3h0M1046.7 666.4h0M158.8 541.8h0M439.9 587.7h0M723.4 166.6h0M191.2 536.3h0M622.5 434.4h0M686.3 719.5h0M996.7 767.3h0M629.6 681.5h0M848.8 293.9h0M613.7 420.3h0M739.2 152.2h0M990.0 676.7h0M995.0 637.0h0M725.7 128.0h0M149.0 546.5h0M1065.4 716.0h0M842.6 284.7h0M773.9 219.9h0M437.3 539.4h0M738.4 722.5h0M796.2 303.5h0M679.9 694.5h0M838.7 292.4h0M502.5 546.8h0M838.7 274.0h0M824.1 224.3h0M480.0 584.0h0M739.8 188.3h0M672.4 123.8h0M937.4 766.4h0M188.7 551.6h0M706.3 134.2h0M178.2 516.0h0M554.6 225.7h0M820.0 270.4h0M662.1 455.3h0M843.4 291.3h0M216.8 502.3h0M939.6 750.9h0M605.8 428.0h0M176.8 561.6h0M157.0 538.2h0M192.1 558.0h0M168.9 522.3h0M702.5 454.2h0M849.7 291.8h0M957.7 745.7h0M731.7 472.8h0M854.0 284.8h0"/>
<path stroke="#946cee" d="M690.4 441.2h0M515.1 543.6h0M762.0 544.8h0M715.0 463.7h0M699.1 179.1h0M471.9 453.4h0M545.4 244.2h0M763.6 796.3h0M714.6 170.2h0M512.8 561.4h0M585.5 241.6h0M502.2 544.2h0M1039.0 762.4h0M834.6 280.1h0M1035.3 650.1h0M811.1 299.6h0M1026.3 724.2h0M1002.9 657.7h0M689.4 146.5h0M700.4 440.5h0M743.3 181.5h0M631.5 248.2h0M696.4 140.0h0M431.9 576.4h0M614.2 426.8h0M772.0 560.8h0M483.0 564.9h0M590.9 453.0h0M656.8 465.7h0M718.0 120.1h0M935.8 732.7h0M963.6 761.5h0M1074.9 701.9h0M168.5 533.4h0M716.1 427.3h0M730.7 941.8h0M548.1 253.2h0M643.7 428.6h0M804.4 259.1h0M637.3 440.6h0M833.5 289.4h0M618.1 412.2h0M461.6 591.2h0M1006.1 703.3h0M618.0 424.1h0M738.1 856.6h0M763.5 554.1h0M411.0 421.3h0M597.8 431.2h0M761.0 601.2h0M942.0 726.6h0M613.0 418.2h0M840.7 292.9h0M729.0 440.0h0M827.2 794.8h0M463.0 582.1h0M160.3 556.7h0M522.0 457.1h0"/>
<path stroke="#8f66f0" d="M708.2 852.2h0M455.6 585.2h0M770.0 210.3h0M641.4 674.5h0M773.4 221.1h0M1004.9 749.7h0M717.0 936.5h0M508.1 552.0h0M745.1 139.4h0M746.8 144.0h0M651.0 245.0h0M701.0 244.0h0M617.7 455.6h0M948.0 773.9h0M616.4 435.1h0M498.4 349.0h0M1034.1 746.7h0M989.4 644.3h0M683.4 150.3h0M985.2 772.0h0M949.4 727.2h0M203.5 546.6h0M687.9 427.5h0M486.4 588.6h0M693.2 459.9h0M1007.3 771.6h0M694.1 453.8h0M721.6 174.6h0M489.8 353.5h0M1018.9 646.5h0M843.0 274.5h0M790.5 208.5h0M523.6 452.7h0M918.0 719.3h0M546.4 247.4h0M507.9 382.5h0M448.1 443.3h0M531.0 457.0h0M726.6 146.7h0M580.3 239.1h0M469.9 583.1h0M832.7 296.8h0M750.0 176.0h0M465.7 567.1h0"/>
<path stroke="#8a60f1" d="M495.6 587.1h0M428.3 543.2h0M606.6 419.7h0M609.7 440.8h0M528.8 454.2h0M512.2 388.2h0M608.0 411.1h0M464.1 561.0h0M713.0 439.2h0M565.0 521.6h0M1017.7 750.4h0M846.8 288.4h0M389.3 401.9h0M548.1 233.8h0M536.7 993.6h0M478.7 456.7h0M393.2 424.4h0M561.0 232.4h0M401.9 401.2h0M622.7 408.1h0M617.7 424.1h0M517.9 528.4h0M630.6 405.9h0M838.0 298.4h0M551.8 213.7h0M531.9 545.9h0M1026.4 711.9h0M690.9 175.2h0M513.8 390.3h0M522.4 449.8h0M569.8 228.9h0M693.0 130.4h0M523.2 547.9h0M765.2 202.5h0M595.8 434.1h0M525.7 526.4h0M627.7 445.9h0M521.1 556.5h0M439.1 443.7h0M690.0 208.0h0M557.3 222.8h0M444.3 440.4h0M586.9 228.1h0M508.3 557.6h0M602.0 434.2h0M842.0 280.6h0M1021.1 694.2h0M498.0 484.0h0"/>
<path stroke="#845af2" d="M572.8 227.5h0M1067.5 733.2h0M620.3 443.7h0M444.5 569.8h0M595.1 434.5h0M553.5 226.6h0M518.8 556.5h0M612.2 390.5h0M603.4 428.5h0M421.7 449.3h0M706.6 428.7h0M727.2 460.1h0M609.1 405.4h0M757.7 547.9h0M521.9 448.5h0M499.8 576.8h0M556.9 315.1h0M457.5 594.2h0M843.2 284.3h0M799.1 207.4h0M566.1 214.0h0M837.2 300.4h0M744.4 194.3h0M809.5 221.4h0M804.1 258.5h0M629.0 244.6h0M794.3 257.5h0M502.5 572.1h0M932.1 737.1h0M556.8 234.2h0M434.7 442.7h0M775.2 249.8h0M695.6 444.0h0M515.9 532.6h0M583.4 225.6h0M834.0 238.6h0M618.3 383.4h0M775.1 258.3h0M477.2 461.6h0M449.1 570.3h0M659.7 466.1h0M485.6 467.9h0M420.0 406.7h0M685.7 247.6h0M602.3 227.8h0M431.4 536.7h0M742.8 187.3h0M528.1 443.4h0M436.4 571.1h0M778.9 251.2h0M733.1 468.0h0M809.4 219.4h0M563.1 219.7h0M443.1 578.7h0M631.0 238.1h0"/>
<path stroke="#7e54f3" d="M391.7 393.6h0M721.3 122.3h0M492.0 465.9h0M390.5 416.5h0M517.1 572.4h0M618.4 385.4h0M505.7 555.8h0M531.8 452.3h0M590.1 221.4h0M612.4 386.7h0M485.2 456.4h0M563.3 214.0h0M253.0 504.2h0M797.5 581.3h0M606.2 396.0h0M464.2 449.5h0M677.1 427.2h0M396.3 418.1h0M518.6 452.8h0M810.9 786.0h0M714.5 469.3h0M601.6 404.3h0M551.4 216.1h0M751.7 557.1h0M566.4 233.1h0M623.1 402.4h0M633.3 241.3h0M1004.5 705.6h0M422.6 441.8h0M593.8 455.7h0M176.2 523.2h0M555.5 214.3h0M431.7 397.3h0M606.2 412.6h0M617.8 425.3h0M620.4 417.9h0M575.9 228.0h0M605.1 380.6h0M605.8 411.0h0M570.5 221.9h0M605.3 415.5h0M556.0 249.7h0M614.9 399.6h0M449.8 453.5h0"/>
<path stroke="#784ef5" d="M617.2 410.5h0M520.3 546.5h0M604.9 383.4h0M543.3 226.6h0M571.8 222.2h0M706.0 171.2h0M397.0 406.8h0M414.3 430.7h0M590.0 472.0h0M523.8 451.6h0M619.1 386.2h0M406.5 434.6h0M414.0 404.4h0M558.0 248.9h0M523.6 540.4h0M550.0 250.3h0M679.5 249.9h0M794.6 225.0h0M512.3 577.8h0M459.6 445.1h0M521.1 449.1h0M612.7 438.2h0M396.9 395.0h0M418.3 390.0h0M520.6 568.6h0M603.9 442.4h0M415.5 433.4h0M649.8 452.0h0M607.2 413.8h0M411.5 394.6h0M544.9 227.8h0M592.0 475.0h0M577.0 526.0h0M627.3 416.8h0"/>
<path stroke="#7248f6" d="M609.8 411.4h0M659.6 458.0h0M597.5 407.8h0M599.8 395.1h0M518.3 554.9h0M393.5 413.9h0M559.6 211.4h0M612.4 390.3h0M636.1 432.8h0M714.5 122.0h0M435.3 397.7h0M849.4 295.3h0M256.9 501.7h0M833.3 222.9h0M592.0 226.7h0M592.3 235.1h0M404.4 419.6h0M594.0 234.2h0M565.5 224.1h0M567.1 218.5h0M614.8 396.9h0M475.1 449.8h0M387.7 399.4h0M395.0 389.5h0M677.0 429.9h0M758.0 560.2h0M608.5 428.9h0M557.0 238.6h0M736.4 535.0h0M428.3 401.3h0M399.4 393.9h0M430.9 444.3h0M411.7 390.7h0"/>
<path stroke="#6b41f7" d="M397.6 391.3h0M612.8 415.7h0M563.6 225.6h0M411.7 415.3h0M750.3 533.5h0M624.8 421.3h0M411.6 442.3h0M492.0 453.7h0M600.8 230.0h0M825.4 225.1h0M398.3 382.5h0M478.3 457.9h0M638.0 243.0h0M415.0 434.7h0M607.1 385.6h0M577.6 232.4h0M493.8 458.4h0M559.0 229.2h0M601.6 391.8h0M209.5 532.0h0M240.0 514.0h0M416.2 428.3h0M419.7 443.4h0"/>
<path stroke="#633bf8" d="M565.4 237.6h0M386.6 411.4h0M392.0 418.2h0M451.9 446.2h0M606.5 390.7h0M684.0 234.0h0M821.4 229.4h0M523.6 449.2h0M564.7 227.5h0M603.1 229.9h0M490.2 466.3h0M615.7 234.0h0M426.2 442.8h0M406.6 429.0h0M606.3 383.3h0"/>
<path stroke="#5b34f9" d="M759.0 273.0h0M522.8 452.4h0M525.9 528.7h0M594.3 417.5h0M618.1 408.4h0M392.2 396.9h0M423.1 439.3h0M827.3 237.0h0M599.8 421.3h0M559.9 236.1h0"/>
<path stroke="#522dfb" d="M696.1 438.1h0M487.4 469.8h0M421.4 434.6h0M757.0 271.0h0M594.0 542.0h0M263.0 488.0h0M761.0 277.0h0M173.5 565.7h0M548.7 322.5h0"/>
<path stroke="#4725fc" d="M488.0 439.0h0M456.2 416.4h0M554.3 210.6h0M476.2 465.0h0"/>
<path stroke="#3a1cfd" d="M460.9 450.1h0M405.5 409.9h0"/>
</g>
<path d="M95.45 51V1121" stroke="#000" stroke-width="3" fill="none"/>
<path d="M93.95 1119.6H1138" stroke="#000" stroke-width="3" fill="none"/>
<g stroke="#000" stroke-width="3" fill="none"><path d="M90 277.4H95M90 571.4H95M90 865.4H95"/><path d="M143 1119V1124.9M312 1119V1124.9M481 1119V1124.9M650 1119V1124.9M819 1119V1124.9M988 1119V1124.9"/></g>
<text transform="translate(616.3,37) scale(1,1.01)" text-anchor="middle" font-size="34.4" font-weight="bold">H2afz</text>
<g class="t">
<path transform="translate(54.61,287.80) scale(0.03030,-0.03030)" d="M259 0V505H102V568C190 578 240 600 270 650C280 668 288 690 292 709H347V0Z"/><text transform="translate(71.45,287.80) scale(1,1.045)" font-size="30.30">0</text>
<text transform="translate(71.45,581.80) scale(1,1.045)" font-size="30.30">0</text>
<text transform="translate(44.52,875.80) scale(1,1.045)" font-size="30.30">-</text><path transform="translate(54.61,875.80) scale(0.03030,-0.03030)" d="M259 0V505H102V568C190 578 240 600 270 650C280 668 288 690 292 709H347V0Z"/><text transform="translate(71.45,875.80) scale(1,1.045)" font-size="30.30">0</text>
<text transform="translate(120.61,1148.00) scale(1,1.045)" font-size="30.30">-</text><path transform="translate(130.70,1148.00) scale(0.03030,-0.03030)" d="M259 0V505H102V568C190 578 240 600 270 650C280 668 288 690 292 709H347V0Z"/><text transform="translate(147.54,1148.00) scale(1,1.045)" font-size="30.30">5</text>
<text transform="translate(289.61,1148.00) scale(1,1.045)" font-size="30.30">-</text><path transform="translate(299.70,1148.00) scale(0.03030,-0.03030)" d="M259 0V505H102V568C190 578 240 600 270 650C280 668 288 690 292 709H347V0Z"/><text transform="translate(316.54,1148.00) scale(1,1.045)" font-size="30.30">0</text>
<text transform="translate(467.03,1148.00) scale(1,1.045)" font-size="30.30">-5</text>
<text transform="translate(641.08,1148.00) scale(1,1.045)" font-size="30.30">0</text>
<text transform="translate(810.08,1148.00) scale(1,1.045)" font-size="30.30">5</text>
<path transform="translate(970.65,1148.00) scale(0.03030,-0.03030)" d="M259 0V505H102V568C190 578 240 600 270 650C280 668 288 690 292 709H347V0Z"/><text transform="translate(987.50,1148.00) scale(1,1.045)" font-size="30.30">0</text>
<text transform="translate(539.35,1180.50) scale(1,1.045)" font-size="30.55">umapNC_</text><path transform="translate(676.86,1180.50) scale(0.03055,-0.03055)" d="M259 0V505H102V568C190 578 240 600 270 650C280 668 288 690 292 709H347V0Z"/>
<g transform="translate(33.6,586) rotate(-90)"><text transform="translate(-77.25,0.00) scale(1,1.045)" font-size="30.55">umapNC_2</text></g>
</g><g class="t l">
<text transform="translate(1174.00,557.50) scale(1,1.045)" font-size="25.30">4</text>
<text transform="translate(1174.00,576.50) scale(1,1.045)" font-size="25.30">3</text>
<text transform="translate(1174.00,595.60) scale(1,1.045)" font-size="25.30">2</text>
<path transform="translate(1174.00,614.60) scale(0.02530,-0.02530)" d="M259 0V505H102V568C190 578 240 600 270 650C280 668 288 690 292 709H347V0Z"/>
<text transform="translate(1174.00,633.60) scale(1,1.045)" font-size="25.30">0</text>
</g>
<rect x="1151" y="547.3" width="15.7" height="76.8" fill="url(#cb)"/>
<path d="M1151 548.3h3.2M1163.5 548.3h3.2M1151 567.3h3.2M1163.5 567.3h3.2M1151 586.4h3.2M1163.5 586.4h3.2M1151 605.4h3.2M1163.5 605.4h3.2" stroke="#fff" stroke-width="0.7" fill="none"/>
</svg>
</body></html>
